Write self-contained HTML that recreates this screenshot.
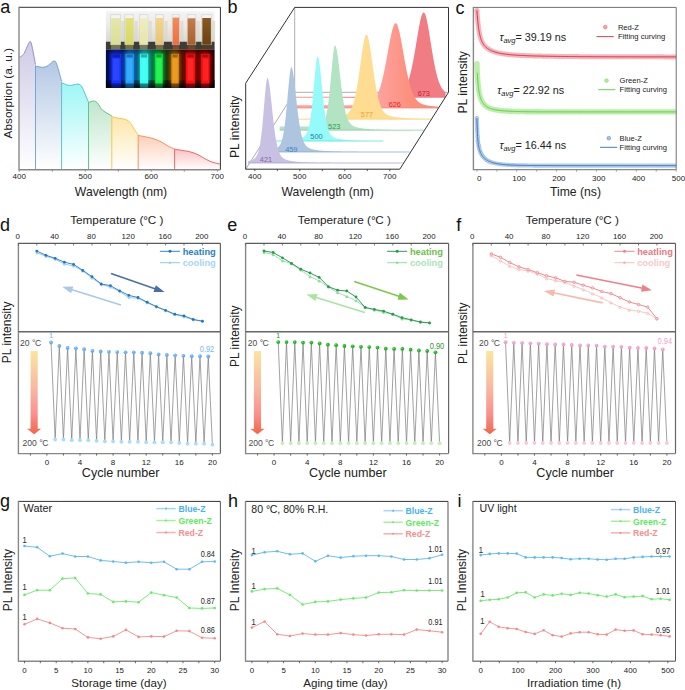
<!DOCTYPE html>
<html><head><meta charset="utf-8"><style>
html,body{margin:0;padding:0;background:#fff;}
svg{display:block;font-family:"Liberation Sans",sans-serif;}
</style></head><body>
<svg width="685" height="690" viewBox="0 0 685 690">
<defs><linearGradient id="ga0" x1="0" y1="0" x2="0" y2="1"><stop offset="0" stop-color="#cfcbe6"/><stop offset="1" stop-color="#ffffff"/></linearGradient>
<linearGradient id="ga1" x1="0" y1="0" x2="0" y2="1"><stop offset="0" stop-color="#b3c8e4"/><stop offset="1" stop-color="#ffffff"/></linearGradient>
<linearGradient id="ga2" x1="0" y1="0" x2="0" y2="1"><stop offset="0" stop-color="#9ef6f6"/><stop offset="1" stop-color="#ffffff"/></linearGradient>
<linearGradient id="ga3" x1="0" y1="0" x2="0" y2="1"><stop offset="0" stop-color="#bfe6cc"/><stop offset="1" stop-color="#ffffff"/></linearGradient>
<linearGradient id="ga4" x1="0" y1="0" x2="0" y2="1"><stop offset="0" stop-color="#fde6aa"/><stop offset="1" stop-color="#ffffff"/></linearGradient>
<linearGradient id="ga5" x1="0" y1="0" x2="0" y2="1"><stop offset="0" stop-color="#fccfb8"/><stop offset="1" stop-color="#ffffff"/></linearGradient>
<linearGradient id="ga6" x1="0" y1="0" x2="0" y2="1"><stop offset="0" stop-color="#fbc2c2"/><stop offset="1" stop-color="#ffffff"/></linearGradient>
<linearGradient id="ptop" x1="0" y1="0" x2="0" y2="1"><stop offset="0" stop-color="#f4f4f3"/><stop offset="0.5" stop-color="#eaeae6"/><stop offset="1" stop-color="#dadad2"/></linearGradient>
<filter id="soft" x="-5%" y="-5%" width="110%" height="110%"><feGaussianBlur stdDeviation="0.45"/></filter>
<filter id="glow" x="-50%" y="-20%" width="200%" height="140%"><feGaussianBlur stdDeviation="2.2"/></filter>
<linearGradient id="pbot" x1="0" y1="0" x2="1" y2="0"><stop offset="0" stop-color="#020836"/><stop offset="0.094" stop-color="#061a78"/><stop offset="0.16" stop-color="#041656"/><stop offset="0.218" stop-color="#08408a"/><stop offset="0.29" stop-color="#06345e"/><stop offset="0.35" stop-color="#087070"/><stop offset="0.42" stop-color="#065a48"/><stop offset="0.488" stop-color="#055228"/><stop offset="0.56" stop-color="#1a2a0a"/><stop offset="0.637" stop-color="#3a2a06"/><stop offset="0.7" stop-color="#3a0604"/><stop offset="0.779" stop-color="#640606"/><stop offset="0.85" stop-color="#3a0202"/><stop offset="0.915" stop-color="#460202"/><stop offset="1" stop-color="#1a0000"/></linearGradient>
<linearGradient id="liq0" x1="0" y1="0" x2="0" y2="1"><stop offset="0" stop-color="#e4e8a8"/><stop offset="1" stop-color="#dadf96"/></linearGradient>
<linearGradient id="liq1" x1="0" y1="0" x2="0" y2="1"><stop offset="0" stop-color="#e2e27a"/><stop offset="1" stop-color="#d8d866"/></linearGradient>
<linearGradient id="liq2" x1="0" y1="0" x2="0" y2="1"><stop offset="0" stop-color="#eeeebe"/><stop offset="1" stop-color="#e4e6aa"/></linearGradient>
<linearGradient id="liq3" x1="0" y1="0" x2="0" y2="1"><stop offset="0" stop-color="#f2d68c"/><stop offset="1" stop-color="#e8c474"/></linearGradient>
<linearGradient id="liq4" x1="0" y1="0" x2="0" y2="1"><stop offset="0" stop-color="#f48a5c"/><stop offset="1" stop-color="#ec7040"/></linearGradient>
<linearGradient id="liq5" x1="0" y1="0" x2="0" y2="1"><stop offset="0" stop-color="#c47c4c"/><stop offset="1" stop-color="#a8602c"/></linearGradient>
<linearGradient id="liq6" x1="0" y1="0" x2="0" y2="1"><stop offset="0" stop-color="#8a5a22"/><stop offset="1" stop-color="#6a4010"/></linearGradient>
<linearGradient id="g626" gradientUnits="userSpaceOnUse" x1="378" y1="0" x2="412" y2="0"><stop offset="0" stop-color="#fda2a0"/><stop offset="1" stop-color="#fd8e7a"/></linearGradient>
<linearGradient id="grd" x1="0" y1="0" x2="0" y2="1"><stop offset="0" stop-color="#fde4a0"/><stop offset="0.45" stop-color="#f8b8a0"/><stop offset="0.75" stop-color="#fc9090"/><stop offset="1" stop-color="#f06848"/></linearGradient>
<linearGradient id="gre" x1="0" y1="0" x2="0" y2="1"><stop offset="0" stop-color="#fde4a0"/><stop offset="0.45" stop-color="#f8b8a0"/><stop offset="0.75" stop-color="#fc9090"/><stop offset="1" stop-color="#f06848"/></linearGradient>
<linearGradient id="grf" x1="0" y1="0" x2="0" y2="1"><stop offset="0" stop-color="#fde4a0"/><stop offset="0.45" stop-color="#f8b8a0"/><stop offset="0.75" stop-color="#fc9090"/><stop offset="1" stop-color="#f06848"/></linearGradient></defs>
<rect x="0" y="0" width="685" height="690" fill="#fff"/>
<path d="M19.3,169.8 L19.3,57.3 C19.65,57.12 20.62,56.83 21.4,56.2 C22.18,55.57 23.07,55.03 24,53.5 C24.93,51.97 26.03,48.98 27,47 C27.97,45.02 29.05,42.1 29.8,41.6 C30.55,41.1 30.88,41.93 31.5,44 C32.12,46.07 32.83,50.58 33.5,54 C34.17,57.42 35.17,62.75 35.5,64.5 L35.5,169.8 Z" fill="url(#ga0)" stroke="none" stroke-width="1"/>
<path d="M19.3,57.3 C19.65,57.12 20.62,56.83 21.4,56.2 C22.18,55.57 23.07,55.03 24,53.5 C24.93,51.97 26.03,48.98 27,47 C27.97,45.02 29.05,42.1 29.8,41.6 C30.55,41.1 30.88,41.93 31.5,44 C32.12,46.07 32.83,50.58 33.5,54 C34.17,57.42 35.17,62.75 35.5,64.5" fill="none" stroke="#8a86c8" stroke-width="0.9"/>
<path d="M35.5,169.8 L35.5,66.1 C36.08,66.22 37.73,66.6 39,66.8 C40.27,67 41.77,67.38 43.1,67.3 C44.43,67.22 45.77,66.93 47,66.3 C48.23,65.67 49.35,64.38 50.5,63.5 C51.65,62.62 52.98,61.17 53.9,61 C54.82,60.83 55.23,61 56,62.5 C56.77,64 57.57,66.85 58.5,70 C59.43,73.15 61.08,79.5 61.6,81.4 L61.6,169.8 Z" fill="url(#ga1)" stroke="none" stroke-width="1"/>
<path d="M35.5,66.1 C36.08,66.22 37.73,66.6 39,66.8 C40.27,67 41.77,67.38 43.1,67.3 C44.43,67.22 45.77,66.93 47,66.3 C48.23,65.67 49.35,64.38 50.5,63.5 C51.65,62.62 52.98,61.17 53.9,61 C54.82,60.83 55.23,61 56,62.5 C56.77,64 57.57,66.85 58.5,70 C59.43,73.15 61.08,79.5 61.6,81.4" fill="none" stroke="#6f9bd2" stroke-width="0.9"/>
<line x1="35.5" y1="65.6" x2="35.5" y2="169.8" stroke="#6f9bd2" stroke-width="0.9"/>
<path d="M61.6,169.8 L61.6,82.7 C62,82.88 63.1,83.42 64,83.8 C64.9,84.18 65.93,84.73 67,85 C68.07,85.27 69.23,85.43 70.4,85.4 C71.57,85.37 72.9,85 74,84.8 C75.1,84.6 76.13,84.28 77,84.2 C77.87,84.12 78.37,83.83 79.2,84.3 C80.03,84.77 80.95,85.22 82,87 C83.05,88.78 84.42,92.45 85.5,95 C86.58,97.55 88,101.08 88.5,102.3 L88.5,169.8 Z" fill="url(#ga2)" stroke="none" stroke-width="1"/>
<path d="M61.6,82.7 C62,82.88 63.1,83.42 64,83.8 C64.9,84.18 65.93,84.73 67,85 C68.07,85.27 69.23,85.43 70.4,85.4 C71.57,85.37 72.9,85 74,84.8 C75.1,84.6 76.13,84.28 77,84.2 C77.87,84.12 78.37,83.83 79.2,84.3 C80.03,84.77 80.95,85.22 82,87 C83.05,88.78 84.42,92.45 85.5,95 C86.58,97.55 88,101.08 88.5,102.3" fill="none" stroke="#46c0c6" stroke-width="0.9"/>
<line x1="61.6" y1="82.2" x2="61.6" y2="169.8" stroke="#46c0c6" stroke-width="0.9"/>
<path d="M88.5,169.8 L88.5,102.7 C88.92,102.52 90.02,101.88 91,101.6 C91.98,101.32 93.4,100.85 94.4,101 C95.4,101.15 96.15,101.67 97,102.5 C97.85,103.33 98.8,104.95 99.5,106 C100.2,107.05 100.45,107.92 101.2,108.8 C101.95,109.68 102.87,110.47 104,111.3 C105.13,112.13 106.7,113.05 108,113.8 C109.3,114.55 111.17,115.47 111.8,115.8 L111.8,169.8 Z" fill="url(#ga3)" stroke="none" stroke-width="1"/>
<path d="M88.5,102.7 C88.92,102.52 90.02,101.88 91,101.6 C91.98,101.32 93.4,100.85 94.4,101 C95.4,101.15 96.15,101.67 97,102.5 C97.85,103.33 98.8,104.95 99.5,106 C100.2,107.05 100.45,107.92 101.2,108.8 C101.95,109.68 102.87,110.47 104,111.3 C105.13,112.13 106.7,113.05 108,113.8 C109.3,114.55 111.17,115.47 111.8,115.8" fill="none" stroke="#4fc27c" stroke-width="0.9"/>
<line x1="88.5" y1="102.2" x2="88.5" y2="169.8" stroke="#4fc27c" stroke-width="0.9"/>
<path d="M111.8,169.8 L111.8,116.5 C112.33,116.67 113.8,117.2 115,117.5 C116.2,117.8 117.75,118.08 119,118.3 C120.25,118.52 121.42,118.6 122.5,118.8 C123.58,119 124.5,119.13 125.5,119.5 C126.5,119.87 127.5,120.17 128.5,121 C129.5,121.83 130.5,123.08 131.5,124.5 C132.5,125.92 133.38,127.77 134.5,129.5 C135.62,131.23 137.58,134 138.2,134.9 L138.2,169.8 Z" fill="url(#ga4)" stroke="none" stroke-width="1"/>
<path d="M111.8,116.5 C112.33,116.67 113.8,117.2 115,117.5 C116.2,117.8 117.75,118.08 119,118.3 C120.25,118.52 121.42,118.6 122.5,118.8 C123.58,119 124.5,119.13 125.5,119.5 C126.5,119.87 127.5,120.17 128.5,121 C129.5,121.83 130.5,123.08 131.5,124.5 C132.5,125.92 133.38,127.77 134.5,129.5 C135.62,131.23 137.58,134 138.2,134.9" fill="none" stroke="#f3c338" stroke-width="0.9"/>
<line x1="111.8" y1="116" x2="111.8" y2="169.8" stroke="#f3c338" stroke-width="0.9"/>
<path d="M138.2,169.8 L138.2,135.5 C139,135.63 141.37,136 143,136.3 C144.63,136.6 146.5,136.97 148,137.3 C149.5,137.63 150.67,137.92 152,138.3 C153.33,138.68 154.67,139.1 156,139.6 C157.33,140.1 158.67,140.65 160,141.3 C161.33,141.95 162.67,142.72 164,143.5 C165.33,144.28 166.67,145.25 168,146 C169.33,146.75 170.9,147.53 172,148 C173.1,148.47 174.17,148.67 174.6,148.8 L174.6,169.8 Z" fill="url(#ga5)" stroke="none" stroke-width="1"/>
<path d="M138.2,135.5 C139,135.63 141.37,136 143,136.3 C144.63,136.6 146.5,136.97 148,137.3 C149.5,137.63 150.67,137.92 152,138.3 C153.33,138.68 154.67,139.1 156,139.6 C157.33,140.1 158.67,140.65 160,141.3 C161.33,141.95 162.67,142.72 164,143.5 C165.33,144.28 166.67,145.25 168,146 C169.33,146.75 170.9,147.53 172,148 C173.1,148.47 174.17,148.67 174.6,148.8" fill="none" stroke="#f08a55" stroke-width="0.9"/>
<line x1="138.2" y1="135" x2="138.2" y2="169.8" stroke="#f08a55" stroke-width="0.9"/>
<path d="M174.6,169.8 L174.6,149.3 C175.5,149.42 178.1,149.72 180,150 C181.9,150.28 184.33,150.7 186,151 C187.67,151.3 188.67,151.47 190,151.8 C191.33,152.13 192.67,152.52 194,153 C195.33,153.48 196.67,154.03 198,154.7 C199.33,155.37 200.67,156.23 202,157 C203.33,157.77 204.67,158.58 206,159.3 C207.33,160.02 208.67,160.73 210,161.3 C211.33,161.87 212.67,162.32 214,162.7 C215.33,163.08 216.97,163.37 218,163.6 C219.03,163.83 219.83,164.02 220.2,164.1 L220.2,169.8 Z" fill="url(#ga6)" stroke="none" stroke-width="1"/>
<path d="M174.6,149.3 C175.5,149.42 178.1,149.72 180,150 C181.9,150.28 184.33,150.7 186,151 C187.67,151.3 188.67,151.47 190,151.8 C191.33,152.13 192.67,152.52 194,153 C195.33,153.48 196.67,154.03 198,154.7 C199.33,155.37 200.67,156.23 202,157 C203.33,157.77 204.67,158.58 206,159.3 C207.33,160.02 208.67,160.73 210,161.3 C211.33,161.87 212.67,162.32 214,162.7 C215.33,163.08 216.97,163.37 218,163.6 C219.03,163.83 219.83,164.02 220.2,164.1" fill="none" stroke="#ee5a5a" stroke-width="0.9"/>
<line x1="174.6" y1="148.8" x2="174.6" y2="169.8" stroke="#ee5a5a" stroke-width="0.9"/>
<line x1="19" y1="7.3" x2="220.4" y2="7.3" stroke="#333" stroke-width="1"/>
<line x1="220.4" y1="7.3" x2="220.4" y2="169.8" stroke="#333" stroke-width="1"/>
<line x1="19" y1="169.8" x2="220.4" y2="169.8" stroke="#888" stroke-width="1.4"/>
<line x1="19" y1="6.8" x2="19" y2="170.5" stroke="#888" stroke-width="1.4"/>
<line x1="19.3" y1="169.8" x2="19.3" y2="171.8" stroke="#888" stroke-width="0.8"/>
<line x1="52.3" y1="169.8" x2="52.3" y2="171.8" stroke="#888" stroke-width="0.8"/>
<line x1="85.3" y1="169.8" x2="85.3" y2="171.8" stroke="#888" stroke-width="0.8"/>
<line x1="118.3" y1="169.8" x2="118.3" y2="171.8" stroke="#888" stroke-width="0.8"/>
<line x1="151.3" y1="169.8" x2="151.3" y2="171.8" stroke="#888" stroke-width="0.8"/>
<line x1="184.3" y1="169.8" x2="184.3" y2="171.8" stroke="#888" stroke-width="0.8"/>
<line x1="217.3" y1="169.8" x2="217.3" y2="171.8" stroke="#888" stroke-width="0.8"/>
<text x="19.3" y="179.08" font-size="8" text-anchor="middle" fill="#222">400</text>
<text x="85.3" y="179.08" font-size="8" text-anchor="middle" fill="#222">500</text>
<text x="151.3" y="179.08" font-size="8" text-anchor="middle" fill="#222">600</text>
<text x="217.3" y="179.08" font-size="8" text-anchor="middle" fill="#222">700</text>
<text x="121" y="196.3" font-size="12.2" text-anchor="middle" fill="#222">Wavelength (nm)</text>
<text x="12.3" y="93.2" font-size="11.8" text-anchor="middle" fill="#222" transform="rotate(-90 12.3 93.2)">Absorption (a. u.)</text>
<text x="0.3" y="13" font-size="18" text-anchor="start" fill="#111">a</text>
<g filter="url(#soft)">
<rect x="105.9" y="11.3" width="108.7" height="30.4" fill="url(#ptop)"/>
<rect x="105.9" y="41.7" width="108.7" height="8.1" fill="#3e3d36"/>
<rect x="105.9" y="49.8" width="108.7" height="38.1" fill="url(#pbot)"/>
<rect x="105.9" y="80.2" width="108.7" height="7.7" fill="#000008" opacity="0.75"/>
<rect x="121.4" y="21" width="3.2" height="20" fill="#d8d4c8" opacity="0.6"/>
<rect x="110.6" y="14.8" width="10.2" height="30" fill="#f4f4f2" opacity="0.7"/>
<rect x="110.6" y="14.8" width="10.2" height="30" fill="none" stroke="#c4c4be" stroke-width="0.45"/>
<rect x="111.1" y="18.2" width="9.2" height="26.4" fill="url(#liq0)"/>
<rect x="111.1" y="44.6" width="9.2" height="4.8" fill="#dadf96" opacity="0.35"/>
<rect x="134.4" y="21" width="3.2" height="20" fill="#d8d4c8" opacity="0.6"/>
<rect x="124.8" y="14.8" width="9" height="30" fill="#f4f4f2" opacity="0.7"/>
<rect x="124.8" y="14.8" width="9" height="30" fill="none" stroke="#c4c4be" stroke-width="0.45"/>
<rect x="125.3" y="18" width="8" height="26.6" fill="url(#liq1)"/>
<rect x="125.3" y="44.6" width="8" height="4.8" fill="#d8d866" opacity="0.35"/>
<rect x="148.6" y="21" width="3.2" height="20" fill="#d8d4c8" opacity="0.6"/>
<rect x="139.3" y="14.8" width="8.7" height="30" fill="#f4f4f2" opacity="0.7"/>
<rect x="139.3" y="14.8" width="8.7" height="30" fill="none" stroke="#c4c4be" stroke-width="0.45"/>
<rect x="139.8" y="18.4" width="7.7" height="26.2" fill="url(#liq2)"/>
<rect x="139.8" y="44.6" width="7.7" height="4.8" fill="#e4e6aa" opacity="0.35"/>
<rect x="164.4" y="21" width="3.2" height="20" fill="#d8d4c8" opacity="0.6"/>
<rect x="155.3" y="14.8" width="8.5" height="30" fill="#f4f4f2" opacity="0.7"/>
<rect x="155.3" y="14.8" width="8.5" height="30" fill="none" stroke="#c4c4be" stroke-width="0.45"/>
<rect x="155.8" y="18" width="7.5" height="26.6" fill="url(#liq3)"/>
<rect x="155.8" y="44.6" width="7.5" height="4.8" fill="#e8c474" opacity="0.35"/>
<rect x="180.2" y="21" width="3.2" height="20" fill="#d8d4c8" opacity="0.6"/>
<rect x="172.1" y="14.8" width="7.5" height="30" fill="#f4f4f2" opacity="0.7"/>
<rect x="172.1" y="14.8" width="7.5" height="30" fill="none" stroke="#c4c4be" stroke-width="0.45"/>
<rect x="172.6" y="17.6" width="6.5" height="27" fill="url(#liq4)"/>
<rect x="172.6" y="44.6" width="6.5" height="4.8" fill="#ec7040" opacity="0.35"/>
<rect x="196.5" y="21" width="3.2" height="20" fill="#d8d4c8" opacity="0.6"/>
<rect x="187.1" y="14.8" width="8.8" height="30" fill="#f4f4f2" opacity="0.7"/>
<rect x="187.1" y="14.8" width="8.8" height="30" fill="none" stroke="#c4c4be" stroke-width="0.45"/>
<rect x="187.6" y="18.3" width="7.8" height="26.3" fill="url(#liq5)"/>
<rect x="187.6" y="44.6" width="7.8" height="4.8" fill="#a8602c" opacity="0.35"/>
<rect x="212" y="21" width="3.2" height="20" fill="#d8d4c8" opacity="0.6"/>
<rect x="201.8" y="14.8" width="9.6" height="30" fill="#f4f4f2" opacity="0.7"/>
<rect x="201.8" y="14.8" width="9.6" height="30" fill="none" stroke="#c4c4be" stroke-width="0.45"/>
<rect x="202.3" y="18" width="8.6" height="26.6" fill="url(#liq6)"/>
<rect x="202.3" y="44.6" width="8.6" height="4.8" fill="#6a4010" opacity="0.35"/>
<rect x="109.9" y="52.5" width="12.7" height="31.5" fill="#1430ff" opacity="0.55" filter="url(#glow)"/>
<rect x="124" y="52.5" width="11.3" height="31.5" fill="#22a2ff" opacity="0.55" filter="url(#glow)"/>
<rect x="138.4" y="52.5" width="11.3" height="31.5" fill="#34fff2" opacity="0.55" filter="url(#glow)"/>
<rect x="153.7" y="52.5" width="10.5" height="31.5" fill="#12f044" opacity="0.55" filter="url(#glow)"/>
<rect x="169.9" y="52.5" width="10.4" height="31.5" fill="#e8920e" opacity="0.55" filter="url(#glow)"/>
<rect x="184.6" y="52.5" width="11.8" height="31.5" fill="#ff1010" opacity="0.55" filter="url(#glow)"/>
<rect x="199.7" y="52.5" width="11.3" height="31.5" fill="#ff0c0c" opacity="0.55" filter="url(#glow)"/>
<rect x="111.4" y="53.8" width="9.7" height="29.7" fill="#1430ff"/>
<rect x="113" y="58.5" width="6.5" height="22" fill="#ffffff" opacity="0.1"/>
<rect x="112.4" y="54.3" width="7.7" height="3.2" fill="#000000" opacity="0.3"/>
<rect x="111.4" y="83.5" width="9.7" height="4.2" fill="#1430ff" opacity="0.35"/>
<rect x="125.5" y="53.8" width="8.3" height="29.7" fill="#22a2ff"/>
<rect x="127.1" y="58.5" width="5.1" height="22" fill="#ffffff" opacity="0.1"/>
<rect x="126.5" y="54.3" width="6.3" height="3.2" fill="#000000" opacity="0.3"/>
<rect x="125.5" y="83.5" width="8.3" height="4.2" fill="#22a2ff" opacity="0.35"/>
<rect x="139.9" y="53.8" width="8.3" height="29.7" fill="#34fff2"/>
<rect x="141.5" y="58.5" width="5.1" height="22" fill="#ffffff" opacity="0.1"/>
<rect x="140.9" y="54.3" width="6.3" height="3.2" fill="#000000" opacity="0.3"/>
<rect x="139.9" y="83.5" width="8.3" height="4.2" fill="#34fff2" opacity="0.35"/>
<rect x="155.2" y="53.8" width="7.5" height="29.7" fill="#12f044"/>
<rect x="156.8" y="58.5" width="4.3" height="22" fill="#ffffff" opacity="0.1"/>
<rect x="156.2" y="54.3" width="5.5" height="3.2" fill="#000000" opacity="0.3"/>
<rect x="155.2" y="83.5" width="7.5" height="4.2" fill="#12f044" opacity="0.35"/>
<rect x="171.4" y="53.8" width="7.4" height="29.7" fill="#e8920e"/>
<rect x="173" y="58.5" width="4.2" height="22" fill="#ffffff" opacity="0.1"/>
<rect x="172.4" y="54.3" width="5.4" height="3.2" fill="#000000" opacity="0.3"/>
<rect x="171.4" y="83.5" width="7.4" height="4.2" fill="#e8920e" opacity="0.35"/>
<rect x="186.1" y="53.8" width="8.8" height="29.7" fill="#ff1010"/>
<rect x="187.7" y="58.5" width="5.6" height="22" fill="#ffffff" opacity="0.1"/>
<rect x="187.1" y="54.3" width="6.8" height="3.2" fill="#000000" opacity="0.3"/>
<rect x="186.1" y="83.5" width="8.8" height="4.2" fill="#ff1010" opacity="0.35"/>
<rect x="201.2" y="53.8" width="8.3" height="29.7" fill="#ff0c0c"/>
<rect x="202.8" y="58.5" width="5.1" height="22" fill="#ffffff" opacity="0.1"/>
<rect x="202.2" y="54.3" width="6.3" height="3.2" fill="#000000" opacity="0.3"/>
<rect x="201.2" y="83.5" width="8.3" height="4.2" fill="#ff0c0c" opacity="0.35"/>
</g>
<line x1="294.7" y1="92.3" x2="448.5" y2="92.3" stroke="#777" stroke-width="0.6"/>
<line x1="294.7" y1="7.4" x2="294.7" y2="92.3" stroke="#777" stroke-width="0.6"/>
<line x1="245.7" y1="169.2" x2="294.7" y2="92.3" stroke="#777" stroke-width="0.6"/>
<path d="M295.88,97.5 L295.88,97.34 L296.11,97.34 L296.33,97.34 L296.56,97.34 L296.78,97.34 L297.01,97.34 L297.23,97.34 L297.46,97.34 L297.68,97.33 L297.91,97.33 L298.13,97.33 L298.36,97.33 L298.58,97.33 L298.81,97.33 L299.03,97.33 L299.26,97.33 L299.48,97.33 L299.71,97.33 L299.93,97.33 L300.16,97.33 L300.38,97.33 L300.61,97.33 L300.83,97.33 L301.06,97.33 L301.28,97.32 L301.51,97.32 L301.73,97.32 L301.96,97.32 L302.18,97.32 L302.41,97.32 L302.63,97.32 L302.86,97.32 L303.08,97.32 L303.31,97.32 L303.53,97.32 L303.76,97.32 L303.98,97.32 L304.21,97.32 L304.43,97.32 L304.66,97.31 L304.88,97.31 L305.11,97.31 L305.33,97.31 L305.56,97.31 L305.78,97.31 L306.01,97.31 L306.23,97.31 L306.46,97.31 L306.68,97.31 L306.91,97.31 L307.13,97.31 L307.36,97.31 L307.58,97.31 L307.81,97.3 L308.03,97.3 L308.26,97.3 L308.48,97.3 L308.71,97.3 L308.93,97.3 L309.16,97.3 L309.38,97.3 L309.61,97.3 L309.83,97.3 L310.06,97.3 L310.28,97.3 L310.51,97.3 L310.73,97.29 L310.96,97.29 L311.18,97.29 L311.41,97.29 L311.63,97.29 L311.86,97.29 L312.08,97.29 L312.31,97.29 L312.53,97.29 L312.76,97.29 L312.98,97.29 L313.21,97.29 L313.43,97.28 L313.66,97.28 L313.88,97.28 L314.11,97.28 L314.33,97.28 L314.56,97.28 L314.78,97.28 L315.01,97.28 L315.23,97.28 L315.46,97.28 L315.68,97.28 L315.91,97.27 L316.13,97.27 L316.36,97.27 L316.58,97.27 L316.81,97.27 L317.03,97.27 L317.26,97.27 L317.48,97.27 L317.71,97.27 L317.93,97.27 L318.16,97.26 L318.38,97.26 L318.61,97.26 L318.83,97.26 L319.06,97.26 L319.28,97.26 L319.51,97.26 L319.73,97.26 L319.96,97.26 L320.18,97.26 L320.41,97.25 L320.63,97.25 L320.86,97.25 L321.08,97.25 L321.31,97.25 L321.53,97.25 L321.76,97.25 L321.98,97.25 L322.21,97.25 L322.43,97.24 L322.66,97.24 L322.88,97.24 L323.11,97.24 L323.33,97.24 L323.56,97.24 L323.78,97.24 L324.01,97.24 L324.23,97.24 L324.46,97.23 L324.68,97.23 L324.91,97.23 L325.13,97.23 L325.36,97.23 L325.58,97.23 L325.81,97.23 L326.03,97.23 L326.26,97.22 L326.48,97.22 L326.71,97.22 L326.93,97.22 L327.16,97.22 L327.38,97.22 L327.61,97.22 L327.83,97.22 L328.06,97.21 L328.28,97.21 L328.51,97.21 L328.73,97.21 L328.96,97.21 L329.18,97.21 L329.41,97.21 L329.63,97.2 L329.86,97.2 L330.08,97.2 L330.31,97.2 L330.53,97.2 L330.76,97.2 L330.98,97.2 L331.21,97.19 L331.43,97.19 L331.66,97.19 L331.88,97.19 L332.11,97.19 L332.33,97.19 L332.56,97.19 L332.78,97.18 L333.01,97.18 L333.23,97.18 L333.46,97.18 L333.68,97.18 L333.91,97.18 L334.13,97.17 L334.36,97.17 L334.58,97.17 L334.81,97.17 L335.03,97.17 L335.26,97.17 L335.48,97.16 L335.71,97.16 L335.93,97.16 L336.16,97.16 L336.38,97.16 L336.61,97.16 L336.83,97.15 L337.06,97.15 L337.28,97.15 L337.51,97.15 L337.73,97.15 L337.96,97.15 L338.18,97.14 L338.41,97.14 L338.63,97.14 L338.86,97.14 L339.08,97.14 L339.31,97.13 L339.53,97.13 L339.76,97.13 L339.98,97.13 L340.21,97.13 L340.43,97.12 L340.66,97.12 L340.88,97.12 L341.11,97.12 L341.33,97.12 L341.56,97.11 L341.78,97.11 L342.01,97.11 L342.23,97.11 L342.46,97.11 L342.68,97.1 L342.91,97.1 L343.13,97.1 L343.36,97.1 L343.58,97.09 L343.81,97.09 L344.03,97.09 L344.26,97.09 L344.48,97.09 L344.71,97.08 L344.93,97.08 L345.16,97.08 L345.38,97.08 L345.61,97.07 L345.83,97.07 L346.06,97.07 L346.28,97.07 L346.51,97.06 L346.73,97.06 L346.96,97.06 L347.18,97.06 L347.41,97.05 L347.63,97.05 L347.86,97.05 L348.08,97.05 L348.31,97.04 L348.53,97.04 L348.76,97.04 L348.98,97.03 L349.21,97.03 L349.43,97.03 L349.66,97.03 L349.88,97.02 L350.11,97.02 L350.33,97.02 L350.56,97.01 L350.78,97.01 L351.01,97.01 L351.23,97.01 L351.46,97 L351.68,97 L351.91,97 L352.13,96.99 L352.36,96.99 L352.58,96.99 L352.81,96.98 L353.03,96.98 L353.26,96.98 L353.48,96.97 L353.71,96.97 L353.93,96.97 L354.16,96.96 L354.38,96.96 L354.61,96.96 L354.83,96.95 L355.06,96.95 L355.28,96.95 L355.51,96.94 L355.73,96.94 L355.96,96.94 L356.18,96.93 L356.41,96.93 L356.63,96.92 L356.86,96.92 L357.08,96.92 L357.31,96.91 L357.53,96.91 L357.76,96.9 L357.98,96.9 L358.21,96.9 L358.43,96.89 L358.66,96.89 L358.88,96.88 L359.11,96.88 L359.33,96.88 L359.56,96.87 L359.78,96.87 L360.01,96.86 L360.23,96.86 L360.46,96.85 L360.68,96.85 L360.91,96.84 L361.13,96.84 L361.36,96.84 L361.58,96.83 L361.81,96.83 L362.03,96.82 L362.26,96.82 L362.48,96.81 L362.71,96.81 L362.93,96.8 L363.16,96.8 L363.38,96.79 L363.61,96.79 L363.83,96.78 L364.06,96.78 L364.28,96.77 L364.51,96.76 L364.73,96.76 L364.96,96.75 L365.18,96.75 L365.41,96.74 L365.63,96.74 L365.86,96.73 L366.08,96.73 L366.31,96.72 L366.53,96.71 L366.76,96.71 L366.98,96.7 L367.21,96.69 L367.43,96.69 L367.66,96.68 L367.88,96.68 L368.11,96.67 L368.33,96.66 L368.56,96.66 L368.78,96.65 L369.01,96.64 L369.23,96.64 L369.46,96.63 L369.68,96.62 L369.91,96.61 L370.13,96.61 L370.36,96.6 L370.58,96.59 L370.81,96.58 L371.03,96.58 L371.26,96.57 L371.48,96.56 L371.71,96.55 L371.93,96.55 L372.16,96.54 L372.38,96.53 L372.61,96.52 L372.83,96.51 L373.06,96.5 L373.28,96.5 L373.51,96.49 L373.73,96.48 L373.96,96.47 L374.18,96.46 L374.41,96.45 L374.63,96.44 L374.86,96.43 L375.08,96.42 L375.31,96.41 L375.53,96.4 L375.76,96.39 L375.98,96.38 L376.21,96.37 L376.43,96.36 L376.66,96.35 L376.88,96.34 L377.11,96.33 L377.33,96.32 L377.56,96.31 L377.78,96.3 L378.01,96.29 L378.23,96.27 L378.46,96.26 L378.68,96.25 L378.91,96.24 L379.13,96.23 L379.36,96.21 L379.58,96.2 L379.81,96.19 L380.03,96.18 L380.26,96.16 L380.48,96.15 L380.71,96.14 L380.93,96.12 L381.16,96.11 L381.38,96.09 L381.61,96.08 L381.83,96.07 L382.06,96.05 L382.28,96.04 L382.51,96.02 L382.73,96 L382.96,95.99 L383.18,95.97 L383.41,95.96 L383.63,95.94 L383.86,95.92 L384.08,95.91 L384.31,95.89 L384.53,95.87 L384.76,95.85 L384.98,95.84 L385.21,95.82 L385.43,95.8 L385.66,95.78 L385.88,95.76 L386.11,95.74 L386.33,95.72 L386.56,95.7 L386.78,95.68 L387.01,95.66 L387.23,95.64 L387.46,95.61 L387.68,95.59 L387.91,95.57 L388.13,95.55 L388.36,95.52 L388.58,95.5 L388.81,95.47 L389.03,95.45 L389.26,95.42 L389.48,95.4 L389.71,95.37 L389.93,95.34 L390.16,95.31 L390.38,95.29 L390.61,95.26 L390.83,95.23 L391.06,95.2 L391.28,95.17 L391.51,95.13 L391.73,95.1 L391.96,95.07 L392.18,95.03 L392.41,95 L392.63,94.96 L392.86,94.93 L393.08,94.89 L393.31,94.85 L393.53,94.81 L393.76,94.77 L393.98,94.73 L394.21,94.68 L394.43,94.64 L394.66,94.59 L394.88,94.54 L395.11,94.49 L395.33,94.44 L395.56,94.39 L395.78,94.33 L396.01,94.27 L396.23,94.21 L396.46,94.15 L396.68,94.09 L396.91,94.02 L397.13,93.95 L397.36,93.88 L397.58,93.8 L397.81,93.72 L398.03,93.64 L398.26,93.56 L398.48,93.47 L398.71,93.37 L398.93,93.27 L399.16,93.17 L399.38,93.07 L399.61,92.95 L399.83,92.84 L400.06,92.71 L400.28,92.59 L400.51,92.45 L400.73,92.31 L400.96,92.16 L401.18,92.01 L401.41,91.84 L401.63,91.67 L401.86,91.49 L402.08,91.3 L402.31,91.11 L402.53,90.9 L402.76,90.68 L402.98,90.45 L403.21,90.21 L403.43,89.96 L403.66,89.7 L403.88,89.43 L404.11,89.14 L404.33,88.84 L404.56,88.52 L404.78,88.19 L405.01,87.84 L405.23,87.48 L405.46,87.1 L405.68,86.71 L405.91,86.3 L406.13,85.87 L406.36,85.42 L406.58,84.95 L406.81,84.46 L407.03,83.95 L407.26,83.42 L407.48,82.87 L407.71,82.3 L407.93,81.71 L408.16,81.09 L408.38,80.45 L408.61,79.79 L408.83,79.1 L409.06,78.39 L409.28,77.65 L409.51,76.89 L409.73,76.1 L409.96,75.29 L410.18,74.46 L410.41,73.59 L410.63,72.7 L410.86,71.79 L411.08,70.85 L411.31,69.89 L411.53,68.9 L411.76,67.88 L411.98,66.84 L412.21,65.77 L412.43,64.68 L412.66,63.57 L412.88,62.44 L413.11,61.28 L413.33,60.1 L413.56,58.89 L413.78,57.67 L414.01,56.43 L414.23,55.17 L414.46,53.9 L414.68,52.61 L414.91,51.3 L415.13,49.98 L415.36,48.65 L415.58,47.31 L415.81,45.96 L416.03,44.6 L416.26,43.24 L416.48,41.87 L416.71,40.51 L416.93,39.14 L417.16,37.78 L417.38,36.43 L417.61,35.08 L417.83,33.74 L418.06,32.42 L418.28,31.12 L418.51,29.83 L418.73,28.56 L418.96,27.32 L419.18,26.11 L419.41,24.93 L419.63,23.79 L419.86,22.68 L420.08,21.61 L420.31,20.59 L420.53,19.61 L420.76,18.69 L420.98,17.82 L421.21,17 L421.43,16.25 L421.66,15.56 L421.88,14.93 L422.11,14.37 L422.33,13.88 L422.56,13.46 L422.78,13.12 L423.01,12.85 L423.23,12.66 L423.46,12.54 L423.68,12.5 L423.91,12.54 L424.13,12.67 L424.36,12.88 L424.58,13.17 L424.81,13.54 L425.03,13.99 L425.26,14.52 L425.48,15.12 L425.71,15.79 L425.93,16.54 L426.16,17.35 L426.38,18.22 L426.61,19.15 L426.83,20.14 L427.06,21.18 L427.28,22.27 L427.51,23.41 L427.73,24.59 L427.96,25.8 L428.18,27.05 L428.41,28.34 L428.63,29.65 L428.86,30.98 L429.08,32.34 L429.31,33.71 L429.53,35.1 L429.76,36.5 L429.98,37.9 L430.21,39.32 L430.43,40.74 L430.66,42.16 L430.88,43.57 L431.11,44.99 L431.33,46.39 L431.56,47.79 L431.78,49.18 L432.01,50.56 L432.23,51.93 L432.46,53.28 L432.68,54.61 L432.91,55.93 L433.13,57.22 L433.36,58.5 L433.58,59.76 L433.81,60.99 L434.03,62.2 L434.26,63.38 L434.48,64.54 L434.71,65.68 L434.93,66.78 L435.16,67.87 L435.38,68.92 L435.61,69.95 L435.83,70.95 L436.06,71.92 L436.28,72.87 L436.51,73.79 L436.73,74.68 L436.96,75.54 L437.18,76.37 L437.41,77.18 L437.63,77.96 L437.86,78.71 L438.08,79.44 L438.31,80.14 L438.53,80.82 L438.76,81.47 L438.98,82.1 L439.21,82.7 L439.43,83.28 L439.66,83.83 L439.88,84.36 L440.11,84.87 L440.33,85.36 L440.56,85.83 L440.78,86.28 L441.01,86.71 L441.23,87.12 L441.46,87.51 L441.68,87.89 L441.91,88.24 L442.13,88.58 L442.36,88.91 L442.58,89.22 L442.81,89.51 L443.03,89.8 L443.26,90.06 L443.48,90.32 L443.71,90.56 L443.93,90.79 L444.16,91.01 L444.38,91.22 L444.61,91.42 L444.83,91.61 L445.06,91.79 L445.28,91.96 L445.51,92.13 L445.53,92.13 L445.53,97.5 Z" fill="#f27c84" stroke="none" stroke-width="1"/>
<line x1="295.88" y1="97.2" x2="445.53" y2="97.2" stroke="#ec7078" stroke-width="0.6"/>
<text x="423.8" y="96.36" font-size="7.4" text-anchor="middle" fill="#c82030">673</text>
<path d="M295.76,108.2 L295.76,105.14 L295.99,105.14 L296.21,105.14 L296.44,105.14 L296.66,105.14 L296.89,105.14 L297.11,105.14 L297.34,105.14 L297.56,105.14 L297.79,105.14 L298.01,105.14 L298.24,105.14 L298.46,105.14 L298.69,105.14 L298.91,105.14 L299.14,105.14 L299.36,105.14 L299.59,105.14 L299.81,105.14 L300.04,105.14 L300.26,105.14 L300.49,105.14 L300.71,105.14 L300.94,105.14 L301.16,105.14 L301.39,105.14 L301.61,105.14 L301.84,105.14 L302.06,105.14 L302.29,105.14 L302.51,105.14 L302.74,105.14 L302.96,105.14 L303.19,105.14 L303.41,105.14 L303.64,105.14 L303.86,105.14 L304.09,105.14 L304.31,105.14 L304.54,105.14 L304.76,105.14 L304.99,105.14 L305.21,105.14 L305.44,105.14 L305.66,105.14 L305.89,105.14 L306.11,105.14 L306.34,105.14 L306.56,105.14 L306.79,105.14 L307.01,105.14 L307.24,105.14 L307.46,105.14 L307.69,105.14 L307.91,105.14 L308.14,105.14 L308.36,105.14 L308.59,105.14 L308.81,105.14 L309.04,105.14 L309.26,105.14 L309.49,105.14 L309.71,105.14 L309.94,105.14 L310.16,105.14 L310.39,105.14 L310.61,105.14 L310.84,105.14 L311.06,105.14 L311.29,105.14 L311.51,105.14 L311.74,105.14 L311.96,105.14 L312.19,105.14 L312.41,105.14 L312.64,105.14 L312.86,105.14 L313.09,105.14 L313.31,105.14 L313.54,105.14 L313.76,105.14 L313.99,105.14 L314.21,105.14 L314.44,105.14 L314.66,105.14 L314.89,105.14 L315.11,105.14 L315.34,105.14 L315.56,105.14 L315.79,105.14 L316.01,105.14 L316.24,105.14 L316.46,105.14 L316.69,105.14 L316.91,105.14 L317.14,105.14 L317.36,105.14 L317.59,105.14 L317.81,105.14 L318.04,105.14 L318.26,105.14 L318.49,105.14 L318.71,105.14 L318.94,105.14 L319.16,105.14 L319.39,105.14 L319.61,105.14 L319.84,105.14 L320.06,105.14 L320.29,105.14 L320.51,105.14 L320.74,105.14 L320.96,105.14 L321.19,105.14 L321.41,105.14 L321.64,105.14 L321.86,105.14 L322.09,105.14 L322.31,105.14 L322.54,105.14 L322.76,105.14 L322.99,105.14 L323.21,105.14 L323.44,105.14 L323.66,105.14 L323.89,105.14 L324.11,105.14 L324.34,105.14 L324.56,105.14 L324.79,105.14 L325.01,105.14 L325.24,105.14 L325.46,105.14 L325.69,105.14 L325.91,105.14 L326.14,105.14 L326.36,105.14 L326.59,105.14 L326.81,105.14 L327.04,105.14 L327.26,105.14 L327.49,105.14 L327.71,105.14 L327.94,105.14 L328.16,105.14 L328.39,105.14 L328.61,105.14 L328.84,105.14 L329.06,105.14 L329.29,105.14 L329.51,105.14 L329.74,105.14 L329.96,105.14 L330.19,105.14 L330.41,105.14 L330.64,105.14 L330.86,105.14 L331.09,105.14 L331.31,105.14 L331.54,105.14 L331.76,105.14 L331.99,105.14 L332.21,105.14 L332.44,105.14 L332.66,105.14 L332.89,105.14 L333.11,105.14 L333.34,105.14 L333.56,105.14 L333.79,105.14 L334.01,105.14 L334.24,105.14 L334.46,105.14 L334.69,105.14 L334.91,105.14 L335.14,105.14 L335.36,105.14 L335.59,105.14 L335.81,105.14 L336.04,105.14 L336.26,105.14 L336.49,105.14 L336.71,105.14 L336.94,105.14 L337.16,105.14 L337.39,105.14 L337.61,105.14 L337.84,105.14 L338.06,105.14 L338.29,105.14 L338.51,105.14 L338.74,105.14 L338.96,105.14 L339.19,105.14 L339.41,105.14 L339.64,105.14 L339.86,105.14 L340.09,105.14 L340.31,105.14 L340.54,105.14 L340.76,105.14 L340.99,105.14 L341.21,105.14 L341.44,105.14 L341.66,105.14 L341.89,105.14 L342.11,105.14 L342.34,105.14 L342.56,105.14 L342.79,105.14 L343.01,105.14 L343.24,105.14 L343.46,105.14 L343.69,105.14 L343.91,105.14 L344.14,105.14 L344.36,105.14 L344.59,105.14 L344.81,105.14 L345.04,105.14 L345.26,105.14 L345.49,105.14 L345.71,105.14 L345.94,105.14 L346.16,105.14 L346.39,105.14 L346.61,105.14 L346.84,105.14 L347.06,105.14 L347.29,105.14 L347.51,105.14 L347.74,105.14 L347.96,105.14 L348.19,105.14 L348.41,105.14 L348.64,105.14 L348.86,105.14 L349.09,105.14 L349.31,105.14 L349.54,105.14 L349.76,105.14 L349.99,105.14 L350.21,105.14 L350.44,105.14 L350.66,105.14 L350.89,105.14 L351.11,105.14 L351.34,105.14 L351.56,105.14 L351.79,105.14 L352.01,105.14 L352.24,105.14 L352.46,105.14 L352.69,105.14 L352.91,105.14 L353.14,105.14 L353.36,105.14 L353.59,105.14 L353.81,105.14 L354.04,105.14 L354.26,105.14 L354.49,105.14 L354.71,105.14 L354.94,105.14 L355.16,105.14 L355.39,105.14 L355.61,105.14 L355.84,105.14 L356.06,105.14 L356.29,105.14 L356.51,105.14 L356.74,105.14 L356.96,105.14 L357.19,105.14 L357.41,105.14 L357.64,105.14 L357.86,105.14 L358.09,105.14 L358.31,105.14 L358.54,105.14 L358.76,105.14 L358.99,105.14 L359.21,105.14 L359.44,105.14 L359.66,105.14 L359.89,105.14 L360.11,105.14 L360.34,105.14 L360.56,105.14 L360.79,105.14 L361.01,105.14 L361.24,105.14 L361.46,105.14 L361.69,105.14 L361.91,105.14 L362.14,105.14 L362.36,105.14 L362.59,105.14 L362.81,105.14 L363.04,105.14 L363.26,105.14 L363.49,105.14 L363.71,105.14 L363.94,105.14 L364.16,105.14 L364.39,105.14 L364.61,105.11 L364.84,105.06 L365.06,105.01 L365.29,104.96 L365.51,104.9 L365.74,104.85 L365.96,104.79 L366.19,104.73 L366.41,104.66 L366.64,104.6 L366.86,104.53 L367.09,104.46 L367.31,104.39 L367.54,104.31 L367.76,104.23 L367.99,104.15 L368.21,104.06 L368.44,103.97 L368.66,103.88 L368.89,103.79 L369.11,103.68 L369.34,103.58 L369.56,103.47 L369.79,103.36 L370.01,103.24 L370.24,103.11 L370.46,102.98 L370.69,102.85 L370.91,102.71 L371.14,102.56 L371.36,102.4 L371.59,102.24 L371.81,102.07 L372.04,101.9 L372.26,101.71 L372.49,101.52 L372.71,101.32 L372.94,101.11 L373.16,100.89 L373.39,100.66 L373.61,100.43 L373.84,100.18 L374.06,99.92 L374.29,99.65 L374.51,99.37 L374.74,99.07 L374.96,98.77 L375.19,98.45 L375.41,98.11 L375.64,97.77 L375.86,97.41 L376.09,97.03 L376.31,96.65 L376.54,96.24 L376.76,95.82 L376.99,95.38 L377.21,94.93 L377.44,94.46 L377.66,93.98 L377.89,93.47 L378.11,92.95 L378.34,92.41 L378.56,91.85 L378.79,91.27 L379.01,90.67 L379.24,90.05 L379.46,89.41 L379.69,88.76 L379.91,88.08 L380.14,87.38 L380.36,86.66 L380.59,85.92 L380.81,85.16 L381.04,84.37 L381.26,83.57 L381.49,82.74 L381.71,81.9 L381.94,81.03 L382.16,80.14 L382.39,79.23 L382.61,78.3 L382.84,77.35 L383.06,76.38 L383.29,75.38 L383.51,74.37 L383.74,73.34 L383.96,72.3 L384.19,71.23 L384.41,70.14 L384.64,69.04 L384.86,67.92 L385.09,66.79 L385.31,65.64 L385.54,64.48 L385.76,63.31 L385.99,62.12 L386.21,60.92 L386.44,59.71 L386.66,58.49 L386.89,57.27 L387.11,56.04 L387.34,54.8 L387.56,53.56 L387.79,52.32 L388.01,51.08 L388.24,49.84 L388.46,48.6 L388.69,47.37 L388.91,46.15 L389.14,44.93 L389.36,43.72 L389.59,42.53 L389.81,41.34 L390.04,40.18 L390.26,39.04 L390.49,37.91 L390.71,36.81 L390.94,35.74 L391.16,34.69 L391.39,33.68 L391.61,32.7 L391.84,31.75 L392.06,30.84 L392.29,29.97 L392.51,29.15 L392.74,28.37 L392.96,27.63 L393.19,26.95 L393.41,26.32 L393.64,25.74 L393.86,25.22 L394.09,24.75 L394.31,24.34 L394.54,24 L394.76,23.71 L394.99,23.49 L395.21,23.33 L395.44,23.23 L395.66,23.2 L395.89,23.23 L396.11,23.34 L396.34,23.51 L396.56,23.75 L396.79,24.05 L397.01,24.42 L397.24,24.86 L397.46,25.36 L397.69,25.92 L397.91,26.53 L398.14,27.21 L398.36,27.94 L398.59,28.72 L398.81,29.55 L399.04,30.43 L399.26,31.35 L399.49,32.31 L399.71,33.32 L399.94,34.35 L400.16,35.43 L400.39,36.53 L400.61,37.66 L400.84,38.82 L401.06,40 L401.29,41.21 L401.51,42.43 L401.74,43.66 L401.96,44.91 L402.19,46.17 L402.41,47.44 L402.64,48.72 L402.86,50 L403.09,51.29 L403.31,52.57 L403.54,53.86 L403.76,55.14 L403.99,56.42 L404.21,57.69 L404.44,58.95 L404.66,60.21 L404.89,61.46 L405.11,62.69 L405.34,63.92 L405.56,65.12 L405.79,66.32 L406.01,67.5 L406.24,68.66 L406.46,69.81 L406.69,70.94 L406.91,72.05 L407.14,73.14 L407.36,74.21 L407.59,75.26 L407.81,76.28 L408.04,77.29 L408.26,78.28 L408.49,79.24 L408.71,80.18 L408.94,81.1 L409.16,82 L409.39,82.87 L409.61,83.72 L409.84,84.55 L410.06,85.35 L410.29,86.14 L410.51,86.9 L410.74,87.64 L410.96,88.35 L411.19,89.05 L411.41,89.72 L411.64,90.37 L411.86,91 L412.09,91.6 L412.31,92.19 L412.54,92.76 L412.76,93.31 L412.99,93.83 L413.21,94.34 L413.44,94.83 L413.66,95.31 L413.89,95.76 L414.11,96.2 L414.34,96.62 L414.56,97.02 L414.79,97.41 L415.01,97.78 L415.24,98.14 L415.46,98.48 L415.69,98.81 L415.91,99.12 L416.14,99.43 L416.36,99.72 L416.59,99.99 L416.81,100.26 L417.04,100.51 L417.26,100.75 L417.49,100.99 L417.71,101.21 L417.94,101.42 L418.16,101.62 L418.39,101.82 L418.61,102 L418.84,102.18 L419.06,102.35 L419.29,102.51 L419.51,102.67 L419.74,102.82 L419.96,102.96 L420.19,103.09 L420.41,103.22 L420.64,103.35 L420.86,103.47 L421.09,103.58 L421.31,103.69 L421.54,103.79 L421.76,103.89 L421.99,103.99 L422.21,104.08 L422.44,104.17 L422.66,104.25 L422.89,104.33 L423.11,104.41 L423.34,104.48 L423.56,104.56 L423.79,104.62 L424.01,104.69 L424.24,104.76 L424.46,104.82 L424.69,104.88 L424.91,104.93 L425.14,104.99 L425.36,105.04 L425.59,105.09 L425.81,105.15 L426.04,105.19 L426.26,105.24 L426.49,105.29 L426.71,105.33 L426.94,105.37 L427.16,105.41 L427.39,105.46 L427.61,105.49 L427.84,105.53 L428.06,105.57 L428.29,105.61 L428.51,105.64 L428.74,105.68 L428.96,105.71 L429.19,105.74 L429.41,105.77 L429.64,105.81 L429.86,105.84 L430.09,105.87 L430.31,105.9 L430.54,105.92 L430.76,105.95 L430.99,105.98 L431.21,106.01 L431.44,106.03 L431.66,106.06 L431.89,106.08 L432.11,106.11 L432.34,106.13 L432.56,106.16 L432.79,106.18 L433.01,106.2 L433.24,106.23 L433.46,106.25 L433.69,106.27 L433.91,106.29 L434.14,106.31 L434.36,106.33 L434.59,106.35 L434.81,106.37 L435.04,106.39 L435.26,106.41 L435.49,106.43 L435.71,106.45 L435.94,106.47 L436.16,106.49 L436.39,106.51 L436.61,106.52 L436.84,106.54 L437.06,106.56 L437.29,106.57 L437.51,106.59 L437.74,106.61 L437.96,106.62 L438.19,106.64 L438.41,106.65 L438.64,106.67 L438.66,106.67 L438.66,108.2 Z" fill="url(#g626)" stroke="none" stroke-width="1"/>
<line x1="295.76" y1="107.9" x2="438.66" y2="107.9" stroke="#f88a78" stroke-width="0.6"/>
<text x="394.8" y="106.86" font-size="7.4" text-anchor="middle" fill="#f02020">626</text>
<path d="M297.57,119.4 L297.57,118.97 L297.8,118.97 L298.02,118.97 L298.25,118.96 L298.47,118.96 L298.7,118.96 L298.92,118.96 L299.15,118.95 L299.37,118.95 L299.6,118.95 L299.82,118.94 L300.05,118.94 L300.27,118.94 L300.5,118.93 L300.72,118.93 L300.95,118.93 L301.17,118.92 L301.4,118.92 L301.62,118.92 L301.85,118.91 L302.07,118.91 L302.3,118.91 L302.52,118.9 L302.75,118.9 L302.97,118.9 L303.2,118.89 L303.42,118.89 L303.65,118.89 L303.87,118.88 L304.1,118.88 L304.32,118.88 L304.55,118.87 L304.77,118.87 L305,118.86 L305.22,118.86 L305.45,118.86 L305.67,118.85 L305.9,118.85 L306.12,118.84 L306.35,118.84 L306.57,118.84 L306.8,118.83 L307.02,118.83 L307.25,118.82 L307.47,118.82 L307.7,118.81 L307.92,118.81 L308.15,118.81 L308.37,118.8 L308.6,118.8 L308.82,118.79 L309.05,118.79 L309.27,118.78 L309.5,118.78 L309.72,118.77 L309.95,118.77 L310.17,118.76 L310.4,118.76 L310.62,118.75 L310.85,118.75 L311.07,118.74 L311.3,118.74 L311.52,118.73 L311.75,118.73 L311.97,118.72 L312.2,118.72 L312.42,118.71 L312.65,118.7 L312.87,118.7 L313.1,118.69 L313.32,118.69 L313.55,118.68 L313.77,118.68 L314,118.67 L314.22,118.66 L314.45,118.66 L314.67,118.65 L314.9,118.64 L315.12,118.64 L315.35,118.63 L315.57,118.62 L315.8,118.62 L316.02,118.61 L316.25,118.6 L316.47,118.6 L316.7,118.59 L316.92,118.58 L317.15,118.57 L317.37,118.57 L317.6,118.56 L317.82,118.55 L318.05,118.54 L318.27,118.54 L318.5,118.53 L318.72,118.52 L318.95,118.51 L319.17,118.5 L319.4,118.5 L319.62,118.49 L319.85,118.48 L320.07,118.47 L320.3,118.46 L320.52,118.45 L320.75,118.44 L320.97,118.43 L321.2,118.42 L321.42,118.42 L321.65,118.41 L321.87,118.4 L322.1,118.39 L322.32,118.38 L322.55,118.37 L322.77,118.36 L323,118.35 L323.22,118.33 L323.45,118.32 L323.67,118.31 L323.9,118.3 L324.12,118.29 L324.35,118.28 L324.57,118.27 L324.8,118.25 L325.02,118.24 L325.25,118.23 L325.47,118.22 L325.7,118.21 L325.92,118.19 L326.15,118.18 L326.37,118.17 L326.6,118.15 L326.82,118.14 L327.05,118.13 L327.27,118.11 L327.5,118.1 L327.72,118.08 L327.95,118.07 L328.17,118.05 L328.4,118.04 L328.62,118.02 L328.85,118.01 L329.07,117.99 L329.3,117.97 L329.52,117.96 L329.75,117.94 L329.97,117.92 L330.2,117.9 L330.42,117.89 L330.65,117.87 L330.87,117.85 L331.1,117.83 L331.32,117.81 L331.55,117.79 L331.77,117.77 L332,117.75 L332.22,117.73 L332.45,117.71 L332.67,117.69 L332.9,117.67 L333.12,117.64 L333.35,117.62 L333.57,117.6 L333.8,117.57 L334.02,117.55 L334.25,117.53 L334.47,117.5 L334.7,117.48 L334.92,117.45 L335.15,117.42 L335.37,117.4 L335.6,117.37 L335.82,117.34 L336.05,117.31 L336.27,117.28 L336.5,117.25 L336.72,117.22 L336.95,117.19 L337.17,117.16 L337.4,117.12 L337.62,117.09 L337.85,117.05 L338.07,117.02 L338.3,116.98 L338.52,116.95 L338.75,116.91 L338.97,116.87 L339.2,116.83 L339.42,116.79 L339.65,116.74 L339.87,116.7 L340.1,116.66 L340.32,116.61 L340.55,116.56 L340.77,116.51 L341,116.46 L341.22,116.41 L341.45,116.36 L341.67,116.3 L341.9,116.25 L342.12,116.19 L342.35,116.13 L342.57,116.06 L342.8,116 L343.02,115.93 L343.25,115.86 L343.47,115.78 L343.7,115.7 L343.92,115.62 L344.15,115.54 L344.37,115.45 L344.6,115.36 L344.82,115.26 L345.05,115.16 L345.27,115.06 L345.5,114.94 L345.72,114.83 L345.95,114.7 L346.17,114.58 L346.4,114.44 L346.62,114.3 L346.85,114.14 L347.07,113.98 L347.3,113.82 L347.52,113.64 L347.75,113.45 L347.97,113.25 L348.2,113.04 L348.42,112.82 L348.65,112.59 L348.87,112.34 L349.1,112.08 L349.32,111.8 L349.55,111.51 L349.77,111.2 L350,110.88 L350.22,110.53 L350.45,110.17 L350.67,109.79 L350.9,109.38 L351.12,108.96 L351.35,108.51 L351.57,108.03 L351.8,107.54 L352.02,107.01 L352.25,106.46 L352.47,105.88 L352.7,105.28 L352.92,104.64 L353.15,103.98 L353.37,103.28 L353.6,102.55 L353.82,101.79 L354.05,100.99 L354.27,100.16 L354.5,99.3 L354.72,98.4 L354.95,97.46 L355.17,96.49 L355.4,95.48 L355.62,94.43 L355.85,93.35 L356.07,92.23 L356.3,91.07 L356.52,89.88 L356.75,88.65 L356.97,87.39 L357.2,86.09 L357.42,84.75 L357.65,83.38 L357.87,81.98 L358.1,80.55 L358.32,79.09 L358.55,77.6 L358.77,76.08 L359,74.54 L359.22,72.98 L359.45,71.39 L359.67,69.79 L359.9,68.17 L360.12,66.55 L360.35,64.91 L360.57,63.27 L360.8,61.62 L361.02,59.98 L361.25,58.34 L361.47,56.72 L361.7,55.11 L361.92,53.52 L362.15,51.95 L362.37,50.41 L362.6,48.92 L362.82,47.46 L363.05,46.05 L363.27,44.69 L363.5,43.39 L363.72,42.16 L363.95,40.99 L364.17,39.91 L364.4,38.91 L364.62,37.99 L364.85,37.17 L365.07,36.45 L365.3,35.83 L365.52,35.32 L365.75,34.92 L365.97,34.63 L366.2,34.46 L366.42,34.4 L366.65,34.46 L366.87,34.63 L367.1,34.91 L367.32,35.29 L367.55,35.79 L367.77,36.39 L368,37.09 L368.22,37.89 L368.45,38.78 L368.67,39.75 L368.9,40.81 L369.12,41.94 L369.35,43.15 L369.57,44.41 L369.8,45.74 L370.02,47.12 L370.25,48.54 L370.47,50.01 L370.7,51.51 L370.92,53.05 L371.15,54.61 L371.37,56.19 L371.6,57.78 L371.82,59.39 L372.05,61.01 L372.27,62.63 L372.5,64.25 L372.72,65.86 L372.95,67.47 L373.17,69.07 L373.4,70.65 L373.62,72.22 L373.85,73.77 L374.07,75.3 L374.3,76.81 L374.52,78.29 L374.75,79.75 L374.97,81.17 L375.2,82.57 L375.42,83.94 L375.65,85.27 L375.87,86.58 L376.1,87.84 L376.32,89.08 L376.55,90.28 L376.77,91.44 L377,92.57 L377.22,93.66 L377.45,94.72 L377.67,95.74 L377.9,96.72 L378.12,97.67 L378.35,98.59 L378.57,99.47 L378.8,100.31 L379.02,101.12 L379.25,101.9 L379.47,102.65 L379.7,103.36 L379.92,104.05 L380.15,104.7 L380.37,105.32 L380.6,105.92 L380.82,106.49 L381.05,107.03 L381.27,107.54 L381.5,108.03 L381.72,108.5 L381.95,108.94 L382.17,109.36 L382.4,109.76 L382.62,110.14 L382.85,110.5 L383.07,110.84 L383.3,111.16 L383.52,111.47 L383.75,111.76 L383.97,112.03 L384.2,112.29 L384.42,112.54 L384.65,112.77 L384.87,112.99 L385.1,113.2 L385.32,113.4 L385.55,113.59 L385.77,113.77 L386,113.94 L386.22,114.1 L386.45,114.25 L386.67,114.39 L386.9,114.53 L387.12,114.66 L387.35,114.78 L387.57,114.9 L387.8,115.01 L388.02,115.12 L388.25,115.22 L388.47,115.32 L388.7,115.41 L388.92,115.5 L389.15,115.58 L389.37,115.66 L389.6,115.74 L389.82,115.82 L390.05,115.89 L390.27,115.96 L390.5,116.02 L390.72,116.09 L390.95,116.15 L391.17,116.21 L391.4,116.27 L391.62,116.32 L391.85,116.38 L392.07,116.43 L392.3,116.48 L392.52,116.53 L392.75,116.58 L392.97,116.62 L393.2,116.67 L393.42,116.71 L393.65,116.75 L393.87,116.79 L394.1,116.84 L394.32,116.87 L394.55,116.91 L394.77,116.95 L395,116.99 L395.22,117.02 L395.45,117.06 L395.67,117.09 L395.9,117.12 L396.12,117.16 L396.35,117.19 L396.57,117.22 L396.8,117.25 L397.02,117.28 L397.25,117.31 L397.47,117.34 L397.7,117.37 L397.92,117.39 L398.15,117.42 L398.37,117.45 L398.6,117.47 L398.82,117.5 L399.05,117.52 L399.27,117.55 L399.5,117.57 L399.72,117.59 L399.95,117.62 L400.17,117.64 L400.4,117.66 L400.62,117.68 L400.85,117.7 L401.07,117.72 L401.3,117.75 L401.52,117.77 L401.75,117.78 L401.97,117.8 L402.2,117.82 L402.42,117.84 L402.65,117.86 L402.87,117.88 L403.1,117.9 L403.32,117.91 L403.55,117.93 L403.77,117.95 L404,117.96 L404.22,117.98 L404.45,118 L404.67,118.01 L404.9,118.03 L405.12,118.04 L405.35,118.06 L405.57,118.07 L405.8,118.09 L406.02,118.1 L406.25,118.12 L406.47,118.13 L406.7,118.14 L406.92,118.16 L407.15,118.17 L407.37,118.18 L407.6,118.2 L407.82,118.21 L408.05,118.22 L408.27,118.23 L408.5,118.25 L408.72,118.26 L408.95,118.27 L409.17,118.28 L409.4,118.29 L409.62,118.3 L409.85,118.31 L410.07,118.32 L410.3,118.34 L410.52,118.35 L410.75,118.36 L410.97,118.37 L411.2,118.38 L411.42,118.39 L411.65,118.4 L411.87,118.41 L412.1,118.42 L412.32,118.42 L412.55,118.43 L412.77,118.44 L413,118.45 L413.22,118.46 L413.45,118.47 L413.67,118.48 L413.9,118.49 L414.12,118.49 L414.35,118.5 L414.57,118.51 L414.8,118.52 L415.02,118.53 L415.25,118.54 L415.47,118.54 L415.7,118.55 L415.92,118.56 L416.15,118.57 L416.37,118.57 L416.6,118.58 L416.82,118.59 L417.05,118.59 L417.27,118.6 L417.5,118.61 L417.72,118.61 L417.95,118.62 L418.17,118.63 L418.4,118.63 L418.62,118.64 L418.85,118.65 L419.07,118.65 L419.3,118.66 L419.52,118.67 L419.75,118.67 L419.97,118.68 L420.2,118.68 L420.42,118.69 L420.65,118.7 L420.87,118.7 L421.1,118.71 L421.32,118.71 L421.55,118.72 L421.77,118.72 L422,118.73 L422.22,118.73 L422.45,118.74 L422.67,118.74 L422.9,118.75 L423.12,118.75 L423.35,118.76 L423.57,118.76 L423.8,118.77 L424.02,118.77 L424.25,118.78 L424.47,118.78 L424.7,118.79 L424.92,118.79 L425.15,118.8 L425.37,118.8 L425.6,118.81 L425.82,118.81 L426.05,118.82 L426.27,118.82 L426.5,118.82 L426.72,118.83 L426.95,118.83 L427.17,118.84 L427.4,118.84 L427.62,118.84 L427.85,118.85 L428.07,118.85 L428.3,118.86 L428.52,118.86 L428.75,118.86 L428.97,118.87 L429.2,118.87 L429.42,118.88 L429.65,118.88 L429.87,118.88 L430.1,118.89 L430.32,118.89 L430.55,118.89 L430.77,118.9 L431,118.9 L431.22,118.9 L431.45,118.91 L431.47,118.91 L431.47,119.4 Z" fill="#fedd92" stroke="none" stroke-width="1"/>
<line x1="297.57" y1="119.1" x2="431.47" y2="119.1" stroke="#fbd070" stroke-width="0.6"/>
<text x="367" y="116.86" font-size="7.4" text-anchor="middle" fill="#f0a030">577</text>
<path d="M279.71,130.4 L279.71,126.58 L279.93,126.58 L280.16,126.58 L280.38,126.58 L280.61,126.58 L280.83,126.58 L281.06,126.58 L281.28,126.58 L281.51,126.58 L281.73,126.58 L281.96,126.58 L282.18,126.58 L282.41,126.58 L282.63,126.58 L282.86,126.58 L283.08,126.58 L283.31,126.58 L283.53,126.58 L283.76,126.58 L283.98,126.58 L284.21,126.58 L284.43,126.58 L284.66,126.58 L284.88,126.58 L285.11,126.58 L285.33,126.58 L285.56,126.58 L285.78,126.58 L286.01,126.58 L286.23,126.58 L286.46,126.58 L286.68,126.58 L286.91,126.58 L287.13,126.58 L287.36,126.58 L287.58,126.58 L287.81,126.58 L288.03,126.58 L288.26,126.58 L288.48,126.58 L288.71,126.58 L288.93,126.58 L289.16,126.58 L289.38,126.58 L289.61,126.58 L289.83,126.58 L290.06,126.58 L290.28,126.58 L290.51,126.58 L290.73,126.58 L290.96,126.58 L291.18,126.58 L291.41,126.58 L291.63,126.58 L291.86,126.58 L292.08,126.58 L292.31,126.58 L292.53,126.58 L292.76,126.58 L292.98,126.58 L293.21,126.58 L293.43,126.58 L293.66,126.58 L293.88,126.58 L294.11,126.58 L294.33,126.58 L294.56,126.58 L294.78,126.58 L295.01,126.58 L295.23,126.58 L295.46,126.58 L295.68,126.58 L295.91,126.58 L296.13,126.58 L296.36,126.58 L296.58,126.58 L296.81,126.58 L297.03,126.58 L297.26,126.58 L297.48,126.58 L297.71,126.58 L297.93,126.58 L298.16,126.58 L298.38,126.58 L298.61,126.58 L298.83,126.58 L299.06,126.58 L299.28,126.58 L299.51,126.58 L299.73,126.58 L299.96,126.58 L300.18,126.58 L300.41,126.58 L300.63,126.58 L300.86,126.58 L301.08,126.58 L301.31,126.58 L301.53,126.58 L301.76,126.58 L301.98,126.58 L302.21,126.58 L302.43,126.58 L302.66,126.58 L302.88,126.58 L303.11,126.58 L303.33,126.58 L303.56,126.58 L303.78,126.58 L304.01,126.58 L304.23,126.58 L304.46,126.58 L304.68,126.58 L304.91,126.58 L305.13,126.58 L305.36,126.58 L305.58,126.58 L305.81,126.58 L306.03,126.58 L306.26,126.58 L306.48,126.58 L306.71,126.58 L306.93,126.58 L307.16,126.58 L307.38,126.58 L307.61,126.58 L307.83,126.58 L308.06,126.58 L308.28,126.58 L308.51,126.58 L308.73,126.58 L308.96,126.58 L309.18,126.58 L309.41,126.58 L309.63,126.58 L309.86,126.58 L310.08,126.58 L310.31,126.58 L310.53,126.58 L310.76,126.58 L310.98,126.58 L311.21,126.58 L311.43,126.58 L311.66,126.58 L311.88,126.58 L312.11,126.58 L312.33,126.58 L312.56,126.58 L312.78,126.58 L313.01,126.58 L313.23,126.58 L313.46,126.58 L313.68,126.58 L313.91,126.58 L314.13,126.58 L314.36,126.58 L314.58,126.58 L314.81,126.58 L315.03,126.58 L315.26,126.58 L315.48,126.58 L315.71,126.58 L315.93,126.58 L316.16,126.58 L316.38,126.58 L316.61,126.58 L316.83,126.58 L317.06,126.58 L317.28,126.58 L317.51,126.58 L317.73,126.58 L317.96,126.58 L318.18,126.58 L318.41,126.58 L318.63,126.58 L318.86,126.58 L319.08,126.58 L319.31,126.58 L319.53,126.58 L319.76,126.54 L319.98,126.42 L320.21,126.3 L320.43,126.16 L320.66,126.02 L320.88,125.87 L321.11,125.71 L321.33,125.53 L321.56,125.35 L321.78,125.14 L322.01,124.93 L322.23,124.7 L322.46,124.44 L322.68,124.17 L322.91,123.88 L323.13,123.56 L323.36,123.21 L323.58,122.84 L323.81,122.43 L324.03,121.99 L324.26,121.51 L324.48,121 L324.71,120.43 L324.93,119.83 L325.16,119.17 L325.38,118.46 L325.61,117.69 L325.83,116.86 L326.06,115.98 L326.28,115.02 L326.51,113.99 L326.73,112.9 L326.96,111.72 L327.18,110.47 L327.41,109.14 L327.63,107.73 L327.86,106.24 L328.08,104.66 L328.31,102.99 L328.53,101.24 L328.76,99.41 L328.98,97.49 L329.21,95.49 L329.43,93.41 L329.66,91.26 L329.88,89.03 L330.11,86.74 L330.33,84.39 L330.56,81.99 L330.78,79.55 L331.01,77.07 L331.23,74.57 L331.46,72.07 L331.68,69.56 L331.91,67.08 L332.13,64.63 L332.36,62.23 L332.58,59.91 L332.81,57.69 L333.03,55.58 L333.26,53.61 L333.48,51.81 L333.71,50.19 L333.93,48.77 L334.16,47.58 L334.38,46.64 L334.61,45.96 L334.83,45.54 L335.06,45.4 L335.28,45.49 L335.51,45.74 L335.73,46.16 L335.96,46.75 L336.18,47.49 L336.41,48.38 L336.63,49.41 L336.86,50.58 L337.08,51.87 L337.31,53.27 L337.53,54.78 L337.76,56.37 L337.98,58.05 L338.21,59.79 L338.43,61.59 L338.66,63.44 L338.88,65.34 L339.11,67.26 L339.33,69.2 L339.56,71.15 L339.78,73.12 L340.01,75.08 L340.23,77.03 L340.46,78.97 L340.68,80.89 L340.91,82.78 L341.13,84.65 L341.36,86.49 L341.58,88.29 L341.81,90.05 L342.03,91.77 L342.26,93.45 L342.48,95.08 L342.71,96.66 L342.93,98.2 L343.16,99.68 L343.38,101.11 L343.61,102.49 L343.83,103.82 L344.06,105.1 L344.28,106.32 L344.51,107.49 L344.73,108.62 L344.96,109.69 L345.18,110.71 L345.41,111.68 L345.63,112.61 L345.86,113.49 L346.08,114.32 L346.31,115.11 L346.53,115.86 L346.76,116.56 L346.98,117.23 L347.21,117.86 L347.43,118.46 L347.66,119.02 L347.88,119.55 L348.11,120.04 L348.33,120.51 L348.56,120.95 L348.78,121.36 L349.01,121.74 L349.23,122.11 L349.46,122.45 L349.68,122.77 L349.91,123.07 L350.13,123.35 L350.36,123.61 L350.58,123.86 L350.81,124.09 L351.03,124.31 L351.26,124.52 L351.48,124.71 L351.71,124.9 L351.93,125.07 L352.16,125.23 L352.38,125.38 L352.61,125.53 L352.83,125.67 L353.06,125.8 L353.28,125.92 L353.51,126.04 L353.73,126.15 L353.96,126.25 L354.18,126.36 L354.41,126.45 L354.63,126.54 L354.86,126.63 L355.08,126.72 L355.31,126.8 L355.53,126.88 L355.76,126.95 L355.98,127.02 L356.21,127.09 L356.43,127.16 L356.66,127.22 L356.88,127.29 L357.11,127.35 L357.33,127.41 L357.56,127.46 L357.78,127.52 L358.01,127.57 L358.23,127.62 L358.46,127.67 L358.68,127.72 L358.91,127.77 L359.13,127.82 L359.36,127.86 L359.58,127.9 L359.81,127.95 L360.03,127.99 L360.26,128.03 L360.48,128.07 L360.71,128.11 L360.93,128.14 L361.16,128.18 L361.38,128.22 L361.61,128.25 L361.83,128.29 L362.06,128.32 L362.28,128.35 L362.51,128.38 L362.73,128.41 L362.96,128.44 L363.18,128.47 L363.41,128.5 L363.63,128.53 L363.86,128.56 L364.08,128.59 L364.31,128.61 L364.53,128.64 L364.76,128.66 L364.98,128.69 L365.21,128.71 L365.43,128.74 L365.66,128.76 L365.88,128.78 L366.11,128.81 L366.33,128.83 L366.56,128.85 L366.78,128.87 L367.01,128.89 L367.23,128.91 L367.46,128.93 L367.68,128.95 L367.91,128.97 L368.13,128.99 L368.36,129.01 L368.58,129.02 L368.81,129.04 L369.03,129.06 L369.26,129.08 L369.48,129.09 L369.71,129.11 L369.93,129.13 L370.16,129.14 L370.38,129.16 L370.61,129.17 L370.83,129.19 L371.06,129.2 L371.28,129.22 L371.51,129.23 L371.73,129.24 L371.96,129.26 L372.18,129.27 L372.41,129.28 L372.63,129.3 L372.86,129.31 L373.08,129.32 L373.31,129.33 L373.53,129.35 L373.76,129.36 L373.98,129.37 L374.21,129.38 L374.43,129.39 L374.66,129.4 L374.88,129.41 L375.11,129.43 L375.33,129.44 L375.56,129.45 L375.78,129.46 L376.01,129.47 L376.23,129.48 L376.46,129.49 L376.68,129.5 L376.91,129.51 L377.13,129.51 L377.36,129.52 L377.58,129.53 L377.81,129.54 L378.03,129.55 L378.26,129.56 L378.48,129.57 L378.71,129.58 L378.93,129.58 L379.16,129.59 L379.38,129.6 L379.61,129.61 L379.83,129.62 L380.06,129.62 L380.28,129.63 L380.51,129.64 L380.73,129.65 L380.96,129.65 L381.18,129.66 L381.41,129.67 L381.63,129.67 L381.86,129.68 L382.08,129.69 L382.31,129.69 L382.53,129.7 L382.76,129.71 L382.98,129.71 L383.21,129.72 L383.43,129.73 L383.66,129.73 L383.88,129.74 L384.11,129.74 L384.33,129.75 L384.56,129.76 L384.78,129.76 L385.01,129.77 L385.23,129.77 L385.46,129.78 L385.68,129.78 L385.91,129.79 L386.13,129.79 L386.36,129.8 L386.58,129.81 L386.81,129.81 L387.03,129.82 L387.26,129.82 L387.48,129.83 L387.71,129.83 L387.93,129.83 L388.16,129.84 L388.38,129.84 L388.61,129.85 L388.83,129.85 L389.06,129.86 L389.28,129.86 L389.51,129.87 L389.73,129.87 L389.96,129.88 L390.18,129.88 L390.41,129.88 L390.63,129.89 L390.86,129.89 L391.08,129.9 L391.31,129.9 L391.53,129.9 L391.76,129.91 L391.98,129.91 L392.21,129.92 L392.43,129.92 L392.66,129.92 L392.88,129.93 L393.11,129.93 L393.33,129.93 L393.56,129.94 L393.78,129.94 L394.01,129.94 L394.23,129.95 L394.46,129.95 L394.68,129.95 L394.91,129.96 L395.13,129.96 L395.36,129.96 L395.58,129.97 L395.81,129.97 L396.03,129.97 L396.26,129.98 L396.48,129.98 L396.71,129.98 L396.93,129.99 L397.16,129.99 L397.38,129.99 L397.61,129.99 L397.83,130 L398.06,130 L398.28,130 L398.51,130.01 L398.73,130.01 L398.96,130.01 L399.18,130.01 L399.41,130.02 L399.63,130.02 L399.86,130.02 L400.08,130.02 L400.31,130.03 L400.53,130.03 L400.76,130.03 L400.98,130.03 L401.21,130.04 L401.43,130.04 L401.66,130.04 L401.88,130.04 L402.11,130.05 L402.33,130.05 L402.56,130.05 L402.78,130.05 L403.01,130.06 L403.23,130.06 L403.46,130.06 L403.68,130.06 L403.91,130.06 L404.13,130.07 L404.36,130.07 L404.58,130.07 L404.81,130.07 L405.03,130.08 L405.26,130.08 L405.48,130.08 L405.71,130.08 L405.93,130.08 L406.16,130.09 L406.38,130.09 L406.61,130.09 L406.83,130.09 L407.06,130.09 L407.28,130.09 L407.51,130.1 L407.73,130.1 L407.96,130.1 L408.18,130.1 L408.41,130.1 L408.63,130.11 L408.86,130.11 L409.08,130.11 L409.31,130.11 L409.53,130.11 L409.76,130.11 L409.98,130.12 L410.21,130.12 L410.43,130.12 L410.66,130.12 L410.88,130.12 L411.11,130.12 L411.33,130.13 L411.56,130.13 L411.78,130.13 L412.01,130.13 L412.23,130.13 L412.46,130.13 L412.68,130.14 L412.91,130.14 L413.13,130.14 L413.36,130.14 L413.58,130.14 L413.81,130.14 L414.03,130.14 L414.26,130.15 L414.48,130.15 L414.71,130.15 L414.93,130.15 L415.16,130.15 L415.38,130.15 L415.61,130.15 L415.83,130.16 L416.06,130.16 L416.28,130.16 L416.51,130.16 L416.73,130.16 L416.96,130.16 L417.18,130.16 L417.41,130.16 L417.63,130.17 L417.86,130.17 L418.08,130.17 L418.31,130.17 L418.53,130.17 L418.76,130.17 L418.98,130.17 L419.21,130.17 L419.43,130.18 L419.66,130.18 L419.88,130.18 L420.11,130.18 L420.33,130.18 L420.56,130.18 L420.78,130.18 L421.01,130.18 L421.23,130.19 L421.46,130.19 L421.68,130.19 L421.91,130.19 L422.13,130.19 L422.36,130.19 L422.58,130.19 L422.81,130.19 L423.03,130.19 L423.26,130.19 L423.48,130.2 L423.71,130.2 L423.93,130.2 L424.16,130.2 L424.38,130.2 L424.41,130.2 L424.41,130.4 Z" fill="#b2e3c3" stroke="none" stroke-width="1"/>
<line x1="279.71" y1="130.1" x2="424.41" y2="130.1" stroke="#80cc9a" stroke-width="0.6"/>
<text x="334.2" y="128.96" font-size="7.4" text-anchor="middle" fill="#1ea048">523</text>
<path d="M274.06,141.3 L274.06,140.82 L274.29,140.81 L274.51,140.81 L274.74,140.8 L274.96,140.79 L275.19,140.79 L275.41,140.78 L275.64,140.78 L275.86,140.77 L276.09,140.77 L276.31,140.76 L276.54,140.76 L276.76,140.75 L276.99,140.74 L277.21,140.74 L277.44,140.73 L277.66,140.73 L277.89,140.72 L278.11,140.71 L278.34,140.71 L278.56,140.7 L278.79,140.69 L279.01,140.69 L279.24,140.68 L279.46,140.67 L279.69,140.66 L279.91,140.66 L280.14,140.65 L280.36,140.64 L280.59,140.63 L280.81,140.63 L281.04,140.62 L281.26,140.61 L281.49,140.6 L281.71,140.59 L281.94,140.58 L282.16,140.57 L282.39,140.56 L282.61,140.56 L282.84,140.55 L283.06,140.54 L283.29,140.53 L283.51,140.52 L283.74,140.51 L283.96,140.5 L284.19,140.49 L284.41,140.47 L284.64,140.46 L284.86,140.45 L285.09,140.44 L285.31,140.43 L285.54,140.42 L285.76,140.41 L285.99,140.39 L286.21,140.38 L286.44,140.37 L286.66,140.35 L286.89,140.34 L287.11,140.33 L287.34,140.31 L287.56,140.3 L287.79,140.28 L288.01,140.27 L288.24,140.25 L288.46,140.24 L288.69,140.22 L288.91,140.2 L289.14,140.19 L289.36,140.17 L289.59,140.15 L289.81,140.13 L290.04,140.12 L290.26,140.1 L290.49,140.08 L290.71,140.06 L290.94,140.04 L291.16,140.02 L291.39,140 L291.61,139.97 L291.84,139.95 L292.06,139.93 L292.29,139.91 L292.51,139.88 L292.74,139.86 L292.96,139.83 L293.19,139.81 L293.41,139.78 L293.64,139.75 L293.86,139.72 L294.09,139.69 L294.31,139.66 L294.54,139.63 L294.76,139.6 L294.99,139.57 L295.21,139.54 L295.44,139.5 L295.66,139.47 L295.89,139.43 L296.11,139.39 L296.34,139.36 L296.56,139.32 L296.79,139.28 L297.01,139.23 L297.24,139.19 L297.46,139.15 L297.69,139.1 L297.91,139.05 L298.14,139 L298.36,138.95 L298.59,138.9 L298.81,138.85 L299.04,138.79 L299.26,138.73 L299.49,138.67 L299.71,138.61 L299.94,138.55 L300.16,138.48 L300.39,138.41 L300.61,138.34 L300.84,138.26 L301.06,138.18 L301.29,138.1 L301.51,138.01 L301.74,137.92 L301.96,137.83 L302.19,137.73 L302.41,137.62 L302.64,137.51 L302.86,137.39 L303.09,137.27 L303.31,137.13 L303.54,136.99 L303.76,136.84 L303.99,136.68 L304.21,136.51 L304.44,136.32 L304.66,136.12 L304.89,135.91 L305.11,135.68 L305.34,135.42 L305.56,135.15 L305.79,134.86 L306.01,134.54 L306.24,134.19 L306.46,133.81 L306.69,133.4 L306.91,132.96 L307.14,132.47 L307.36,131.95 L307.59,131.38 L307.81,130.76 L308.04,130.08 L308.26,129.36 L308.49,128.57 L308.71,127.72 L308.94,126.81 L309.16,125.83 L309.39,124.77 L309.61,123.63 L309.84,122.42 L310.06,121.13 L310.29,119.75 L310.51,118.28 L310.74,116.73 L310.96,115.09 L311.19,113.36 L311.41,111.54 L311.64,109.63 L311.86,107.64 L312.09,105.56 L312.31,103.4 L312.54,101.16 L312.76,98.85 L312.99,96.48 L313.21,94.04 L313.44,91.56 L313.66,89.04 L313.89,86.49 L314.11,83.92 L314.34,81.35 L314.56,78.8 L314.79,76.28 L315.01,73.81 L315.24,71.41 L315.46,69.11 L315.69,66.92 L315.91,64.88 L316.14,63 L316.36,61.31 L316.59,59.83 L316.81,58.59 L317.04,57.6 L317.26,56.88 L317.49,56.45 L317.71,56.3 L317.94,56.42 L318.16,56.79 L318.39,57.39 L318.61,58.21 L318.84,59.26 L319.06,60.51 L319.29,61.94 L319.51,63.55 L319.74,65.31 L319.96,67.2 L320.19,69.21 L320.41,71.31 L320.64,73.49 L320.86,75.74 L321.09,78.03 L321.31,80.35 L321.54,82.69 L321.76,85.04 L321.99,87.38 L322.21,89.7 L322.44,92 L322.66,94.26 L322.89,96.48 L323.11,98.65 L323.34,100.76 L323.56,102.82 L323.79,104.82 L324.01,106.74 L324.24,108.6 L324.46,110.39 L324.69,112.1 L324.91,113.74 L325.14,115.31 L325.36,116.8 L325.59,118.22 L325.81,119.56 L326.04,120.84 L326.26,122.04 L326.49,123.17 L326.71,124.24 L326.94,125.24 L327.16,126.18 L327.39,127.05 L327.61,127.88 L327.84,128.64 L328.06,129.36 L328.29,130.02 L328.51,130.64 L328.74,131.22 L328.96,131.75 L329.19,132.25 L329.41,132.71 L329.64,133.14 L329.86,133.53 L330.09,133.9 L330.31,134.24 L330.54,134.55 L330.76,134.84 L330.99,135.12 L331.21,135.37 L331.44,135.6 L331.66,135.82 L331.89,136.02 L332.11,136.21 L332.34,136.39 L332.56,136.55 L332.79,136.71 L333.01,136.86 L333.24,136.99 L333.46,137.12 L333.69,137.24 L333.91,137.36 L334.14,137.47 L334.36,137.57 L334.59,137.67 L334.81,137.77 L335.04,137.86 L335.26,137.94 L335.49,138.02 L335.71,138.1 L335.94,138.18 L336.16,138.25 L336.39,138.32 L336.61,138.39 L336.84,138.45 L337.06,138.51 L337.29,138.57 L337.51,138.63 L337.74,138.69 L337.96,138.74 L338.19,138.8 L338.41,138.85 L338.64,138.9 L338.86,138.94 L339.09,138.99 L339.31,139.04 L339.54,139.08 L339.76,139.12 L339.99,139.16 L340.21,139.2 L340.44,139.24 L340.66,139.28 L340.89,139.32 L341.11,139.35 L341.34,139.39 L341.56,139.42 L341.79,139.46 L342.01,139.49 L342.24,139.52 L342.46,139.55 L342.69,139.58 L342.91,139.61 L343.14,139.64 L343.36,139.67 L343.59,139.69 L343.81,139.72 L344.04,139.75 L344.26,139.77 L344.49,139.8 L344.71,139.82 L344.94,139.84 L345.16,139.87 L345.39,139.89 L345.61,139.91 L345.84,139.93 L346.06,139.95 L346.29,139.97 L346.51,139.99 L346.74,140.01 L346.96,140.03 L347.19,140.05 L347.41,140.07 L347.64,140.09 L347.86,140.1 L348.09,140.12 L348.31,140.14 L348.54,140.15 L348.76,140.17 L348.99,140.19 L349.21,140.2 L349.44,140.22 L349.66,140.23 L349.89,140.25 L350.11,140.26 L350.34,140.27 L350.56,140.29 L350.79,140.3 L351.01,140.31 L351.24,140.33 L351.46,140.34 L351.69,140.35 L351.91,140.36 L352.14,140.38 L352.36,140.39 L352.59,140.4 L352.81,140.41 L353.04,140.42 L353.26,140.43 L353.49,140.44 L353.71,140.45 L353.94,140.46 L354.16,140.47 L354.39,140.48 L354.61,140.49 L354.84,140.5 L355.06,140.51 L355.29,140.52 L355.51,140.53 L355.74,140.54 L355.96,140.55 L356.19,140.56 L356.41,140.57 L356.64,140.57 L356.86,140.58 L357.09,140.59 L357.31,140.6 L357.54,140.61 L357.76,140.61 L357.99,140.62 L358.21,140.63 L358.44,140.64 L358.66,140.64 L358.89,140.65 L359.11,140.66 L359.34,140.66 L359.56,140.67 L359.79,140.68 L360.01,140.68 L360.24,140.69 L360.46,140.7 L360.69,140.7 L360.91,140.71 L361.14,140.71 L361.36,140.72 L361.59,140.73 L361.81,140.73 L362.04,140.74 L362.26,140.74 L362.49,140.75 L362.71,140.75 L362.94,140.76 L363.16,140.76 L363.39,140.77 L363.61,140.77 L363.84,140.78 L364.06,140.78 L364.29,140.79 L364.51,140.79 L364.74,140.8 L364.96,140.8 L365.19,140.81 L365.41,140.81 L365.64,140.82 L365.86,140.82 L366.09,140.83 L366.31,140.83 L366.54,140.84 L366.76,140.84 L366.99,140.84 L367.21,140.85 L367.44,140.85 L367.66,140.86 L367.89,140.86 L368.11,140.86 L368.34,140.87 L368.56,140.87 L368.79,140.87 L369.01,140.88 L369.24,140.88 L369.46,140.89 L369.69,140.89 L369.91,140.89 L370.14,140.9 L370.36,140.9 L370.59,140.9 L370.81,140.91 L371.04,140.91 L371.26,140.91 L371.49,140.92 L371.71,140.92 L371.94,140.92 L372.16,140.93 L372.39,140.93 L372.61,140.93 L372.84,140.93 L373.06,140.94 L373.29,140.94 L373.51,140.94 L373.74,140.95 L373.96,140.95 L374.19,140.95 L374.41,140.95 L374.64,140.96 L374.86,140.96 L375.09,140.96 L375.31,140.96 L375.54,140.97 L375.76,140.97 L375.99,140.97 L376.21,140.97 L376.44,140.98 L376.66,140.98 L376.89,140.98 L377.11,140.98 L377.34,140.99 L377.56,140.99 L377.79,140.99 L378.01,140.99 L378.24,141 L378.46,141 L378.69,141 L378.91,141 L379.14,141 L379.36,141.01 L379.59,141.01 L379.81,141.01 L380.04,141.01 L380.26,141.02 L380.49,141.02 L380.71,141.02 L380.94,141.02 L381.16,141.02 L381.39,141.03 L381.61,141.03 L381.84,141.03 L382.06,141.03 L382.29,141.03 L382.51,141.03 L382.74,141.04 L382.96,141.04 L383.19,141.04 L383.41,141.04 L383.41,141.3 Z" fill="#94fafa" stroke="none" stroke-width="1"/>
<line x1="274.06" y1="141" x2="383.41" y2="141" stroke="#50d8d8" stroke-width="0.6"/>
<text x="316.5" y="139.06" font-size="7.4" text-anchor="middle" fill="#2a7a9a">500</text>
<path d="M262.56,152.2 L262.56,151.1 L262.79,151.09 L263.01,151.07 L263.24,151.05 L263.46,151.03 L263.69,151.02 L263.91,151 L264.14,150.98 L264.36,150.96 L264.59,150.94 L264.81,150.92 L265.04,150.9 L265.26,150.87 L265.49,150.85 L265.71,150.83 L265.94,150.81 L266.16,150.78 L266.39,150.76 L266.61,150.73 L266.84,150.71 L267.06,150.68 L267.29,150.65 L267.51,150.62 L267.74,150.59 L267.96,150.56 L268.19,150.53 L268.41,150.5 L268.64,150.47 L268.86,150.44 L269.09,150.4 L269.31,150.37 L269.54,150.33 L269.76,150.29 L269.99,150.26 L270.21,150.22 L270.44,150.18 L270.66,150.13 L270.89,150.09 L271.11,150.05 L271.34,150 L271.56,149.95 L271.79,149.9 L272.01,149.85 L272.24,149.8 L272.46,149.75 L272.69,149.69 L272.91,149.63 L273.14,149.57 L273.36,149.51 L273.59,149.45 L273.81,149.38 L274.04,149.31 L274.26,149.24 L274.49,149.16 L274.71,149.08 L274.94,149 L275.16,148.91 L275.39,148.82 L275.61,148.73 L275.84,148.63 L276.06,148.52 L276.29,148.41 L276.51,148.29 L276.74,148.17 L276.96,148.03 L277.19,147.89 L277.41,147.74 L277.64,147.58 L277.86,147.41 L278.09,147.22 L278.31,147.02 L278.54,146.81 L278.76,146.58 L278.99,146.32 L279.21,146.05 L279.44,145.76 L279.66,145.44 L279.89,145.09 L280.11,144.71 L280.34,144.3 L280.56,143.86 L280.79,143.37 L281.01,142.85 L281.24,142.28 L281.46,141.66 L281.69,140.98 L281.91,140.26 L282.14,139.47 L282.36,138.62 L282.59,137.71 L282.81,136.73 L283.04,135.67 L283.26,134.53 L283.49,133.32 L283.71,132.03 L283.94,130.65 L284.16,129.18 L284.39,127.63 L284.61,125.99 L284.84,124.26 L285.06,122.44 L285.29,120.53 L285.51,118.54 L285.74,116.46 L285.96,114.3 L286.19,112.06 L286.41,109.75 L286.64,107.38 L286.86,104.94 L287.09,102.46 L287.31,99.94 L287.54,97.39 L287.76,94.82 L287.99,92.25 L288.21,89.7 L288.44,87.18 L288.66,84.71 L288.89,82.31 L289.11,80.01 L289.34,77.82 L289.56,75.78 L289.79,73.9 L290.01,72.21 L290.24,70.73 L290.46,69.49 L290.69,68.5 L290.91,67.78 L291.14,67.35 L291.36,67.2 L291.59,67.3 L291.81,67.58 L292.04,68.05 L292.26,68.7 L292.49,69.53 L292.71,70.52 L292.94,71.67 L293.16,72.96 L293.39,74.39 L293.61,75.93 L293.84,77.58 L294.06,79.32 L294.29,81.15 L294.51,83.04 L294.74,84.99 L294.96,86.99 L295.19,89.02 L295.41,91.07 L295.64,93.14 L295.86,95.22 L296.09,97.29 L296.31,99.35 L296.54,101.4 L296.76,103.42 L296.99,105.42 L297.21,107.38 L297.44,109.3 L297.66,111.18 L297.89,113.02 L298.11,114.8 L298.34,116.54 L298.56,118.22 L298.79,119.85 L299.01,121.42 L299.24,122.94 L299.46,124.4 L299.69,125.8 L299.91,127.14 L300.14,128.42 L300.36,129.64 L300.59,130.81 L300.81,131.92 L301.04,132.98 L301.26,133.98 L301.49,134.94 L301.71,135.84 L301.94,136.69 L302.16,137.49 L302.39,138.25 L302.61,138.96 L302.84,139.63 L303.06,140.26 L303.29,140.85 L303.51,141.4 L303.74,141.92 L303.96,142.41 L304.19,142.87 L304.41,143.29 L304.64,143.69 L304.86,144.07 L305.09,144.42 L305.31,144.74 L305.54,145.05 L305.76,145.33 L305.99,145.6 L306.21,145.85 L306.44,146.08 L306.66,146.3 L306.89,146.51 L307.11,146.7 L307.34,146.88 L307.56,147.05 L307.79,147.22 L308.01,147.37 L308.24,147.51 L308.46,147.64 L308.69,147.77 L308.91,147.89 L309.14,148.01 L309.36,148.12 L309.59,148.22 L309.81,148.32 L310.04,148.41 L310.26,148.5 L310.49,148.59 L310.71,148.67 L310.94,148.75 L311.16,148.83 L311.39,148.9 L311.61,148.97 L311.84,149.04 L312.06,149.11 L312.29,149.17 L312.51,149.23 L312.74,149.29 L312.96,149.35 L313.19,149.4 L313.41,149.46 L313.64,149.51 L313.86,149.56 L314.09,149.61 L314.31,149.66 L314.54,149.7 L314.76,149.75 L314.99,149.79 L315.21,149.83 L315.44,149.88 L315.66,149.92 L315.89,149.96 L316.11,149.99 L316.34,150.03 L316.56,150.07 L316.79,150.1 L317.01,150.14 L317.24,150.17 L317.46,150.2 L317.69,150.24 L317.91,150.27 L318.14,150.3 L318.36,150.33 L318.59,150.36 L318.81,150.39 L319.04,150.42 L319.26,150.44 L319.49,150.47 L319.71,150.5 L319.94,150.52 L320.16,150.55 L320.39,150.57 L320.61,150.59 L320.84,150.62 L321.06,150.64 L321.29,150.66 L321.51,150.69 L321.74,150.71 L321.96,150.73 L322.19,150.75 L322.41,150.77 L322.64,150.79 L322.86,150.81 L323.09,150.83 L323.31,150.85 L323.54,150.86 L323.76,150.88 L323.99,150.9 L324.21,150.92 L324.44,150.93 L324.66,150.95 L324.89,150.97 L325.11,150.98 L325.34,151 L325.56,151.01 L325.79,151.03 L326.01,151.04 L326.24,151.06 L326.46,151.07 L326.69,151.08 L326.91,151.1 L327.14,151.11 L327.36,151.12 L327.59,151.14 L327.81,151.15 L328.04,151.16 L328.26,151.18 L328.49,151.19 L328.71,151.2 L328.94,151.21 L329.16,151.22 L329.39,151.23 L329.61,151.24 L329.84,151.26 L330.06,151.27 L330.29,151.28 L330.51,151.29 L330.74,151.3 L330.96,151.31 L331.19,151.32 L331.41,151.33 L331.64,151.34 L331.86,151.35 L332.09,151.35 L332.31,151.36 L332.54,151.37 L332.76,151.38 L332.99,151.39 L333.21,151.4 L333.44,151.41 L333.66,151.42 L333.89,151.42 L334.11,151.43 L334.34,151.44 L334.56,151.45 L334.79,151.45 L335.01,151.46 L335.24,151.47 L335.46,151.48 L335.69,151.48 L335.91,151.49 L336.14,151.5 L336.36,151.5 L336.59,151.51 L336.81,151.52 L337.04,151.52 L337.26,151.53 L337.49,151.54 L337.71,151.54 L337.94,151.55 L338.16,151.56 L338.39,151.56 L338.61,151.57 L338.84,151.57 L339.06,151.58 L339.29,151.59 L339.51,151.59 L339.74,151.6 L339.96,151.6 L340.19,151.61 L340.41,151.61 L340.64,151.62 L340.86,151.62 L341.09,151.63 L341.31,151.63 L341.54,151.64 L341.76,151.64 L341.99,151.65 L342.21,151.65 L342.44,151.66 L342.66,151.66 L342.89,151.67 L343.11,151.67 L343.34,151.68 L343.56,151.68 L343.79,151.69 L344.01,151.69 L344.24,151.69 L344.46,151.7 L344.69,151.7 L344.91,151.71 L345.14,151.71 L345.36,151.71 L345.59,151.72 L345.81,151.72 L346.04,151.73 L346.26,151.73 L346.49,151.73 L346.71,151.74 L346.94,151.74 L347.16,151.74 L347.39,151.75 L347.61,151.75 L347.84,151.76 L348.06,151.76 L348.29,151.76 L348.51,151.77 L348.74,151.77 L348.96,151.77 L349.19,151.78 L349.41,151.78 L349.64,151.78 L349.86,151.79 L350.09,151.79 L350.31,151.79 L350.54,151.79 L350.76,151.8 L350.99,151.8 L351.21,151.8 L351.44,151.81 L351.66,151.81 L351.89,151.81 L352.11,151.82 L352.34,151.82 L352.56,151.82 L352.79,151.82 L353.01,151.83 L353.24,151.83 L353.46,151.83 L353.69,151.83 L353.91,151.84 L354.14,151.84 L354.36,151.84 L354.59,151.84 L354.81,151.85 L355.04,151.85 L355.26,151.85 L355.49,151.85 L355.71,151.86 L355.94,151.86 L356.16,151.86 L356.39,151.86 L356.61,151.87 L356.84,151.87 L357.06,151.87 L357.29,151.87 L357.51,151.88 L357.74,151.88 L357.96,151.88 L358.19,151.88 L358.41,151.88 L358.64,151.89 L358.86,151.89 L359.09,151.89 L359.31,151.89 L359.54,151.89 L359.76,151.9 L359.99,151.9 L360.21,151.9 L360.44,151.9 L360.66,151.9 L360.89,151.91 L361.11,151.91 L361.34,151.91 L361.56,151.91 L361.79,151.91 L362.01,151.91 L362.24,151.92 L362.46,151.92 L362.69,151.92 L362.91,151.92 L363.14,151.92 L363.36,151.93 L363.59,151.93 L363.81,151.93 L364.04,151.93 L364.26,151.93 L364.49,151.93 L364.71,151.94 L364.94,151.94 L365.16,151.94 L365.39,151.94 L365.61,151.94 L365.84,151.94 L366.06,151.94 L366.29,151.95 L366.51,151.95 L366.74,151.95 L366.96,151.95 L367.19,151.95 L367.41,151.95 L367.64,151.96 L367.86,151.96 L368.09,151.96 L368.31,151.96 L368.54,151.96 L368.76,151.96 L368.99,151.96 L369.21,151.96 L369.44,151.97 L369.66,151.97 L369.89,151.97 L370.11,151.97 L370.34,151.97 L370.56,151.97 L370.79,151.97 L371.01,151.98 L371.24,151.98 L371.46,151.98 L371.69,151.98 L371.91,151.98 L372.14,151.98 L372.36,151.98 L372.59,151.98 L372.81,151.99 L373.04,151.99 L373.26,151.99 L373.49,151.99 L373.71,151.99 L373.94,151.99 L374.16,151.99 L374.39,151.99 L374.61,151.99 L374.84,152 L375.06,152 L375.29,152 L375.51,152 L375.74,152 L375.96,152 L376.19,152 L376.41,152 L376.64,152 L376.86,152 L377.09,152.01 L377.31,152.01 L377.54,152.01 L377.76,152.01 L377.99,152.01 L378.21,152.01 L378.44,152.01 L378.66,152.01 L378.89,152.01 L379.11,152.01 L379.34,152.02 L379.56,152.02 L379.79,152.02 L380.01,152.02 L380.24,152.02 L380.46,152.02 L380.69,152.02 L380.91,152.02 L381.14,152.02 L381.36,152.02 L381.59,152.02 L381.81,152.03 L382.04,152.03 L382.26,152.03 L382.49,152.03 L382.71,152.03 L382.94,152.03 L383.16,152.03 L383.39,152.03 L383.61,152.03 L383.84,152.03 L384.06,152.03 L384.29,152.03 L384.51,152.04 L384.74,152.04 L384.96,152.04 L385.19,152.04 L385.41,152.04 L385.64,152.04 L385.86,152.04 L386.09,152.04 L386.31,152.04 L386.54,152.04 L386.76,152.04 L386.99,152.04 L387.21,152.04 L387.44,152.05 L387.66,152.05 L387.89,152.05 L388.11,152.05 L388.34,152.05 L388.56,152.05 L388.79,152.05 L389.01,152.05 L389.24,152.05 L389.46,152.05 L389.69,152.05 L389.91,152.05 L390.14,152.05 L390.36,152.05 L390.59,152.05 L390.81,152.06 L391.04,152.06 L391.26,152.06 L391.49,152.06 L391.71,152.06 L391.94,152.06 L392.16,152.06 L392.39,152.06 L392.61,152.06 L392.84,152.06 L393.06,152.06 L393.29,152.06 L393.51,152.06 L393.74,152.06 L393.96,152.06 L394.19,152.06 L394.41,152.07 L394.64,152.07 L394.86,152.07 L395.09,152.07 L395.31,152.07 L395.54,152.07 L395.76,152.07 L395.99,152.07 L396.21,152.07 L396.44,152.07 L396.66,152.07 L396.89,152.07 L397.11,152.07 L397.34,152.07 L397.56,152.07 L397.79,152.07 L398.01,152.07 L398.24,152.07 L398.46,152.08 L398.69,152.08 L398.91,152.08 L399.14,152.08 L399.36,152.08 L399.59,152.08 L399.81,152.08 L400.04,152.08 L400.26,152.08 L400.49,152.08 L400.71,152.08 L400.94,152.08 L401.16,152.08 L401.39,152.08 L401.61,152.08 L401.84,152.08 L402.06,152.08 L402.29,152.08 L402.51,152.08 L402.74,152.08 L402.96,152.09 L403.19,152.09 L403.41,152.09 L403.64,152.09 L403.86,152.09 L404.09,152.09 L404.31,152.09 L404.54,152.09 L404.76,152.09 L404.99,152.09 L405.21,152.09 L405.44,152.09 L405.66,152.09 L405.89,152.09 L406.11,152.09 L406.34,152.09 L406.56,152.09 L406.79,152.09 L407.01,152.09 L407.24,152.09 L407.46,152.09 L407.69,152.09 L407.91,152.09 L408.14,152.1 L408.36,152.1 L408.59,152.1 L408.81,152.1 L409.04,152.1 L409.26,152.1 L409.49,152.1 L409.71,152.1 L409.71,152.2 Z" fill="#aec5e0" stroke="none" stroke-width="1"/>
<line x1="262.56" y1="151.9" x2="409.71" y2="151.9" stroke="#7fa4d4" stroke-width="0.6"/>
<text x="291.3" y="152.06" font-size="7.4" text-anchor="middle" fill="#3d7fd0">459</text>
<path d="M248.15,163.2 L248.15,161.06 L248.38,161.01 L248.6,160.96 L248.83,160.91 L249.05,160.86 L249.28,160.8 L249.5,160.75 L249.73,160.69 L249.95,160.63 L250.18,160.56 L250.4,160.5 L250.63,160.43 L250.85,160.36 L251.08,160.28 L251.3,160.21 L251.53,160.13 L251.75,160.04 L251.98,159.95 L252.2,159.86 L252.43,159.76 L252.65,159.66 L252.88,159.55 L253.1,159.43 L253.33,159.31 L253.55,159.18 L253.78,159.04 L254,158.89 L254.23,158.73 L254.45,158.56 L254.68,158.38 L254.9,158.18 L255.13,157.97 L255.35,157.74 L255.58,157.49 L255.8,157.22 L256.03,156.92 L256.25,156.6 L256.48,156.25 L256.7,155.87 L256.93,155.45 L257.15,154.99 L257.38,154.5 L257.6,153.96 L257.83,153.36 L258.05,152.72 L258.28,152.02 L258.5,151.26 L258.73,150.43 L258.95,149.54 L259.18,148.57 L259.4,147.52 L259.63,146.39 L259.85,145.18 L260.08,143.88 L260.3,142.49 L260.53,141 L260.75,139.42 L260.98,137.74 L261.2,135.96 L261.43,134.09 L261.65,132.11 L261.88,130.04 L262.1,127.88 L262.33,125.63 L262.55,123.29 L262.78,120.87 L263,118.38 L263.23,115.82 L263.45,113.21 L263.68,110.56 L263.9,107.88 L264.13,105.18 L264.35,102.49 L264.58,99.82 L264.8,97.19 L265.03,94.62 L265.25,92.15 L265.48,89.79 L265.7,87.58 L265.93,85.53 L266.15,83.69 L266.38,82.08 L266.6,80.72 L266.83,79.63 L267.05,78.84 L267.28,78.36 L267.5,78.2 L267.73,78.3 L267.95,78.61 L268.18,79.12 L268.4,79.82 L268.63,80.72 L268.85,81.78 L269.08,83.02 L269.3,84.4 L269.53,85.93 L269.75,87.58 L269.98,89.34 L270.2,91.19 L270.43,93.13 L270.65,95.13 L270.88,97.19 L271.1,99.29 L271.33,101.41 L271.55,103.56 L271.78,105.72 L272,107.88 L272.23,110.02 L272.45,112.15 L272.68,114.26 L272.9,116.34 L273.13,118.38 L273.35,120.38 L273.58,122.33 L273.8,124.23 L274.03,126.08 L274.25,127.88 L274.48,129.62 L274.7,131.3 L274.93,132.91 L275.15,134.47 L275.38,135.96 L275.6,137.39 L275.83,138.76 L276.05,140.06 L276.28,141.31 L276.5,142.49 L276.73,143.61 L276.95,144.67 L277.18,145.67 L277.4,146.62 L277.63,147.52 L277.85,148.36 L278.08,149.16 L278.3,149.9 L278.53,150.6 L278.75,151.26 L278.98,151.87 L279.2,152.45 L279.43,152.98 L279.65,153.49 L279.88,153.96 L280.1,154.39 L280.33,154.8 L280.55,155.18 L280.78,155.54 L281,155.87 L281.23,156.18 L281.45,156.46 L281.68,156.73 L281.9,156.98 L282.13,157.22 L282.35,157.44 L282.58,157.64 L282.8,157.83 L283.03,158.01 L283.25,158.18 L283.48,158.34 L283.7,158.49 L283.93,158.63 L284.15,158.77 L284.38,158.89 L284.6,159.01 L284.83,159.13 L285.05,159.23 L285.28,159.33 L285.5,159.43 L285.73,159.53 L285.95,159.61 L286.18,159.7 L286.4,159.78 L286.63,159.86 L286.85,159.93 L287.08,160.01 L287.3,160.07 L287.53,160.14 L287.75,160.21 L287.98,160.27 L288.2,160.33 L288.43,160.39 L288.65,160.44 L288.88,160.5 L289.1,160.55 L289.33,160.6 L289.55,160.65 L289.78,160.7 L290,160.75 L290.23,160.79 L290.45,160.84 L290.68,160.88 L290.9,160.92 L291.13,160.96 L291.35,161 L291.58,161.04 L291.8,161.08 L292.03,161.12 L292.25,161.15 L292.48,161.19 L292.7,161.22 L292.93,161.25 L293.15,161.29 L293.38,161.32 L293.6,161.35 L293.83,161.38 L294.05,161.41 L294.28,161.44 L294.5,161.46 L294.73,161.49 L294.95,161.52 L295.18,161.54 L295.4,161.57 L295.63,161.59 L295.85,161.62 L296.08,161.64 L296.3,161.67 L296.53,161.69 L296.75,161.71 L296.98,161.73 L297.2,161.75 L297.43,161.77 L297.65,161.8 L297.88,161.82 L298.1,161.83 L298.33,161.85 L298.55,161.87 L298.78,161.89 L299,161.91 L299.23,161.93 L299.45,161.94 L299.68,161.96 L299.9,161.98 L300.13,161.99 L300.35,162.01 L300.58,162.03 L300.8,162.04 L301.03,162.06 L301.25,162.07 L301.48,162.09 L301.7,162.1 L301.93,162.11 L302.15,162.13 L302.38,162.14 L302.6,162.15 L302.83,162.17 L303.05,162.18 L303.28,162.19 L303.5,162.2 L303.73,162.22 L303.95,162.23 L304.18,162.24 L304.4,162.25 L304.63,162.26 L304.85,162.27 L305.08,162.28 L305.3,162.29 L305.53,162.3 L305.75,162.31 L305.98,162.32 L306.2,162.33 L306.43,162.34 L306.65,162.35 L306.88,162.36 L307.1,162.37 L307.33,162.38 L307.55,162.39 L307.78,162.4 L308,162.41 L308.23,162.42 L308.45,162.43 L308.68,162.43 L308.9,162.44 L309.13,162.45 L309.35,162.46 L309.58,162.47 L309.8,162.47 L310.03,162.48 L310.25,162.49 L310.48,162.5 L310.7,162.5 L310.93,162.51 L311.15,162.52 L311.38,162.52 L311.6,162.53 L311.83,162.54 L312.05,162.54 L312.28,162.55 L312.5,162.56 L312.73,162.56 L312.95,162.57 L313.18,162.57 L313.4,162.58 L313.63,162.59 L313.85,162.59 L314.08,162.6 L314.3,162.6 L314.53,162.61 L314.75,162.62 L314.98,162.62 L315.2,162.63 L315.43,162.63 L315.65,162.64 L315.88,162.64 L316.1,162.65 L316.33,162.65 L316.55,162.66 L316.78,162.66 L317,162.67 L317.23,162.67 L317.45,162.68 L317.68,162.68 L317.9,162.69 L318.13,162.69 L318.35,162.69 L318.58,162.7 L318.8,162.7 L319.03,162.71 L319.25,162.71 L319.48,162.72 L319.7,162.72 L319.93,162.72 L320.15,162.73 L320.38,162.73 L320.6,162.74 L320.83,162.74 L321.05,162.74 L321.28,162.75 L321.5,162.75 L321.73,162.75 L321.95,162.76 L322.18,162.76 L322.4,162.77 L322.63,162.77 L322.85,162.77 L323.08,162.78 L323.3,162.78 L323.53,162.78 L323.75,162.79 L323.98,162.79 L324.2,162.79 L324.43,162.8 L324.65,162.8 L324.88,162.8 L325.1,162.8 L325.33,162.81 L325.55,162.81 L325.78,162.81 L326,162.82 L326.23,162.82 L326.45,162.82 L326.68,162.83 L326.9,162.83 L327.13,162.83 L327.35,162.83 L327.58,162.84 L327.8,162.84 L328.03,162.84 L328.25,162.84 L328.48,162.85 L328.7,162.85 L328.93,162.85 L329.15,162.85 L329.38,162.86 L329.6,162.86 L329.83,162.86 L330.05,162.86 L330.28,162.87 L330.5,162.87 L330.73,162.87 L330.95,162.87 L331.18,162.88 L331.4,162.88 L331.63,162.88 L331.85,162.88 L332.08,162.88 L332.3,162.89 L332.53,162.89 L332.75,162.89 L332.98,162.89 L333.2,162.9 L333.43,162.9 L333.65,162.9 L333.88,162.9 L334.1,162.9 L334.33,162.91 L334.55,162.91 L334.78,162.91 L335,162.91 L335.23,162.91 L335.45,162.92 L335.68,162.92 L335.9,162.92 L336.13,162.92 L336.35,162.92 L336.58,162.92 L336.8,162.93 L337.03,162.93 L337.25,162.93 L337.48,162.93 L337.7,162.93 L337.93,162.93 L338.15,162.94 L338.38,162.94 L338.6,162.94 L338.83,162.94 L339.05,162.94 L339.28,162.94 L339.5,162.95 L339.73,162.95 L339.95,162.95 L340.18,162.95 L340.4,162.95 L340.63,162.95 L340.85,162.96 L341.08,162.96 L341.3,162.96 L341.53,162.96 L341.75,162.96 L341.98,162.96 L342.2,162.96 L342.43,162.97 L342.65,162.97 L342.88,162.97 L343.1,162.97 L343.33,162.97 L343.55,162.97 L343.78,162.97 L344,162.97 L344.23,162.98 L344.45,162.98 L344.68,162.98 L344.9,162.98 L345.13,162.98 L345.35,162.98 L345.58,162.98 L345.8,162.98 L346.03,162.99 L346.25,162.99 L346.48,162.99 L346.7,162.99 L346.93,162.99 L347.15,162.99 L347.38,162.99 L347.6,162.99 L347.83,163 L348.05,163 L348.28,163 L348.5,163 L348.73,163 L348.95,163 L349.18,163 L349.4,163 L349.63,163 L349.85,163.01 L350.08,163.01 L350.3,163.01 L350.53,163.01 L350.75,163.01 L350.98,163.01 L351.2,163.01 L351.43,163.01 L351.65,163.01 L351.88,163.01 L352.1,163.02 L352.33,163.02 L352.55,163.02 L352.78,163.02 L353,163.02 L353.23,163.02 L353.45,163.02 L353.68,163.02 L353.9,163.02 L354.13,163.02 L354.35,163.03 L354.58,163.03 L354.8,163.03 L355.03,163.03 L355.25,163.03 L355.48,163.03 L355.7,163.03 L355.93,163.03 L356.15,163.03 L356.38,163.03 L356.6,163.03 L356.83,163.03 L357.05,163.04 L357.28,163.04 L357.5,163.04 L357.73,163.04 L357.95,163.04 L358.18,163.04 L358.4,163.04 L358.63,163.04 L358.85,163.04 L359.08,163.04 L359.3,163.04 L359.53,163.04 L359.75,163.04 L359.98,163.05 L360.2,163.05 L360.43,163.05 L360.65,163.05 L360.88,163.05 L361.1,163.05 L361.33,163.05 L361.55,163.05 L361.78,163.05 L362,163.05 L362.23,163.05 L362.45,163.05 L362.68,163.05 L362.9,163.05 L363.13,163.06 L363.35,163.06 L363.58,163.06 L363.8,163.06 L364.03,163.06 L364.25,163.06 L364.48,163.06 L364.7,163.06 L364.93,163.06 L365.15,163.06 L365.38,163.06 L365.6,163.06 L365.83,163.06 L366.05,163.06 L366.28,163.06 L366.5,163.07 L366.73,163.07 L366.95,163.07 L367.18,163.07 L367.4,163.07 L367.63,163.07 L367.85,163.07 L368.08,163.07 L368.3,163.07 L368.53,163.07 L368.75,163.07 L368.98,163.07 L369.2,163.07 L369.43,163.07 L369.65,163.07 L369.88,163.07 L370.1,163.07 L370.33,163.08 L370.55,163.08 L370.78,163.08 L371,163.08 L371.23,163.08 L371.45,163.08 L371.68,163.08 L371.9,163.08 L372.13,163.08 L372.35,163.08 L372.58,163.08 L372.8,163.08 L373.03,163.08 L373.25,163.08 L373.48,163.08 L373.7,163.08 L373.93,163.08 L374.15,163.08 L374.38,163.08 L374.6,163.08 L374.83,163.09 L375.05,163.09 L375.28,163.09 L375.5,163.09 L375.73,163.09 L375.95,163.09 L376.18,163.09 L376.4,163.09 L376.63,163.09 L376.85,163.09 L377.08,163.09 L377.3,163.09 L377.53,163.09 L377.75,163.09 L377.98,163.09 L378.2,163.09 L378.43,163.09 L378.65,163.09 L378.88,163.09 L379.1,163.09 L379.33,163.09 L379.55,163.09 L379.78,163.1 L380,163.1 L380.23,163.1 L380.45,163.1 L380.68,163.1 L380.9,163.1 L381.13,163.1 L381.35,163.1 L381.58,163.1 L381.8,163.1 L382.03,163.1 L382.25,163.1 L382.48,163.1 L382.7,163.1 L382.93,163.1 L383.15,163.1 L383.38,163.1 L383.6,163.1 L383.83,163.1 L384.05,163.1 L384.28,163.1 L384.5,163.1 L384.73,163.1 L384.95,163.1 L385.18,163.1 L385.4,163.1 L385.63,163.11 L385.85,163.11 L386.08,163.11 L386.3,163.11 L386.53,163.11 L386.75,163.11 L386.98,163.11 L387.2,163.11 L387.43,163.11 L387.65,163.11 L387.88,163.11 L388.1,163.11 L388.33,163.11 L388.55,163.11 L388.78,163.11 L389,163.11 L389.23,163.11 L389.45,163.11 L389.68,163.11 L389.9,163.11 L390.13,163.11 L390.35,163.11 L390.58,163.11 L390.8,163.11 L391.03,163.11 L391.25,163.11 L391.48,163.11 L391.7,163.11 L391.93,163.11 L392.15,163.11 L392.38,163.12 L392.6,163.12 L392.83,163.12 L393.05,163.12 L393.28,163.12 L393.5,163.12 L393.73,163.12 L393.95,163.12 L394.18,163.12 L394.4,163.12 L394.63,163.12 L394.85,163.12 L395.08,163.12 L395.3,163.12 L395.53,163.12 L395.75,163.12 L395.98,163.12 L396.2,163.12 L396.43,163.12 L396.65,163.12 L396.88,163.12 L397.1,163.12 L397.33,163.12 L397.55,163.12 L397.78,163.12 L398,163.12 L398.23,163.12 L398.45,163.12 L398.68,163.12 L398.9,163.12 L399.13,163.12 L399.35,163.12 L399.58,163.12 L399.8,163.12 L400.03,163.12 L400.25,163.12 L400.48,163.13 L400.7,163.13 L400.93,163.13 L401.15,163.13 L401.38,163.13 L401.6,163.13 L401.83,163.13 L402.05,163.13 L402.28,163.13 L402.5,163.13 L402.73,163.13 L402.95,163.13 L402.95,163.2 Z" fill="#c8c1e3" stroke="none" stroke-width="1"/>
<line x1="248.15" y1="162.9" x2="402.95" y2="162.9" stroke="#a89ad0" stroke-width="0.6"/>
<text x="266" y="162.16" font-size="7.4" text-anchor="middle" fill="#8a64a8">421</text>
<line x1="294.7" y1="7.4" x2="448.5" y2="7.4" stroke="#333" stroke-width="1"/>
<line x1="448.5" y1="7.4" x2="448.5" y2="92.3" stroke="#333" stroke-width="1"/>
<line x1="245.7" y1="83.2" x2="294.7" y2="7.4" stroke="#333" stroke-width="1"/>
<line x1="245.7" y1="83.2" x2="245.7" y2="169.2" stroke="#333" stroke-width="1"/>
<line x1="245.7" y1="169.2" x2="399.8" y2="169.2" stroke="#333" stroke-width="1"/>
<line x1="399.8" y1="169.2" x2="448.5" y2="92.3" stroke="#333" stroke-width="1"/>
<line x1="254.8" y1="169.2" x2="254.8" y2="171.2" stroke="#333" stroke-width="0.8"/>
<line x1="277.3" y1="169.2" x2="277.3" y2="171.2" stroke="#333" stroke-width="0.8"/>
<line x1="299.8" y1="169.2" x2="299.8" y2="171.2" stroke="#333" stroke-width="0.8"/>
<line x1="322.3" y1="169.2" x2="322.3" y2="171.2" stroke="#333" stroke-width="0.8"/>
<line x1="344.8" y1="169.2" x2="344.8" y2="171.2" stroke="#333" stroke-width="0.8"/>
<line x1="367.3" y1="169.2" x2="367.3" y2="171.2" stroke="#333" stroke-width="0.8"/>
<line x1="389.8" y1="169.2" x2="389.8" y2="171.2" stroke="#333" stroke-width="0.8"/>
<text x="254.8" y="179.08" font-size="8" text-anchor="middle" fill="#222">400</text>
<text x="299.8" y="179.08" font-size="8" text-anchor="middle" fill="#222">500</text>
<text x="344.8" y="179.08" font-size="8" text-anchor="middle" fill="#222">600</text>
<text x="389.8" y="179.08" font-size="8" text-anchor="middle" fill="#222">700</text>
<text x="327.6" y="196.3" font-size="12.2" text-anchor="middle" fill="#222">Wavelength (nm)</text>
<text x="239.5" y="126.8" font-size="12.2" text-anchor="middle" fill="#222" transform="rotate(-90 239.5 126.8)">PL intensity</text>
<text x="227.5" y="12.8" font-size="18" text-anchor="start" fill="#111">b</text>
<polyline points="476.9,10.3 477,11.75 477.1,13.13 477.2,14.46 477.3,15.72 477.4,16.93 477.5,18.09 477.6,19.21 477.7,20.27 477.8,21.29 477.9,22.26 478,23.2 478.1,24.1 478.2,24.96 478.29,25.78 478.39,26.57 478.49,27.33 478.59,28.06 478.69,28.75 478.79,29.42 478.89,30.07 478.99,30.69 479.09,31.28 479.19,31.85 479.29,32.4 479.39,32.93 479.49,33.44 479.59,33.93 479.69,34.4 479.79,34.86 479.89,35.3 479.99,35.72 480.09,36.12 480.19,36.52 480.29,36.89 480.39,37.26 480.49,37.61 480.59,37.95 480.69,38.28 480.79,38.6 480.88,38.91 480.98,39.21 481.08,39.49 481.18,39.77 481.28,40.04 481.38,40.31 481.48,40.56 481.58,40.81 481.68,41.04 481.78,41.28 481.88,41.5 481.98,41.72 482.08,41.93 482.18,42.14 482.28,42.34 482.38,42.53 482.48,42.72 482.58,42.91 482.68,43.09 482.78,43.26 482.88,43.43 482.98,43.6 483.08,43.76 483.18,43.92 483.28,44.07 483.38,44.22 483.48,44.37 483.57,44.51 483.67,44.66 483.77,44.79 483.87,44.93 483.97,45.06 484.07,45.19 484.17,45.31 484.27,45.44 484.37,45.56 484.47,45.68 484.57,45.79 484.67,45.91 484.77,46.02 484.87,46.13 484.97,46.24 485.07,46.34 485.17,46.44 485.27,46.55 485.37,46.65 485.47,46.74 485.57,46.84 485.67,46.94 485.77,47.03 485.87,47.12 485.97,47.21 486.07,47.3 486.17,47.39 486.26,47.47 486.36,47.56 486.46,47.64 486.56,47.72 486.66,47.8 486.76,47.88 486.86,47.96 486.96,48.04 487.06,48.12 487.16,48.19 487.26,48.27 487.36,48.34 487.46,48.41 487.56,48.48 487.66,48.55 487.76,48.62 487.86,48.69 487.96,48.76 488.06,48.82 488.16,48.89 488.26,48.95 488.36,49.02 488.46,49.08 488.56,49.14 488.66,49.21 488.76,49.27 488.85,49.33 488.95,49.39 489.05,49.44 489.15,49.5 489.25,49.56 489.35,49.62 489.45,49.67 489.55,49.73 489.65,49.78 489.75,49.84 489.85,49.89 489.95,49.94 490.05,50 490.15,50.05 490.25,50.1 490.35,50.15 490.45,50.2 490.55,50.25 490.65,50.3 490.75,50.35 490.85,50.4 490.95,50.44 491.05,50.49 491.15,50.54 491.25,50.58 491.35,50.63 491.45,50.67 491.54,50.72 491.64,50.76 491.74,50.8 491.84,50.85 491.94,50.89 492.04,50.93 492.14,50.97 492.24,51.02 492.34,51.06 492.44,51.1 492.54,51.14 492.64,51.18 492.74,51.22 492.84,51.26 493.64,51.55 494.43,51.83 495.23,52.09 496.03,52.32 496.82,52.54 497.62,52.75 498.42,52.94 499.22,53.12 500.01,53.29 500.81,53.44 501.61,53.59 502.4,53.72 503.2,53.85 504,53.97 504.79,54.08 505.59,54.19 506.39,54.29 507.19,54.38 507.98,54.47 508.78,54.55 509.58,54.63 510.37,54.71 511.17,54.78 511.97,54.85 512.76,54.91 513.56,54.97 514.36,55.03 515.16,55.09 515.95,55.14 516.75,55.19 517.55,55.24 518.34,55.29 519.14,55.33 519.94,55.38 520.74,55.42 521.53,55.46 522.33,55.5 523.13,55.53 523.92,55.57 524.72,55.6 525.52,55.63 526.31,55.67 527.11,55.7 527.91,55.73 528.7,55.76 529.5,55.78 530.3,55.81 531.1,55.84 531.89,55.86 532.69,55.89 533.49,55.91 534.28,55.94 535.08,55.96 535.88,55.98 536.67,56 537.47,56.02 538.27,56.04 539.07,56.06 539.86,56.08 540.66,56.1 541.46,56.12 542.25,56.14 543.05,56.15 543.85,56.17 544.64,56.19 545.44,56.2 546.24,56.22 547.04,56.24 547.83,56.25 548.63,56.26 549.43,56.28 550.22,56.29 551.02,56.31 551.82,56.32 552.62,56.33 553.41,56.35 554.21,56.36 555.01,56.37 555.8,56.38 556.6,56.39 557.4,56.4 558.19,56.42 558.99,56.43 559.79,56.44 560.59,56.45 561.38,56.46 562.18,56.47 562.98,56.48 563.77,56.49 564.57,56.49 565.37,56.5 566.16,56.51 566.96,56.52 567.76,56.53 568.55,56.54 569.35,56.55 570.15,56.55 570.95,56.56 571.74,56.57 572.54,56.58 573.34,56.58 574.13,56.59 574.93,56.6 575.73,56.6 576.52,56.61 577.32,56.62 578.12,56.62 578.92,56.63 579.71,56.63 580.51,56.64 581.31,56.65 582.1,56.65 582.9,56.66 583.7,56.66 584.5,56.67 585.29,56.67 586.09,56.68 586.89,56.68 587.68,56.69 588.48,56.69 589.28,56.7 590.07,56.7 590.87,56.71 591.67,56.71 592.47,56.71 593.26,56.72 594.06,56.72 594.86,56.73 595.65,56.73 596.45,56.73 597.25,56.74 598.04,56.74 598.84,56.74 599.64,56.75 600.43,56.75 601.23,56.75 602.03,56.76 602.83,56.76 603.62,56.76 604.42,56.77 605.22,56.77 606.01,56.77 606.81,56.78 607.61,56.78 608.4,56.78 609.2,56.78 610,56.79 610.8,56.79 611.59,56.79 612.39,56.79 613.19,56.8 613.98,56.8 614.78,56.8 615.58,56.8 616.38,56.8 617.17,56.81 617.97,56.81 618.77,56.81 619.56,56.81 620.36,56.81 621.16,56.82 621.95,56.82 622.75,56.82 623.55,56.82 624.35,56.82 625.14,56.83 625.94,56.83 626.74,56.83 627.53,56.83 628.33,56.83 629.13,56.83 629.92,56.83 630.72,56.84 631.52,56.84 632.32,56.84 633.11,56.84 633.91,56.84 634.71,56.84 635.5,56.84 636.3,56.85 637.1,56.85 637.89,56.85 638.69,56.85 639.49,56.85 640.28,56.85 641.08,56.85 641.88,56.85 642.68,56.85 643.47,56.86 644.27,56.86 645.07,56.86 645.86,56.86 646.66,56.86 647.46,56.86 648.25,56.86 649.05,56.86 649.85,56.86 650.65,56.86 651.44,56.86 652.24,56.86 653.04,56.87 653.83,56.87 654.63,56.87 655.43,56.87 656.23,56.87 657.02,56.87 657.82,56.87 658.62,56.87 659.41,56.87 660.21,56.87 661.01,56.87 661.8,56.87 662.6,56.87 663.4,56.87 664.19,56.87 664.99,56.88 665.79,56.88 666.59,56.88 667.38,56.88 668.18,56.88 668.98,56.88 669.77,56.88 670.57,56.88 671.37,56.88 672.16,56.88 672.96,56.88 673.76,56.88 674.56,56.88 675.35,56.88 676.15,56.88" fill="none" stroke="#f6b4bc" stroke-width="5" stroke-linejoin="round"/>
<circle cx="476.9" cy="10.3" r="2.5" fill="#f6b4bc" stroke="none" stroke-width="0.5"/>
<polyline points="476.9,10.3 477,11.75 477.1,13.13 477.2,14.46 477.3,15.72 477.4,16.93 477.5,18.09 477.6,19.21 477.7,20.27 477.8,21.29 477.9,22.26 478,23.2 478.1,24.1 478.2,24.96 478.29,25.78 478.39,26.57 478.49,27.33 478.59,28.06 478.69,28.75 478.79,29.42 478.89,30.07 478.99,30.69 479.09,31.28 479.19,31.85 479.29,32.4 479.39,32.93 479.49,33.44 479.59,33.93 479.69,34.4 479.79,34.86 479.89,35.3 479.99,35.72 480.09,36.12 480.19,36.52 480.29,36.89 480.39,37.26 480.49,37.61 480.59,37.95 480.69,38.28 480.79,38.6 480.88,38.91 480.98,39.21 481.08,39.49 481.18,39.77 481.28,40.04 481.38,40.31 481.48,40.56 481.58,40.81 481.68,41.04 481.78,41.28 481.88,41.5 481.98,41.72 482.08,41.93 482.18,42.14 482.28,42.34 482.38,42.53 482.48,42.72 482.58,42.91 482.68,43.09 482.78,43.26 482.88,43.43 482.98,43.6 483.08,43.76 483.18,43.92 483.28,44.07 483.38,44.22 483.48,44.37 483.57,44.51 483.67,44.66 483.77,44.79 483.87,44.93 483.97,45.06 484.07,45.19 484.17,45.31 484.27,45.44 484.37,45.56 484.47,45.68 484.57,45.79 484.67,45.91 484.77,46.02 484.87,46.13 484.97,46.24 485.07,46.34 485.17,46.44 485.27,46.55 485.37,46.65 485.47,46.74 485.57,46.84 485.67,46.94 485.77,47.03 485.87,47.12 485.97,47.21 486.07,47.3 486.17,47.39 486.26,47.47 486.36,47.56 486.46,47.64 486.56,47.72 486.66,47.8 486.76,47.88 486.86,47.96 486.96,48.04 487.06,48.12 487.16,48.19 487.26,48.27 487.36,48.34 487.46,48.41 487.56,48.48 487.66,48.55 487.76,48.62 487.86,48.69 487.96,48.76 488.06,48.82 488.16,48.89 488.26,48.95 488.36,49.02 488.46,49.08 488.56,49.14 488.66,49.21 488.76,49.27 488.85,49.33 488.95,49.39 489.05,49.44 489.15,49.5 489.25,49.56 489.35,49.62 489.45,49.67 489.55,49.73 489.65,49.78 489.75,49.84 489.85,49.89 489.95,49.94 490.05,50 490.15,50.05 490.25,50.1 490.35,50.15 490.45,50.2 490.55,50.25 490.65,50.3 490.75,50.35 490.85,50.4 490.95,50.44 491.05,50.49 491.15,50.54 491.25,50.58 491.35,50.63 491.45,50.67 491.54,50.72 491.64,50.76 491.74,50.8 491.84,50.85 491.94,50.89 492.04,50.93 492.14,50.97 492.24,51.02 492.34,51.06 492.44,51.1 492.54,51.14 492.64,51.18 492.74,51.22 492.84,51.26 493.64,51.55 494.43,51.83 495.23,52.09 496.03,52.32 496.82,52.54 497.62,52.75 498.42,52.94 499.22,53.12 500.01,53.29 500.81,53.44 501.61,53.59 502.4,53.72 503.2,53.85 504,53.97 504.79,54.08 505.59,54.19 506.39,54.29 507.19,54.38 507.98,54.47 508.78,54.55 509.58,54.63 510.37,54.71 511.17,54.78 511.97,54.85 512.76,54.91 513.56,54.97 514.36,55.03 515.16,55.09 515.95,55.14 516.75,55.19 517.55,55.24 518.34,55.29 519.14,55.33 519.94,55.38 520.74,55.42 521.53,55.46 522.33,55.5 523.13,55.53 523.92,55.57 524.72,55.6 525.52,55.63 526.31,55.67 527.11,55.7 527.91,55.73 528.7,55.76 529.5,55.78 530.3,55.81 531.1,55.84 531.89,55.86 532.69,55.89 533.49,55.91 534.28,55.94 535.08,55.96 535.88,55.98 536.67,56 537.47,56.02 538.27,56.04 539.07,56.06 539.86,56.08 540.66,56.1 541.46,56.12 542.25,56.14 543.05,56.15 543.85,56.17 544.64,56.19 545.44,56.2 546.24,56.22 547.04,56.24 547.83,56.25 548.63,56.26 549.43,56.28 550.22,56.29 551.02,56.31 551.82,56.32 552.62,56.33 553.41,56.35 554.21,56.36 555.01,56.37 555.8,56.38 556.6,56.39 557.4,56.4 558.19,56.42 558.99,56.43 559.79,56.44 560.59,56.45 561.38,56.46 562.18,56.47 562.98,56.48 563.77,56.49 564.57,56.49 565.37,56.5 566.16,56.51 566.96,56.52 567.76,56.53 568.55,56.54 569.35,56.55 570.15,56.55 570.95,56.56 571.74,56.57 572.54,56.58 573.34,56.58 574.13,56.59 574.93,56.6 575.73,56.6 576.52,56.61 577.32,56.62 578.12,56.62 578.92,56.63 579.71,56.63 580.51,56.64 581.31,56.65 582.1,56.65 582.9,56.66 583.7,56.66 584.5,56.67 585.29,56.67 586.09,56.68 586.89,56.68 587.68,56.69 588.48,56.69 589.28,56.7 590.07,56.7 590.87,56.71 591.67,56.71 592.47,56.71 593.26,56.72 594.06,56.72 594.86,56.73 595.65,56.73 596.45,56.73 597.25,56.74 598.04,56.74 598.84,56.74 599.64,56.75 600.43,56.75 601.23,56.75 602.03,56.76 602.83,56.76 603.62,56.76 604.42,56.77 605.22,56.77 606.01,56.77 606.81,56.78 607.61,56.78 608.4,56.78 609.2,56.78 610,56.79 610.8,56.79 611.59,56.79 612.39,56.79 613.19,56.8 613.98,56.8 614.78,56.8 615.58,56.8 616.38,56.8 617.17,56.81 617.97,56.81 618.77,56.81 619.56,56.81 620.36,56.81 621.16,56.82 621.95,56.82 622.75,56.82 623.55,56.82 624.35,56.82 625.14,56.83 625.94,56.83 626.74,56.83 627.53,56.83 628.33,56.83 629.13,56.83 629.92,56.83 630.72,56.84 631.52,56.84 632.32,56.84 633.11,56.84 633.91,56.84 634.71,56.84 635.5,56.84 636.3,56.85 637.1,56.85 637.89,56.85 638.69,56.85 639.49,56.85 640.28,56.85 641.08,56.85 641.88,56.85 642.68,56.85 643.47,56.86 644.27,56.86 645.07,56.86 645.86,56.86 646.66,56.86 647.46,56.86 648.25,56.86 649.05,56.86 649.85,56.86 650.65,56.86 651.44,56.86 652.24,56.86 653.04,56.87 653.83,56.87 654.63,56.87 655.43,56.87 656.23,56.87 657.02,56.87 657.82,56.87 658.62,56.87 659.41,56.87 660.21,56.87 661.01,56.87 661.8,56.87 662.6,56.87 663.4,56.87 664.19,56.87 664.99,56.88 665.79,56.88 666.59,56.88 667.38,56.88 668.18,56.88 668.98,56.88 669.77,56.88 670.57,56.88 671.37,56.88 672.16,56.88 672.96,56.88 673.76,56.88 674.56,56.88 675.35,56.88 676.15,56.88" fill="none" stroke="#d42e40" stroke-width="1" stroke-linejoin="round"/>
<polyline points="476.9,63.6 477,66.2 477.1,68.58 477.2,70.78 477.3,72.81 477.4,74.68 477.5,76.4 477.6,78 477.7,79.47 477.8,80.84 477.9,82.11 478,83.29 478.1,84.39 478.2,85.41 478.29,86.37 478.39,87.26 478.49,88.1 478.59,88.88 478.69,89.62 478.79,90.31 478.89,90.96 478.99,91.57 479.09,92.15 479.19,92.7 479.29,93.22 479.39,93.71 479.49,94.18 479.59,94.63 479.69,95.05 479.79,95.46 479.89,95.84 479.99,96.21 480.09,96.57 480.19,96.91 480.29,97.23 480.39,97.55 480.49,97.85 480.59,98.14 480.69,98.42 480.79,98.69 480.88,98.95 480.98,99.2 481.08,99.45 481.18,99.68 481.28,99.91 481.38,100.13 481.48,100.35 481.58,100.56 481.68,100.76 481.78,100.96 481.88,101.15 481.98,101.34 482.08,101.52 482.18,101.69 482.28,101.87 482.38,102.04 482.48,102.2 482.58,102.36 482.68,102.51 482.78,102.67 482.88,102.82 482.98,102.96 483.08,103.1 483.18,103.24 483.28,103.38 483.38,103.51 483.48,103.64 483.57,103.76 483.67,103.89 483.77,104.01 483.87,104.13 483.97,104.24 484.07,104.36 484.17,104.47 484.27,104.58 484.37,104.69 484.47,104.79 484.57,104.89 484.67,104.99 484.77,105.09 484.87,105.19 484.97,105.28 485.07,105.37 485.17,105.46 485.27,105.55 485.37,105.64 485.47,105.73 485.57,105.81 485.67,105.89 485.77,105.97 485.87,106.05 485.97,106.13 486.07,106.21 486.17,106.28 486.26,106.35 486.36,106.43 486.46,106.5 486.56,106.57 486.66,106.63 486.76,106.7 486.86,106.77 486.96,106.83 487.06,106.89 487.16,106.96 487.26,107.02 487.36,107.08 487.46,107.14 487.56,107.19 487.66,107.25 487.76,107.31 487.86,107.36 487.96,107.42 488.06,107.47 488.16,107.52 488.26,107.57 488.36,107.62 488.46,107.67 488.56,107.72 488.66,107.77 488.76,107.82 488.85,107.86 488.95,107.91 489.05,107.95 489.15,108 489.25,108.04 489.35,108.08 489.45,108.13 489.55,108.17 489.65,108.21 489.75,108.25 489.85,108.29 489.95,108.33 490.05,108.37 490.15,108.4 490.25,108.44 490.35,108.48 490.45,108.51 490.55,108.55 490.65,108.58 490.75,108.62 490.85,108.65 490.95,108.68 491.05,108.72 491.15,108.75 491.25,108.78 491.35,108.81 491.45,108.84 491.54,108.87 491.64,108.91 491.74,108.93 491.84,108.96 491.94,108.99 492.04,109.02 492.14,109.05 492.24,109.08 492.34,109.1 492.44,109.13 492.54,109.16 492.64,109.18 492.74,109.21 492.84,109.24 493.64,109.43 494.43,109.6 495.23,109.76 496.03,109.9 496.82,110.03 497.62,110.15 498.42,110.26 499.22,110.37 500.01,110.46 500.81,110.55 501.61,110.63 502.4,110.7 503.2,110.77 504,110.84 504.79,110.9 505.59,110.96 506.39,111.01 507.19,111.06 507.98,111.11 508.78,111.16 509.58,111.2 510.37,111.24 511.17,111.28 511.97,111.31 512.76,111.34 513.56,111.38 514.36,111.4 515.16,111.43 515.95,111.46 516.75,111.48 517.55,111.51 518.34,111.53 519.14,111.55 519.94,111.57 520.74,111.59 521.53,111.6 522.33,111.62 523.13,111.64 523.92,111.65 524.72,111.66 525.52,111.68 526.31,111.69 527.11,111.7 527.91,111.71 528.7,111.72 529.5,111.73 530.3,111.74 531.1,111.75 531.89,111.76 532.69,111.77 533.49,111.77 534.28,111.78 535.08,111.79 535.88,111.79 536.67,111.8 537.47,111.81 538.27,111.81 539.07,111.82 539.86,111.82 540.66,111.83 541.46,111.83 542.25,111.83 543.05,111.84 543.85,111.84 544.64,111.84 545.44,111.85 546.24,111.85 547.04,111.85 547.83,111.86 548.63,111.86 549.43,111.86 550.22,111.86 551.02,111.86 551.82,111.87 552.62,111.87 553.41,111.87 554.21,111.87 555.01,111.87 555.8,111.87 556.6,111.88 557.4,111.88 558.19,111.88 558.99,111.88 559.79,111.88 560.59,111.88 561.38,111.88 562.18,111.88 562.98,111.88 563.77,111.89 564.57,111.89 565.37,111.89 566.16,111.89 566.96,111.89 567.76,111.89 568.55,111.89 569.35,111.89 570.15,111.89 570.95,111.89 571.74,111.89 572.54,111.89 573.34,111.89 574.13,111.89 574.93,111.89 575.73,111.89 576.52,111.89 577.32,111.89 578.12,111.89 578.92,111.9 579.71,111.9 580.51,111.9 581.31,111.9 582.1,111.9 582.9,111.9 583.7,111.9 584.5,111.9 585.29,111.9 586.09,111.9 586.89,111.9 587.68,111.9 588.48,111.9 589.28,111.9 590.07,111.9 590.87,111.9 591.67,111.9 592.47,111.9 593.26,111.9 594.06,111.9 594.86,111.9 595.65,111.9 596.45,111.9 597.25,111.9 598.04,111.9 598.84,111.9 599.64,111.9 600.43,111.9 601.23,111.9 602.03,111.9 602.83,111.9 603.62,111.9 604.42,111.9 605.22,111.9 606.01,111.9 606.81,111.9 607.61,111.9 608.4,111.9 609.2,111.9 610,111.9 610.8,111.9 611.59,111.9 612.39,111.9 613.19,111.9 613.98,111.9 614.78,111.9 615.58,111.9 616.38,111.9 617.17,111.9 617.97,111.9 618.77,111.9 619.56,111.9 620.36,111.9 621.16,111.9 621.95,111.9 622.75,111.9 623.55,111.9 624.35,111.9 625.14,111.9 625.94,111.9 626.74,111.9 627.53,111.9 628.33,111.9 629.13,111.9 629.92,111.9 630.72,111.9 631.52,111.9 632.32,111.9 633.11,111.9 633.91,111.9 634.71,111.9 635.5,111.9 636.3,111.9 637.1,111.9 637.89,111.9 638.69,111.9 639.49,111.9 640.28,111.9 641.08,111.9 641.88,111.9 642.68,111.9 643.47,111.9 644.27,111.9 645.07,111.9 645.86,111.9 646.66,111.9 647.46,111.9 648.25,111.9 649.05,111.9 649.85,111.9 650.65,111.9 651.44,111.9 652.24,111.9 653.04,111.9 653.83,111.9 654.63,111.9 655.43,111.9 656.23,111.9 657.02,111.9 657.82,111.9 658.62,111.9 659.41,111.9 660.21,111.9 661.01,111.9 661.8,111.9 662.6,111.9 663.4,111.9 664.19,111.9 664.99,111.9 665.79,111.9 666.59,111.9 667.38,111.9 668.18,111.9 668.98,111.9 669.77,111.9 670.57,111.9 671.37,111.9 672.16,111.9 672.96,111.9 673.76,111.9 674.56,111.9 675.35,111.9 676.15,111.9" fill="none" stroke="#bcf0aa" stroke-width="5.4" stroke-linejoin="round"/>
<circle cx="476.9" cy="63.6" r="2.7" fill="#bcf0aa" stroke="none" stroke-width="0.5"/>
<polyline points="477.3,72.81 477.4,74.68 477.5,76.4 477.6,78 477.7,79.47 477.8,80.84 477.9,82.11 478,83.29 478.1,84.39 478.2,85.41 478.29,86.37 478.39,87.26 478.49,88.1 478.59,88.88 478.69,89.62 478.79,90.31 478.89,90.96 478.99,91.57 479.09,92.15 479.19,92.7 479.29,93.22 479.39,93.71 479.49,94.18 479.59,94.63 479.69,95.05 479.79,95.46 479.89,95.84 479.99,96.21 480.09,96.57 480.19,96.91 480.29,97.23 480.39,97.55 480.49,97.85 480.59,98.14 480.69,98.42 480.79,98.69 480.88,98.95 480.98,99.2 481.08,99.45 481.18,99.68 481.28,99.91 481.38,100.13 481.48,100.35 481.58,100.56 481.68,100.76 481.78,100.96 481.88,101.15 481.98,101.34 482.08,101.52 482.18,101.69 482.28,101.87 482.38,102.04 482.48,102.2 482.58,102.36 482.68,102.51 482.78,102.67 482.88,102.82 482.98,102.96 483.08,103.1 483.18,103.24 483.28,103.38 483.38,103.51 483.48,103.64 483.57,103.76 483.67,103.89 483.77,104.01 483.87,104.13 483.97,104.24 484.07,104.36 484.17,104.47 484.27,104.58 484.37,104.69 484.47,104.79 484.57,104.89 484.67,104.99 484.77,105.09 484.87,105.19 484.97,105.28 485.07,105.37 485.17,105.46 485.27,105.55 485.37,105.64 485.47,105.73 485.57,105.81 485.67,105.89 485.77,105.97 485.87,106.05 485.97,106.13 486.07,106.21 486.17,106.28 486.26,106.35 486.36,106.43 486.46,106.5 486.56,106.57 486.66,106.63 486.76,106.7 486.86,106.77 486.96,106.83 487.06,106.89 487.16,106.96 487.26,107.02 487.36,107.08 487.46,107.14 487.56,107.19 487.66,107.25 487.76,107.31 487.86,107.36 487.96,107.42 488.06,107.47 488.16,107.52 488.26,107.57 488.36,107.62 488.46,107.67 488.56,107.72 488.66,107.77 488.76,107.82 488.85,107.86 488.95,107.91 489.05,107.95 489.15,108 489.25,108.04 489.35,108.08 489.45,108.13 489.55,108.17 489.65,108.21 489.75,108.25 489.85,108.29 489.95,108.33 490.05,108.37 490.15,108.4 490.25,108.44 490.35,108.48 490.45,108.51 490.55,108.55 490.65,108.58 490.75,108.62 490.85,108.65 490.95,108.68 491.05,108.72 491.15,108.75 491.25,108.78 491.35,108.81 491.45,108.84 491.54,108.87 491.64,108.91 491.74,108.93 491.84,108.96 491.94,108.99 492.04,109.02 492.14,109.05 492.24,109.08 492.34,109.1 492.44,109.13 492.54,109.16 492.64,109.18 492.74,109.21 492.84,109.24 493.64,109.43 494.43,109.6 495.23,109.76 496.03,109.9 496.82,110.03 497.62,110.15 498.42,110.26 499.22,110.37 500.01,110.46 500.81,110.55 501.61,110.63 502.4,110.7 503.2,110.77 504,110.84 504.79,110.9 505.59,110.96 506.39,111.01 507.19,111.06 507.98,111.11 508.78,111.16 509.58,111.2 510.37,111.24 511.17,111.28 511.97,111.31 512.76,111.34 513.56,111.38 514.36,111.4 515.16,111.43 515.95,111.46 516.75,111.48 517.55,111.51 518.34,111.53 519.14,111.55 519.94,111.57 520.74,111.59 521.53,111.6 522.33,111.62 523.13,111.64 523.92,111.65 524.72,111.66 525.52,111.68 526.31,111.69 527.11,111.7 527.91,111.71 528.7,111.72 529.5,111.73 530.3,111.74 531.1,111.75 531.89,111.76 532.69,111.77 533.49,111.77 534.28,111.78 535.08,111.79 535.88,111.79 536.67,111.8 537.47,111.81 538.27,111.81 539.07,111.82 539.86,111.82 540.66,111.83 541.46,111.83 542.25,111.83 543.05,111.84 543.85,111.84 544.64,111.84 545.44,111.85 546.24,111.85 547.04,111.85 547.83,111.86 548.63,111.86 549.43,111.86 550.22,111.86 551.02,111.86 551.82,111.87 552.62,111.87 553.41,111.87 554.21,111.87 555.01,111.87 555.8,111.87 556.6,111.88 557.4,111.88 558.19,111.88 558.99,111.88 559.79,111.88 560.59,111.88 561.38,111.88 562.18,111.88 562.98,111.88 563.77,111.89 564.57,111.89 565.37,111.89 566.16,111.89 566.96,111.89 567.76,111.89 568.55,111.89 569.35,111.89 570.15,111.89 570.95,111.89 571.74,111.89 572.54,111.89 573.34,111.89 574.13,111.89 574.93,111.89 575.73,111.89 576.52,111.89 577.32,111.89 578.12,111.89 578.92,111.9 579.71,111.9 580.51,111.9 581.31,111.9 582.1,111.9 582.9,111.9 583.7,111.9 584.5,111.9 585.29,111.9 586.09,111.9 586.89,111.9 587.68,111.9 588.48,111.9 589.28,111.9 590.07,111.9 590.87,111.9 591.67,111.9 592.47,111.9 593.26,111.9 594.06,111.9 594.86,111.9 595.65,111.9 596.45,111.9 597.25,111.9 598.04,111.9 598.84,111.9 599.64,111.9 600.43,111.9 601.23,111.9 602.03,111.9 602.83,111.9 603.62,111.9 604.42,111.9 605.22,111.9 606.01,111.9 606.81,111.9 607.61,111.9 608.4,111.9 609.2,111.9 610,111.9 610.8,111.9 611.59,111.9 612.39,111.9 613.19,111.9 613.98,111.9 614.78,111.9 615.58,111.9 616.38,111.9 617.17,111.9 617.97,111.9 618.77,111.9 619.56,111.9 620.36,111.9 621.16,111.9 621.95,111.9 622.75,111.9 623.55,111.9 624.35,111.9 625.14,111.9 625.94,111.9 626.74,111.9 627.53,111.9 628.33,111.9 629.13,111.9 629.92,111.9 630.72,111.9 631.52,111.9 632.32,111.9 633.11,111.9 633.91,111.9 634.71,111.9 635.5,111.9 636.3,111.9 637.1,111.9 637.89,111.9 638.69,111.9 639.49,111.9 640.28,111.9 641.08,111.9 641.88,111.9 642.68,111.9 643.47,111.9 644.27,111.9 645.07,111.9 645.86,111.9 646.66,111.9 647.46,111.9 648.25,111.9 649.05,111.9 649.85,111.9 650.65,111.9 651.44,111.9 652.24,111.9 653.04,111.9 653.83,111.9 654.63,111.9 655.43,111.9 656.23,111.9 657.02,111.9 657.82,111.9 658.62,111.9 659.41,111.9 660.21,111.9 661.01,111.9 661.8,111.9 662.6,111.9 663.4,111.9 664.19,111.9 664.99,111.9 665.79,111.9 666.59,111.9 667.38,111.9 668.18,111.9 668.98,111.9 669.77,111.9 670.57,111.9 671.37,111.9 672.16,111.9 672.96,111.9 673.76,111.9 674.56,111.9 675.35,111.9 676.15,111.9" fill="none" stroke="#5ccc44" stroke-width="1" stroke-linejoin="round"/>
<polyline points="476.9,118.1 477,121.93 477.1,125.23 477.2,128.1 477.3,130.59 477.4,132.77 477.5,134.67 477.6,136.34 477.7,137.81 477.8,139.12 477.9,140.28 478,141.31 478.1,142.24 478.2,143.09 478.29,143.85 478.39,144.54 478.49,145.18 478.59,145.76 478.69,146.3 478.79,146.81 478.89,147.28 478.99,147.72 479.09,148.13 479.19,148.52 479.29,148.89 479.39,149.25 479.49,149.58 479.59,149.9 479.69,150.21 479.79,150.51 479.89,150.79 479.99,151.07 480.09,151.33 480.19,151.59 480.29,151.84 480.39,152.08 480.49,152.31 480.59,152.54 480.69,152.76 480.79,152.97 480.88,153.18 480.98,153.39 481.08,153.58 481.18,153.78 481.28,153.97 481.38,154.15 481.48,154.33 481.58,154.51 481.68,154.68 481.78,154.85 481.88,155.01 481.98,155.17 482.08,155.33 482.18,155.48 482.28,155.63 482.38,155.78 482.48,155.92 482.58,156.06 482.68,156.2 482.78,156.33 482.88,156.46 482.98,156.59 483.08,156.72 483.18,156.84 483.28,156.96 483.38,157.08 483.48,157.2 483.57,157.31 483.67,157.43 483.77,157.54 483.87,157.64 483.97,157.75 484.07,157.85 484.17,157.96 484.27,158.06 484.37,158.15 484.47,158.25 484.57,158.34 484.67,158.44 484.77,158.53 484.87,158.62 484.97,158.7 485.07,158.79 485.17,158.88 485.27,158.96 485.37,159.04 485.47,159.12 485.57,159.2 485.67,159.28 485.77,159.35 485.87,159.43 485.97,159.5 486.07,159.57 486.17,159.64 486.26,159.71 486.36,159.78 486.46,159.85 486.56,159.92 486.66,159.98 486.76,160.05 486.86,160.11 486.96,160.17 487.06,160.24 487.16,160.3 487.26,160.36 487.36,160.41 487.46,160.47 487.56,160.53 487.66,160.58 487.76,160.64 487.86,160.69 487.96,160.75 488.06,160.8 488.16,160.85 488.26,160.9 488.36,160.96 488.46,161 488.56,161.05 488.66,161.1 488.76,161.15 488.85,161.2 488.95,161.24 489.05,161.29 489.15,161.33 489.25,161.38 489.35,161.42 489.45,161.47 489.55,161.51 489.65,161.55 489.75,161.59 489.85,161.63 489.95,161.68 490.05,161.72 490.15,161.76 490.25,161.79 490.35,161.83 490.45,161.87 490.55,161.91 490.65,161.95 490.75,161.98 490.85,162.02 490.95,162.05 491.05,162.09 491.15,162.12 491.25,162.16 491.35,162.19 491.45,162.23 491.54,162.26 491.64,162.29 491.74,162.33 491.84,162.36 491.94,162.39 492.04,162.42 492.14,162.45 492.24,162.48 492.34,162.51 492.44,162.54 492.54,162.57 492.64,162.6 492.74,162.63 492.84,162.66 493.64,162.88 494.43,163.07 495.23,163.26 496.03,163.43 496.82,163.58 497.62,163.72 498.42,163.86 499.22,163.98 500.01,164.09 500.81,164.2 501.61,164.3 502.4,164.39 503.2,164.47 504,164.55 504.79,164.62 505.59,164.69 506.39,164.75 507.19,164.81 507.98,164.87 508.78,164.92 509.58,164.96 510.37,165.01 511.17,165.05 511.97,165.09 512.76,165.12 513.56,165.16 514.36,165.19 515.16,165.21 515.95,165.24 516.75,165.27 517.55,165.29 518.34,165.31 519.14,165.33 519.94,165.35 520.74,165.37 521.53,165.38 522.33,165.4 523.13,165.41 523.92,165.42 524.72,165.44 525.52,165.45 526.31,165.46 527.11,165.47 527.91,165.48 528.7,165.49 529.5,165.49 530.3,165.5 531.1,165.51 531.89,165.51 532.69,165.52 533.49,165.53 534.28,165.53 535.08,165.54 535.88,165.54 536.67,165.54 537.47,165.55 538.27,165.55 539.07,165.55 539.86,165.56 540.66,165.56 541.46,165.56 542.25,165.57 543.05,165.57 543.85,165.57 544.64,165.57 545.44,165.57 546.24,165.58 547.04,165.58 547.83,165.58 548.63,165.58 549.43,165.58 550.22,165.58 551.02,165.58 551.82,165.59 552.62,165.59 553.41,165.59 554.21,165.59 555.01,165.59 555.8,165.59 556.6,165.59 557.4,165.59 558.19,165.59 558.99,165.59 559.79,165.59 560.59,165.59 561.38,165.59 562.18,165.59 562.98,165.59 563.77,165.6 564.57,165.6 565.37,165.6 566.16,165.6 566.96,165.6 567.76,165.6 568.55,165.6 569.35,165.6 570.15,165.6 570.95,165.6 571.74,165.6 572.54,165.6 573.34,165.6 574.13,165.6 574.93,165.6 575.73,165.6 576.52,165.6 577.32,165.6 578.12,165.6 578.92,165.6 579.71,165.6 580.51,165.6 581.31,165.6 582.1,165.6 582.9,165.6 583.7,165.6 584.5,165.6 585.29,165.6 586.09,165.6 586.89,165.6 587.68,165.6 588.48,165.6 589.28,165.6 590.07,165.6 590.87,165.6 591.67,165.6 592.47,165.6 593.26,165.6 594.06,165.6 594.86,165.6 595.65,165.6 596.45,165.6 597.25,165.6 598.04,165.6 598.84,165.6 599.64,165.6 600.43,165.6 601.23,165.6 602.03,165.6 602.83,165.6 603.62,165.6 604.42,165.6 605.22,165.6 606.01,165.6 606.81,165.6 607.61,165.6 608.4,165.6 609.2,165.6 610,165.6 610.8,165.6 611.59,165.6 612.39,165.6 613.19,165.6 613.98,165.6 614.78,165.6 615.58,165.6 616.38,165.6 617.17,165.6 617.97,165.6 618.77,165.6 619.56,165.6 620.36,165.6 621.16,165.6 621.95,165.6 622.75,165.6 623.55,165.6 624.35,165.6 625.14,165.6 625.94,165.6 626.74,165.6 627.53,165.6 628.33,165.6 629.13,165.6 629.92,165.6 630.72,165.6 631.52,165.6 632.32,165.6 633.11,165.6 633.91,165.6 634.71,165.6 635.5,165.6 636.3,165.6 637.1,165.6 637.89,165.6 638.69,165.6 639.49,165.6 640.28,165.6 641.08,165.6 641.88,165.6 642.68,165.6 643.47,165.6 644.27,165.6 645.07,165.6 645.86,165.6 646.66,165.6 647.46,165.6 648.25,165.6 649.05,165.6 649.85,165.6 650.65,165.6 651.44,165.6 652.24,165.6 653.04,165.6 653.83,165.6 654.63,165.6 655.43,165.6 656.23,165.6 657.02,165.6 657.82,165.6 658.62,165.6 659.41,165.6 660.21,165.6 661.01,165.6 661.8,165.6 662.6,165.6 663.4,165.6 664.19,165.6 664.99,165.6 665.79,165.6 666.59,165.6 667.38,165.6 668.18,165.6 668.98,165.6 669.77,165.6 670.57,165.6 671.37,165.6 672.16,165.6 672.96,165.6 673.76,165.6 674.56,165.6 675.35,165.6 676.15,165.6" fill="none" stroke="#b0cced" stroke-width="4.2" stroke-linejoin="round"/>
<circle cx="476.9" cy="118.1" r="2.1" fill="#b0cced" stroke="none" stroke-width="0.5"/>
<circle cx="476.69" cy="118.17" r="1.6" fill="#c4daf2" stroke="#8ab0dc" stroke-width="0.5"/>
<circle cx="477.15" cy="129.8" r="1.6" fill="#c4daf2" stroke="#8ab0dc" stroke-width="0.5"/>
<circle cx="477.76" cy="136.55" r="1.6" fill="#c4daf2" stroke="#8ab0dc" stroke-width="0.5"/>
<circle cx="477.55" cy="141.25" r="1.6" fill="#c4daf2" stroke="#8ab0dc" stroke-width="0.5"/>
<circle cx="478.02" cy="142.82" r="1.6" fill="#c4daf2" stroke="#8ab0dc" stroke-width="0.5"/>
<circle cx="478.93" cy="145.37" r="1.6" fill="#c4daf2" stroke="#8ab0dc" stroke-width="0.5"/>
<circle cx="479.16" cy="147.24" r="1.6" fill="#c4daf2" stroke="#8ab0dc" stroke-width="0.5"/>
<circle cx="479.48" cy="148.62" r="1.6" fill="#c4daf2" stroke="#8ab0dc" stroke-width="0.5"/>
<circle cx="480" cy="151.38" r="1.6" fill="#c4daf2" stroke="#8ab0dc" stroke-width="0.5"/>
<circle cx="480.51" cy="152.7" r="1.6" fill="#c4daf2" stroke="#8ab0dc" stroke-width="0.5"/>
<circle cx="481.42" cy="153.27" r="1.6" fill="#c4daf2" stroke="#8ab0dc" stroke-width="0.5"/>
<circle cx="482.29" cy="155.47" r="1.6" fill="#c4daf2" stroke="#8ab0dc" stroke-width="0.5"/>
<circle cx="483.12" cy="156.21" r="1.6" fill="#c4daf2" stroke="#8ab0dc" stroke-width="0.5"/>
<circle cx="484.76" cy="158.21" r="1.6" fill="#c4daf2" stroke="#8ab0dc" stroke-width="0.5"/>
<circle cx="486.24" cy="160.18" r="1.6" fill="#c4daf2" stroke="#8ab0dc" stroke-width="0.5"/>
<circle cx="488.23" cy="161.47" r="1.6" fill="#c4daf2" stroke="#8ab0dc" stroke-width="0.5"/>
<circle cx="490.36" cy="162.35" r="1.6" fill="#c4daf2" stroke="#8ab0dc" stroke-width="0.5"/>
<polyline points="476.9,118.1 477,121.93 477.1,125.23 477.2,128.1 477.3,130.59 477.4,132.77 477.5,134.67 477.6,136.34 477.7,137.81 477.8,139.12 477.9,140.28 478,141.31 478.1,142.24 478.2,143.09 478.29,143.85 478.39,144.54 478.49,145.18 478.59,145.76 478.69,146.3 478.79,146.81 478.89,147.28 478.99,147.72 479.09,148.13 479.19,148.52 479.29,148.89 479.39,149.25 479.49,149.58 479.59,149.9 479.69,150.21 479.79,150.51 479.89,150.79 479.99,151.07 480.09,151.33 480.19,151.59 480.29,151.84 480.39,152.08 480.49,152.31 480.59,152.54 480.69,152.76 480.79,152.97 480.88,153.18 480.98,153.39 481.08,153.58 481.18,153.78 481.28,153.97 481.38,154.15 481.48,154.33 481.58,154.51 481.68,154.68 481.78,154.85 481.88,155.01 481.98,155.17 482.08,155.33 482.18,155.48 482.28,155.63 482.38,155.78 482.48,155.92 482.58,156.06 482.68,156.2 482.78,156.33 482.88,156.46 482.98,156.59 483.08,156.72 483.18,156.84 483.28,156.96 483.38,157.08 483.48,157.2 483.57,157.31 483.67,157.43 483.77,157.54 483.87,157.64 483.97,157.75 484.07,157.85 484.17,157.96 484.27,158.06 484.37,158.15 484.47,158.25 484.57,158.34 484.67,158.44 484.77,158.53 484.87,158.62 484.97,158.7 485.07,158.79 485.17,158.88 485.27,158.96 485.37,159.04 485.47,159.12 485.57,159.2 485.67,159.28 485.77,159.35 485.87,159.43 485.97,159.5 486.07,159.57 486.17,159.64 486.26,159.71 486.36,159.78 486.46,159.85 486.56,159.92 486.66,159.98 486.76,160.05 486.86,160.11 486.96,160.17 487.06,160.24 487.16,160.3 487.26,160.36 487.36,160.41 487.46,160.47 487.56,160.53 487.66,160.58 487.76,160.64 487.86,160.69 487.96,160.75 488.06,160.8 488.16,160.85 488.26,160.9 488.36,160.96 488.46,161 488.56,161.05 488.66,161.1 488.76,161.15 488.85,161.2 488.95,161.24 489.05,161.29 489.15,161.33 489.25,161.38 489.35,161.42 489.45,161.47 489.55,161.51 489.65,161.55 489.75,161.59 489.85,161.63 489.95,161.68 490.05,161.72 490.15,161.76 490.25,161.79 490.35,161.83 490.45,161.87 490.55,161.91 490.65,161.95 490.75,161.98 490.85,162.02 490.95,162.05 491.05,162.09 491.15,162.12 491.25,162.16 491.35,162.19 491.45,162.23 491.54,162.26 491.64,162.29 491.74,162.33 491.84,162.36 491.94,162.39 492.04,162.42 492.14,162.45 492.24,162.48 492.34,162.51 492.44,162.54 492.54,162.57 492.64,162.6 492.74,162.63 492.84,162.66 493.64,162.88 494.43,163.07 495.23,163.26 496.03,163.43 496.82,163.58 497.62,163.72 498.42,163.86 499.22,163.98 500.01,164.09 500.81,164.2 501.61,164.3 502.4,164.39 503.2,164.47 504,164.55 504.79,164.62 505.59,164.69 506.39,164.75 507.19,164.81 507.98,164.87 508.78,164.92 509.58,164.96 510.37,165.01 511.17,165.05 511.97,165.09 512.76,165.12 513.56,165.16 514.36,165.19 515.16,165.21 515.95,165.24 516.75,165.27 517.55,165.29 518.34,165.31 519.14,165.33 519.94,165.35 520.74,165.37 521.53,165.38 522.33,165.4 523.13,165.41 523.92,165.42 524.72,165.44 525.52,165.45 526.31,165.46 527.11,165.47 527.91,165.48 528.7,165.49 529.5,165.49 530.3,165.5 531.1,165.51 531.89,165.51 532.69,165.52 533.49,165.53 534.28,165.53 535.08,165.54 535.88,165.54 536.67,165.54 537.47,165.55 538.27,165.55 539.07,165.55 539.86,165.56 540.66,165.56 541.46,165.56 542.25,165.57 543.05,165.57 543.85,165.57 544.64,165.57 545.44,165.57 546.24,165.58 547.04,165.58 547.83,165.58 548.63,165.58 549.43,165.58 550.22,165.58 551.02,165.58 551.82,165.59 552.62,165.59 553.41,165.59 554.21,165.59 555.01,165.59 555.8,165.59 556.6,165.59 557.4,165.59 558.19,165.59 558.99,165.59 559.79,165.59 560.59,165.59 561.38,165.59 562.18,165.59 562.98,165.59 563.77,165.6 564.57,165.6 565.37,165.6 566.16,165.6 566.96,165.6 567.76,165.6 568.55,165.6 569.35,165.6 570.15,165.6 570.95,165.6 571.74,165.6 572.54,165.6 573.34,165.6 574.13,165.6 574.93,165.6 575.73,165.6 576.52,165.6 577.32,165.6 578.12,165.6 578.92,165.6 579.71,165.6 580.51,165.6 581.31,165.6 582.1,165.6 582.9,165.6 583.7,165.6 584.5,165.6 585.29,165.6 586.09,165.6 586.89,165.6 587.68,165.6 588.48,165.6 589.28,165.6 590.07,165.6 590.87,165.6 591.67,165.6 592.47,165.6 593.26,165.6 594.06,165.6 594.86,165.6 595.65,165.6 596.45,165.6 597.25,165.6 598.04,165.6 598.84,165.6 599.64,165.6 600.43,165.6 601.23,165.6 602.03,165.6 602.83,165.6 603.62,165.6 604.42,165.6 605.22,165.6 606.01,165.6 606.81,165.6 607.61,165.6 608.4,165.6 609.2,165.6 610,165.6 610.8,165.6 611.59,165.6 612.39,165.6 613.19,165.6 613.98,165.6 614.78,165.6 615.58,165.6 616.38,165.6 617.17,165.6 617.97,165.6 618.77,165.6 619.56,165.6 620.36,165.6 621.16,165.6 621.95,165.6 622.75,165.6 623.55,165.6 624.35,165.6 625.14,165.6 625.94,165.6 626.74,165.6 627.53,165.6 628.33,165.6 629.13,165.6 629.92,165.6 630.72,165.6 631.52,165.6 632.32,165.6 633.11,165.6 633.91,165.6 634.71,165.6 635.5,165.6 636.3,165.6 637.1,165.6 637.89,165.6 638.69,165.6 639.49,165.6 640.28,165.6 641.08,165.6 641.88,165.6 642.68,165.6 643.47,165.6 644.27,165.6 645.07,165.6 645.86,165.6 646.66,165.6 647.46,165.6 648.25,165.6 649.05,165.6 649.85,165.6 650.65,165.6 651.44,165.6 652.24,165.6 653.04,165.6 653.83,165.6 654.63,165.6 655.43,165.6 656.23,165.6 657.02,165.6 657.82,165.6 658.62,165.6 659.41,165.6 660.21,165.6 661.01,165.6 661.8,165.6 662.6,165.6 663.4,165.6 664.19,165.6 664.99,165.6 665.79,165.6 666.59,165.6 667.38,165.6 668.18,165.6 668.98,165.6 669.77,165.6 670.57,165.6 671.37,165.6 672.16,165.6 672.96,165.6 673.76,165.6 674.56,165.6 675.35,165.6 676.15,165.6" fill="none" stroke="#3676bf" stroke-width="1" stroke-linejoin="round"/>
<line x1="473.4" y1="7.4" x2="676.2" y2="7.4" stroke="#727272" stroke-width="1"/>
<line x1="676.2" y1="7.4" x2="676.2" y2="169.6" stroke="#727272" stroke-width="1"/>
<line x1="473.4" y1="169.6" x2="676.2" y2="169.6" stroke="#888" stroke-width="1.4"/>
<line x1="473.4" y1="6.9" x2="473.4" y2="170.3" stroke="#888" stroke-width="1.4"/>
<line x1="476.9" y1="169.6" x2="476.9" y2="171.6" stroke="#888" stroke-width="0.8"/>
<line x1="496.82" y1="169.6" x2="496.82" y2="171.6" stroke="#888" stroke-width="0.8"/>
<line x1="516.75" y1="169.6" x2="516.75" y2="171.6" stroke="#888" stroke-width="0.8"/>
<line x1="536.67" y1="169.6" x2="536.67" y2="171.6" stroke="#888" stroke-width="0.8"/>
<line x1="556.6" y1="169.6" x2="556.6" y2="171.6" stroke="#888" stroke-width="0.8"/>
<line x1="576.52" y1="169.6" x2="576.52" y2="171.6" stroke="#888" stroke-width="0.8"/>
<line x1="596.45" y1="169.6" x2="596.45" y2="171.6" stroke="#888" stroke-width="0.8"/>
<line x1="616.38" y1="169.6" x2="616.38" y2="171.6" stroke="#888" stroke-width="0.8"/>
<line x1="636.3" y1="169.6" x2="636.3" y2="171.6" stroke="#888" stroke-width="0.8"/>
<line x1="656.23" y1="169.6" x2="656.23" y2="171.6" stroke="#888" stroke-width="0.8"/>
<line x1="676.15" y1="169.6" x2="676.15" y2="171.6" stroke="#888" stroke-width="0.8"/>
<text x="479.2" y="180.58" font-size="8" text-anchor="middle" fill="#222">0</text>
<text x="519.05" y="180.58" font-size="8" text-anchor="middle" fill="#222">100</text>
<text x="558.9" y="180.58" font-size="8" text-anchor="middle" fill="#222">200</text>
<text x="598.75" y="180.58" font-size="8" text-anchor="middle" fill="#222">300</text>
<text x="638.6" y="180.58" font-size="8" text-anchor="middle" fill="#222">400</text>
<text x="678.45" y="180.58" font-size="8" text-anchor="middle" fill="#222">500</text>
<text x="575.5" y="196.3" font-size="12.2" text-anchor="middle" fill="#222">Time (ns)</text>
<text x="467.5" y="82.3" font-size="12.2" text-anchor="middle" fill="#222" transform="rotate(-90 467.5 82.3)">PL intensity</text>
<text x="455.6" y="13.8" font-size="18" text-anchor="start" fill="#111">c</text>
<text x="499.4" y="40.7" font-size="10.8" fill="#222"><tspan font-style="italic">&#964;</tspan><tspan font-style="italic" font-size="7.5" dy="2">avg</tspan><tspan dy="-2">= 39.19 ns</tspan></text>
<text x="497.3" y="94.1" font-size="10.8" fill="#222"><tspan font-style="italic">&#964;</tspan><tspan font-style="italic" font-size="7.5" dy="2">avg</tspan><tspan dy="-2">= 22.92 ns</tspan></text>
<text x="499.4" y="149.4" font-size="10.8" fill="#222"><tspan font-style="italic">&#964;</tspan><tspan font-style="italic" font-size="7.5" dy="2">avg</tspan><tspan dy="-2">= 16.44 ns</tspan></text>
<circle cx="605.3" cy="27.1" r="1.9" fill="#f4a4ac" stroke="#e04050" stroke-width="0.4"/>
<line x1="596.5" y1="36.6" x2="613.7" y2="36.6" stroke="#e04050" stroke-width="1"/>
<text x="617.9" y="29.84" font-size="7.6" text-anchor="start" fill="#222">Red-Z</text>
<text x="617.9" y="39.34" font-size="7.6" text-anchor="start" fill="#222">Fitting curving</text>
<circle cx="606.5" cy="80.6" r="1.9" fill="#b2ec98" stroke="#6ad050" stroke-width="0.4"/>
<line x1="598.3" y1="89.7" x2="615.4" y2="89.7" stroke="#6ad050" stroke-width="1"/>
<text x="619.6" y="83.34" font-size="7.6" text-anchor="start" fill="#222">Green-Z</text>
<text x="619.6" y="92.44" font-size="7.6" text-anchor="start" fill="#222">Fitting curving</text>
<circle cx="608.8" cy="138.2" r="1.9" fill="#a6c4e6" stroke="#3a7cc6" stroke-width="0.4"/>
<line x1="600" y1="147.3" x2="617.2" y2="147.3" stroke="#3a7cc6" stroke-width="1"/>
<text x="619.6" y="140.94" font-size="7.6" text-anchor="start" fill="#222">Blue-Z</text>
<text x="619.6" y="150.04" font-size="7.6" text-anchor="start" fill="#222">Fitting curving</text>
<line x1="18.4" y1="243.3" x2="220.4" y2="243.3" stroke="#333" stroke-width="1"/>
<line x1="220.4" y1="243.3" x2="220.4" y2="453.6" stroke="#666" stroke-width="1.2"/>
<line x1="18.4" y1="242.8" x2="18.4" y2="454.2" stroke="#888" stroke-width="1.4"/>
<line x1="18.4" y1="331.8" x2="220.4" y2="331.8" stroke="#666" stroke-width="1.6"/>
<line x1="18.4" y1="453.6" x2="220.4" y2="453.6" stroke="#888" stroke-width="1.4"/>
<line x1="18.4" y1="243.3" x2="18.4" y2="245.5" stroke="#555" stroke-width="0.8"/>
<line x1="36.8" y1="243.3" x2="36.8" y2="245.5" stroke="#555" stroke-width="0.8"/>
<line x1="55.2" y1="243.3" x2="55.2" y2="245.5" stroke="#555" stroke-width="0.8"/>
<line x1="73.6" y1="243.3" x2="73.6" y2="245.5" stroke="#555" stroke-width="0.8"/>
<line x1="92" y1="243.3" x2="92" y2="245.5" stroke="#555" stroke-width="0.8"/>
<line x1="110.4" y1="243.3" x2="110.4" y2="245.5" stroke="#555" stroke-width="0.8"/>
<line x1="128.8" y1="243.3" x2="128.8" y2="245.5" stroke="#555" stroke-width="0.8"/>
<line x1="147.2" y1="243.3" x2="147.2" y2="245.5" stroke="#555" stroke-width="0.8"/>
<line x1="165.6" y1="243.3" x2="165.6" y2="245.5" stroke="#555" stroke-width="0.8"/>
<line x1="184" y1="243.3" x2="184" y2="245.5" stroke="#555" stroke-width="0.8"/>
<line x1="202.4" y1="243.3" x2="202.4" y2="245.5" stroke="#555" stroke-width="0.8"/>
<text x="17.8" y="238.84" font-size="7.9" text-anchor="middle" fill="#222">0</text>
<text x="54.6" y="238.84" font-size="7.9" text-anchor="middle" fill="#222">40</text>
<text x="91.4" y="238.84" font-size="7.9" text-anchor="middle" fill="#222">80</text>
<text x="128.2" y="238.84" font-size="7.9" text-anchor="middle" fill="#222">120</text>
<text x="165" y="238.84" font-size="7.9" text-anchor="middle" fill="#222">160</text>
<text x="201.8" y="238.84" font-size="7.9" text-anchor="middle" fill="#222">200</text>
<text x="116.75" y="223.8" font-size="11.75" text-anchor="middle" fill="#222">Temperature (&#176;<tspan dx="-0.4">C</tspan> )</text>
<text x="0" y="230.6" font-size="18" text-anchor="start" fill="#111">d</text>
<text x="11.4" y="332.35" font-size="12" text-anchor="middle" fill="#222" transform="rotate(-90 11.4 332.35)">PL intensity</text>
<line x1="111" y1="273.5" x2="155.62" y2="288.9" stroke="#4a6fa8" stroke-width="1.6"/>
<path d="M164.6,292 L153.5,291.98 L154.67,288.57 L155.85,285.17 Z" fill="#4a6fa8" stroke="none" stroke-width="1"/>
<line x1="120.9" y1="305" x2="71.27" y2="289.53" stroke="#a9c8ec" stroke-width="1.6"/>
<path d="M62.2,286.7 L73.3,286.39 L72.22,289.83 L71.15,293.26 Z" fill="#a9c8ec" stroke="none" stroke-width="1"/>
<polyline points="36.8,252.8 46,256.2 55.2,259.2 64.4,264 73.6,266 82.8,271 92,278 101.2,284.5 110.4,287 119.6,291.5 128.8,297.5 138,298.2 147.2,302.8 156.4,307 165.6,310.8 174.8,314.6 184,316.8 193.2,319.8 202.4,321.2" fill="none" stroke="#8ccaf6" stroke-width="0.9" stroke-linejoin="round"/>
<circle cx="36.8" cy="253.1" r="1.4" fill="#9dd0f8" stroke="none" stroke-width="0.5"/>
<circle cx="46" cy="256.5" r="1.4" fill="#9dd0f8" stroke="none" stroke-width="0.5"/>
<circle cx="55.2" cy="259.5" r="1.4" fill="#9dd0f8" stroke="none" stroke-width="0.5"/>
<circle cx="64.4" cy="264.3" r="1.4" fill="#9dd0f8" stroke="none" stroke-width="0.5"/>
<circle cx="73.6" cy="266.3" r="1.4" fill="#9dd0f8" stroke="none" stroke-width="0.5"/>
<circle cx="82.8" cy="271.3" r="1.4" fill="#9dd0f8" stroke="none" stroke-width="0.5"/>
<circle cx="92" cy="278.3" r="1.4" fill="#9dd0f8" stroke="none" stroke-width="0.5"/>
<circle cx="101.2" cy="284.8" r="1.4" fill="#9dd0f8" stroke="none" stroke-width="0.5"/>
<circle cx="110.4" cy="287.3" r="1.4" fill="#9dd0f8" stroke="none" stroke-width="0.5"/>
<circle cx="119.6" cy="291.8" r="1.4" fill="#9dd0f8" stroke="none" stroke-width="0.5"/>
<circle cx="128.8" cy="297.8" r="1.4" fill="#9dd0f8" stroke="none" stroke-width="0.5"/>
<circle cx="138" cy="298.5" r="1.4" fill="#9dd0f8" stroke="none" stroke-width="0.5"/>
<circle cx="147.2" cy="303.1" r="1.4" fill="#9dd0f8" stroke="none" stroke-width="0.5"/>
<circle cx="156.4" cy="307.3" r="1.4" fill="#9dd0f8" stroke="none" stroke-width="0.5"/>
<circle cx="165.6" cy="311.1" r="1.4" fill="#9dd0f8" stroke="none" stroke-width="0.5"/>
<circle cx="174.8" cy="314.9" r="1.4" fill="#9dd0f8" stroke="none" stroke-width="0.5"/>
<circle cx="184" cy="317.1" r="1.4" fill="#9dd0f8" stroke="none" stroke-width="0.5"/>
<circle cx="193.2" cy="320.1" r="1.4" fill="#9dd0f8" stroke="none" stroke-width="0.5"/>
<circle cx="202.4" cy="321.5" r="1.4" fill="#9dd0f8" stroke="none" stroke-width="0.5"/>
<polyline points="36.8,251.1 46,255.3 55.2,258.3 64.4,262.2 73.6,264.4 82.8,270.4 92,276.7 101.2,284 110.4,285.6 119.6,290.8 128.8,295.4 138,297.5 147.2,302.2 156.4,306.6 165.6,310.3 174.8,314.2 184,315.9 193.2,319.4 202.4,321.2" fill="none" stroke="#3288cc" stroke-width="1" stroke-linejoin="round"/>
<circle cx="36.8" cy="251.1" r="1.4" fill="#2474ba" stroke="none" stroke-width="0.5"/>
<circle cx="46" cy="255.3" r="1.4" fill="#2474ba" stroke="none" stroke-width="0.5"/>
<circle cx="55.2" cy="258.3" r="1.4" fill="#2474ba" stroke="none" stroke-width="0.5"/>
<circle cx="64.4" cy="262.2" r="1.4" fill="#2474ba" stroke="none" stroke-width="0.5"/>
<circle cx="73.6" cy="264.4" r="1.4" fill="#2474ba" stroke="none" stroke-width="0.5"/>
<circle cx="82.8" cy="270.4" r="1.4" fill="#2474ba" stroke="none" stroke-width="0.5"/>
<circle cx="92" cy="276.7" r="1.4" fill="#2474ba" stroke="none" stroke-width="0.5"/>
<circle cx="101.2" cy="284" r="1.4" fill="#2474ba" stroke="none" stroke-width="0.5"/>
<circle cx="110.4" cy="285.6" r="1.4" fill="#2474ba" stroke="none" stroke-width="0.5"/>
<circle cx="119.6" cy="290.8" r="1.4" fill="#2474ba" stroke="none" stroke-width="0.5"/>
<circle cx="128.8" cy="295.4" r="1.4" fill="#2474ba" stroke="none" stroke-width="0.5"/>
<circle cx="138" cy="297.5" r="1.4" fill="#2474ba" stroke="none" stroke-width="0.5"/>
<circle cx="147.2" cy="302.2" r="1.4" fill="#2474ba" stroke="none" stroke-width="0.5"/>
<circle cx="156.4" cy="306.6" r="1.4" fill="#2474ba" stroke="none" stroke-width="0.5"/>
<circle cx="165.6" cy="310.3" r="1.4" fill="#2474ba" stroke="none" stroke-width="0.5"/>
<circle cx="174.8" cy="314.2" r="1.4" fill="#2474ba" stroke="none" stroke-width="0.5"/>
<circle cx="184" cy="315.9" r="1.4" fill="#2474ba" stroke="none" stroke-width="0.5"/>
<circle cx="193.2" cy="319.4" r="1.4" fill="#2474ba" stroke="none" stroke-width="0.5"/>
<circle cx="202.4" cy="321.2" r="1.4" fill="#2474ba" stroke="none" stroke-width="0.5"/>
<line x1="159.9" y1="251.3" x2="180" y2="251.3" stroke="#3288cc" stroke-width="1"/>
<circle cx="170" cy="251.3" r="1.5" fill="#2474ba" stroke="none" stroke-width="0.5"/>
<line x1="159.9" y1="262.7" x2="180" y2="262.7" stroke="#8ccaf6" stroke-width="1"/>
<circle cx="170" cy="262.7" r="1.3" fill="#9dd0f8" stroke="none" stroke-width="0.5"/>
<text x="182.7" y="254.65" font-size="9.3" text-anchor="start" fill="#2a7fc2" font-weight="bold">heating</text>
<text x="182.7" y="266.05" font-size="9.3" text-anchor="start" fill="#a6d4fa" font-weight="bold">cooling</text>
<polyline points="51.04,342.5 55.17,439.5 59.31,346 63.45,439.5 67.59,348 71.72,440.2 75.86,348.3 80,440.2 84.14,349.2 88.28,440.2 92.41,350.9 96.55,440.8 100.69,351.5 104.83,441.3 108.96,351.8 113.1,441.3 117.24,352.1 121.38,441.8 125.51,352.3 129.65,441.8 133.79,352.3 137.93,441.8 142.06,352.7 146.2,442.3 150.34,353.2 154.47,442.3 158.61,354.4 162.75,442.3 166.89,355 171.03,442.3 175.16,355.3 179.3,442.9 183.44,355.8 187.58,443.7 191.71,356.2 195.85,443.7 199.99,356.2 204.12,443.7 208.26,356.5 212.4,444.7" fill="none" stroke="#7a7a7a" stroke-width="0.7" stroke-linejoin="round"/>
<circle cx="51.04" cy="342.5" r="1.9" fill="#6aaef0" stroke="none" stroke-width="0.5"/>
<circle cx="50.54" cy="341.9" r="0.7" fill="#ffffff" stroke="none" stroke-width="0.5" opacity="0.45"/>
<circle cx="55.17" cy="439.5" r="1.9" fill="#a8dcfa" stroke="none" stroke-width="0.5"/>
<circle cx="59.31" cy="346" r="1.9" fill="#6aaef0" stroke="none" stroke-width="0.5"/>
<circle cx="58.81" cy="345.4" r="0.7" fill="#ffffff" stroke="none" stroke-width="0.5" opacity="0.45"/>
<circle cx="63.45" cy="439.5" r="1.9" fill="#a8dcfa" stroke="none" stroke-width="0.5"/>
<circle cx="67.59" cy="348" r="1.9" fill="#6aaef0" stroke="none" stroke-width="0.5"/>
<circle cx="67.09" cy="347.4" r="0.7" fill="#ffffff" stroke="none" stroke-width="0.5" opacity="0.45"/>
<circle cx="71.72" cy="440.2" r="1.9" fill="#a8dcfa" stroke="none" stroke-width="0.5"/>
<circle cx="75.86" cy="348.3" r="1.9" fill="#6aaef0" stroke="none" stroke-width="0.5"/>
<circle cx="75.36" cy="347.7" r="0.7" fill="#ffffff" stroke="none" stroke-width="0.5" opacity="0.45"/>
<circle cx="80" cy="440.2" r="1.9" fill="#a8dcfa" stroke="none" stroke-width="0.5"/>
<circle cx="84.14" cy="349.2" r="1.9" fill="#6aaef0" stroke="none" stroke-width="0.5"/>
<circle cx="83.64" cy="348.6" r="0.7" fill="#ffffff" stroke="none" stroke-width="0.5" opacity="0.45"/>
<circle cx="88.28" cy="440.2" r="1.9" fill="#a8dcfa" stroke="none" stroke-width="0.5"/>
<circle cx="92.41" cy="350.9" r="1.9" fill="#6aaef0" stroke="none" stroke-width="0.5"/>
<circle cx="91.91" cy="350.3" r="0.7" fill="#ffffff" stroke="none" stroke-width="0.5" opacity="0.45"/>
<circle cx="96.55" cy="440.8" r="1.9" fill="#a8dcfa" stroke="none" stroke-width="0.5"/>
<circle cx="100.69" cy="351.5" r="1.9" fill="#6aaef0" stroke="none" stroke-width="0.5"/>
<circle cx="100.19" cy="350.9" r="0.7" fill="#ffffff" stroke="none" stroke-width="0.5" opacity="0.45"/>
<circle cx="104.83" cy="441.3" r="1.9" fill="#a8dcfa" stroke="none" stroke-width="0.5"/>
<circle cx="108.96" cy="351.8" r="1.9" fill="#6aaef0" stroke="none" stroke-width="0.5"/>
<circle cx="108.46" cy="351.2" r="0.7" fill="#ffffff" stroke="none" stroke-width="0.5" opacity="0.45"/>
<circle cx="113.1" cy="441.3" r="1.9" fill="#a8dcfa" stroke="none" stroke-width="0.5"/>
<circle cx="117.24" cy="352.1" r="1.9" fill="#6aaef0" stroke="none" stroke-width="0.5"/>
<circle cx="116.74" cy="351.5" r="0.7" fill="#ffffff" stroke="none" stroke-width="0.5" opacity="0.45"/>
<circle cx="121.38" cy="441.8" r="1.9" fill="#a8dcfa" stroke="none" stroke-width="0.5"/>
<circle cx="125.51" cy="352.3" r="1.9" fill="#6aaef0" stroke="none" stroke-width="0.5"/>
<circle cx="125.01" cy="351.7" r="0.7" fill="#ffffff" stroke="none" stroke-width="0.5" opacity="0.45"/>
<circle cx="129.65" cy="441.8" r="1.9" fill="#a8dcfa" stroke="none" stroke-width="0.5"/>
<circle cx="133.79" cy="352.3" r="1.9" fill="#6aaef0" stroke="none" stroke-width="0.5"/>
<circle cx="133.29" cy="351.7" r="0.7" fill="#ffffff" stroke="none" stroke-width="0.5" opacity="0.45"/>
<circle cx="137.93" cy="441.8" r="1.9" fill="#a8dcfa" stroke="none" stroke-width="0.5"/>
<circle cx="142.06" cy="352.7" r="1.9" fill="#6aaef0" stroke="none" stroke-width="0.5"/>
<circle cx="141.56" cy="352.1" r="0.7" fill="#ffffff" stroke="none" stroke-width="0.5" opacity="0.45"/>
<circle cx="146.2" cy="442.3" r="1.9" fill="#a8dcfa" stroke="none" stroke-width="0.5"/>
<circle cx="150.34" cy="353.2" r="1.9" fill="#6aaef0" stroke="none" stroke-width="0.5"/>
<circle cx="149.84" cy="352.6" r="0.7" fill="#ffffff" stroke="none" stroke-width="0.5" opacity="0.45"/>
<circle cx="154.47" cy="442.3" r="1.9" fill="#a8dcfa" stroke="none" stroke-width="0.5"/>
<circle cx="158.61" cy="354.4" r="1.9" fill="#6aaef0" stroke="none" stroke-width="0.5"/>
<circle cx="158.11" cy="353.8" r="0.7" fill="#ffffff" stroke="none" stroke-width="0.5" opacity="0.45"/>
<circle cx="162.75" cy="442.3" r="1.9" fill="#a8dcfa" stroke="none" stroke-width="0.5"/>
<circle cx="166.89" cy="355" r="1.9" fill="#6aaef0" stroke="none" stroke-width="0.5"/>
<circle cx="166.39" cy="354.4" r="0.7" fill="#ffffff" stroke="none" stroke-width="0.5" opacity="0.45"/>
<circle cx="171.03" cy="442.3" r="1.9" fill="#a8dcfa" stroke="none" stroke-width="0.5"/>
<circle cx="175.16" cy="355.3" r="1.9" fill="#6aaef0" stroke="none" stroke-width="0.5"/>
<circle cx="174.66" cy="354.7" r="0.7" fill="#ffffff" stroke="none" stroke-width="0.5" opacity="0.45"/>
<circle cx="179.3" cy="442.9" r="1.9" fill="#a8dcfa" stroke="none" stroke-width="0.5"/>
<circle cx="183.44" cy="355.8" r="1.9" fill="#6aaef0" stroke="none" stroke-width="0.5"/>
<circle cx="182.94" cy="355.2" r="0.7" fill="#ffffff" stroke="none" stroke-width="0.5" opacity="0.45"/>
<circle cx="187.58" cy="443.7" r="1.9" fill="#a8dcfa" stroke="none" stroke-width="0.5"/>
<circle cx="191.71" cy="356.2" r="1.9" fill="#6aaef0" stroke="none" stroke-width="0.5"/>
<circle cx="191.21" cy="355.6" r="0.7" fill="#ffffff" stroke="none" stroke-width="0.5" opacity="0.45"/>
<circle cx="195.85" cy="443.7" r="1.9" fill="#a8dcfa" stroke="none" stroke-width="0.5"/>
<circle cx="199.99" cy="356.2" r="1.9" fill="#6aaef0" stroke="none" stroke-width="0.5"/>
<circle cx="199.49" cy="355.6" r="0.7" fill="#ffffff" stroke="none" stroke-width="0.5" opacity="0.45"/>
<circle cx="204.12" cy="443.7" r="1.9" fill="#a8dcfa" stroke="none" stroke-width="0.5"/>
<circle cx="208.26" cy="356.5" r="1.9" fill="#6aaef0" stroke="none" stroke-width="0.5"/>
<circle cx="207.76" cy="355.9" r="0.7" fill="#ffffff" stroke="none" stroke-width="0.5" opacity="0.45"/>
<circle cx="212.4" cy="444.7" r="1.9" fill="#a8dcfa" stroke="none" stroke-width="0.5"/>
<text x="51.04" y="338.34" font-size="7.6" text-anchor="middle" fill="#7ab6ee">1</text>
<g transform="translate(207 352.19) scale(0.9 1)">
<text x="0" y="0" font-size="8.3" text-anchor="middle" fill="#7ab6ee">0.92</text>
</g>
<line x1="30.35" y1="453.6" x2="30.35" y2="455.6" stroke="#444" stroke-width="0.8"/>
<line x1="46.9" y1="453.6" x2="46.9" y2="455.6" stroke="#444" stroke-width="0.8"/>
<line x1="63.45" y1="453.6" x2="63.45" y2="455.6" stroke="#444" stroke-width="0.8"/>
<line x1="80" y1="453.6" x2="80" y2="455.6" stroke="#444" stroke-width="0.8"/>
<line x1="96.55" y1="453.6" x2="96.55" y2="455.6" stroke="#444" stroke-width="0.8"/>
<line x1="113.1" y1="453.6" x2="113.1" y2="455.6" stroke="#444" stroke-width="0.8"/>
<line x1="129.65" y1="453.6" x2="129.65" y2="455.6" stroke="#444" stroke-width="0.8"/>
<line x1="146.2" y1="453.6" x2="146.2" y2="455.6" stroke="#444" stroke-width="0.8"/>
<line x1="162.75" y1="453.6" x2="162.75" y2="455.6" stroke="#444" stroke-width="0.8"/>
<line x1="179.3" y1="453.6" x2="179.3" y2="455.6" stroke="#444" stroke-width="0.8"/>
<line x1="195.85" y1="453.6" x2="195.85" y2="455.6" stroke="#444" stroke-width="0.8"/>
<line x1="212.4" y1="453.6" x2="212.4" y2="455.6" stroke="#444" stroke-width="0.8"/>
<text x="46.9" y="464.88" font-size="8" text-anchor="middle" fill="#222">0</text>
<text x="80" y="464.88" font-size="8" text-anchor="middle" fill="#222">4</text>
<text x="113.1" y="464.88" font-size="8" text-anchor="middle" fill="#222">8</text>
<text x="146.2" y="464.88" font-size="8" text-anchor="middle" fill="#222">12</text>
<text x="179.3" y="464.88" font-size="8" text-anchor="middle" fill="#222">16</text>
<text x="212.4" y="464.88" font-size="8" text-anchor="middle" fill="#222">20</text>
<text x="120.7" y="477.4" font-size="12.6" text-anchor="middle" fill="#222">Cycle number</text>
<text x="30.65" y="346.2" font-size="8.6" text-anchor="middle" fill="#4a4a4a">20 &#176;<tspan dx="-0.5">C</tspan></text>
<text x="35.45" y="446.3" font-size="8.6" text-anchor="middle" fill="#4a4a4a">200 &#176;<tspan dx="-0.5">C</tspan></text>
<path d="M30.6,351 L37.7,351 L37.7,428.7 L41.2,428.7 L34.15,434.3 L27.1,428.7 L30.6,428.7 Z" fill="url(#grd)" stroke="none" stroke-width="1"/>
<rect x="27.1" y="428" width="14" height="6.5" fill="#f2603e" opacity="0"/>
<line x1="245.6" y1="243.3" x2="448.6" y2="243.3" stroke="#333" stroke-width="1"/>
<line x1="448.6" y1="243.3" x2="448.6" y2="453.6" stroke="#666" stroke-width="1.2"/>
<line x1="245.6" y1="242.8" x2="245.6" y2="454.2" stroke="#888" stroke-width="1.4"/>
<line x1="245.6" y1="331.8" x2="448.6" y2="331.8" stroke="#666" stroke-width="1.6"/>
<line x1="245.6" y1="453.6" x2="448.6" y2="453.6" stroke="#888" stroke-width="1.4"/>
<line x1="245.6" y1="243.3" x2="245.6" y2="245.5" stroke="#555" stroke-width="0.8"/>
<line x1="264" y1="243.3" x2="264" y2="245.5" stroke="#555" stroke-width="0.8"/>
<line x1="282.4" y1="243.3" x2="282.4" y2="245.5" stroke="#555" stroke-width="0.8"/>
<line x1="300.8" y1="243.3" x2="300.8" y2="245.5" stroke="#555" stroke-width="0.8"/>
<line x1="319.2" y1="243.3" x2="319.2" y2="245.5" stroke="#555" stroke-width="0.8"/>
<line x1="337.6" y1="243.3" x2="337.6" y2="245.5" stroke="#555" stroke-width="0.8"/>
<line x1="356" y1="243.3" x2="356" y2="245.5" stroke="#555" stroke-width="0.8"/>
<line x1="374.4" y1="243.3" x2="374.4" y2="245.5" stroke="#555" stroke-width="0.8"/>
<line x1="392.8" y1="243.3" x2="392.8" y2="245.5" stroke="#555" stroke-width="0.8"/>
<line x1="411.2" y1="243.3" x2="411.2" y2="245.5" stroke="#555" stroke-width="0.8"/>
<line x1="429.6" y1="243.3" x2="429.6" y2="245.5" stroke="#555" stroke-width="0.8"/>
<text x="245" y="238.84" font-size="7.9" text-anchor="middle" fill="#222">0</text>
<text x="281.8" y="238.84" font-size="7.9" text-anchor="middle" fill="#222">40</text>
<text x="318.6" y="238.84" font-size="7.9" text-anchor="middle" fill="#222">80</text>
<text x="355.4" y="238.84" font-size="7.9" text-anchor="middle" fill="#222">120</text>
<text x="392.2" y="238.84" font-size="7.9" text-anchor="middle" fill="#222">160</text>
<text x="429" y="238.84" font-size="7.9" text-anchor="middle" fill="#222">200</text>
<text x="344.35" y="223.8" font-size="11.75" text-anchor="middle" fill="#222">Temperature (&#176;<tspan dx="-0.4">C</tspan> )</text>
<text x="227.2" y="230.6" font-size="18" text-anchor="start" fill="#111">e</text>
<text x="239.3" y="336.3" font-size="12" text-anchor="middle" fill="#222" transform="rotate(-90 239.3 336.3)">PL intensity</text>
<line x1="354.3" y1="281.4" x2="399.59" y2="296.58" stroke="#7cc84a" stroke-width="1.6"/>
<path d="M408.6,299.6 L397.5,299.68 L398.64,296.26 L399.79,292.85 Z" fill="#7cc84a" stroke="none" stroke-width="1"/>
<line x1="364.8" y1="312.4" x2="315.48" y2="297.2" stroke="#a8e6a0" stroke-width="1.6"/>
<path d="M306.4,294.4 L317.49,294.05 L316.43,297.49 L315.37,300.93 Z" fill="#a8e6a0" stroke="none" stroke-width="1"/>
<polyline points="264,252.5 273.2,254.6 282.4,260.8 291.6,263.9 300.8,270 310,276.7 319.2,280.9 328.4,287 337.6,292.6 346.8,296.6 356,300.7 365.2,307.5 374.4,310.1 383.6,312.4 392.8,314.4 402,318.9 411.2,320.2 420.4,322.2 429.6,322.9" fill="none" stroke="#8ee0a8" stroke-width="0.9" stroke-linejoin="round"/>
<circle cx="264" cy="252.8" r="1.4" fill="#8ee0a0" stroke="none" stroke-width="0.5"/>
<circle cx="273.2" cy="254.9" r="1.4" fill="#8ee0a0" stroke="none" stroke-width="0.5"/>
<circle cx="282.4" cy="261.1" r="1.4" fill="#8ee0a0" stroke="none" stroke-width="0.5"/>
<circle cx="291.6" cy="264.2" r="1.4" fill="#8ee0a0" stroke="none" stroke-width="0.5"/>
<circle cx="300.8" cy="270.3" r="1.4" fill="#8ee0a0" stroke="none" stroke-width="0.5"/>
<circle cx="310" cy="277" r="1.4" fill="#8ee0a0" stroke="none" stroke-width="0.5"/>
<circle cx="319.2" cy="281.2" r="1.4" fill="#8ee0a0" stroke="none" stroke-width="0.5"/>
<circle cx="328.4" cy="287.3" r="1.4" fill="#8ee0a0" stroke="none" stroke-width="0.5"/>
<circle cx="337.6" cy="292.9" r="1.4" fill="#8ee0a0" stroke="none" stroke-width="0.5"/>
<circle cx="346.8" cy="296.9" r="1.4" fill="#8ee0a0" stroke="none" stroke-width="0.5"/>
<circle cx="356" cy="301" r="1.4" fill="#8ee0a0" stroke="none" stroke-width="0.5"/>
<circle cx="365.2" cy="307.8" r="1.4" fill="#8ee0a0" stroke="none" stroke-width="0.5"/>
<circle cx="374.4" cy="310.4" r="1.4" fill="#8ee0a0" stroke="none" stroke-width="0.5"/>
<circle cx="383.6" cy="312.7" r="1.4" fill="#8ee0a0" stroke="none" stroke-width="0.5"/>
<circle cx="392.8" cy="314.7" r="1.4" fill="#8ee0a0" stroke="none" stroke-width="0.5"/>
<circle cx="402" cy="319.2" r="1.4" fill="#8ee0a0" stroke="none" stroke-width="0.5"/>
<circle cx="411.2" cy="320.5" r="1.4" fill="#8ee0a0" stroke="none" stroke-width="0.5"/>
<circle cx="420.4" cy="322.5" r="1.4" fill="#8ee0a0" stroke="none" stroke-width="0.5"/>
<circle cx="429.6" cy="323.2" r="1.4" fill="#8ee0a0" stroke="none" stroke-width="0.5"/>
<polyline points="264,251 273.2,252.5 282.4,257.8 291.6,263.4 300.8,269.2 310,273 319.2,277.4 328.4,286.7 337.6,290.2 346.8,291 356,297 365.2,307.5 374.4,309.4 383.6,311.2 392.8,314.2 402,317.7 411.2,319.8 420.4,322 429.6,322.9" fill="none" stroke="#2e9a5a" stroke-width="1" stroke-linejoin="round"/>
<circle cx="264" cy="251" r="1.4" fill="#2e9a48" stroke="none" stroke-width="0.5"/>
<circle cx="273.2" cy="252.5" r="1.4" fill="#2e9a48" stroke="none" stroke-width="0.5"/>
<circle cx="282.4" cy="257.8" r="1.4" fill="#2e9a48" stroke="none" stroke-width="0.5"/>
<circle cx="291.6" cy="263.4" r="1.4" fill="#2e9a48" stroke="none" stroke-width="0.5"/>
<circle cx="300.8" cy="269.2" r="1.4" fill="#2e9a48" stroke="none" stroke-width="0.5"/>
<circle cx="310" cy="273" r="1.4" fill="#2e9a48" stroke="none" stroke-width="0.5"/>
<circle cx="319.2" cy="277.4" r="1.4" fill="#2e9a48" stroke="none" stroke-width="0.5"/>
<circle cx="328.4" cy="286.7" r="1.4" fill="#2e9a48" stroke="none" stroke-width="0.5"/>
<circle cx="337.6" cy="290.2" r="1.4" fill="#2e9a48" stroke="none" stroke-width="0.5"/>
<circle cx="346.8" cy="291" r="1.4" fill="#2e9a48" stroke="none" stroke-width="0.5"/>
<circle cx="356" cy="297" r="1.4" fill="#2e9a48" stroke="none" stroke-width="0.5"/>
<circle cx="365.2" cy="307.5" r="1.4" fill="#2e9a48" stroke="none" stroke-width="0.5"/>
<circle cx="374.4" cy="309.4" r="1.4" fill="#2e9a48" stroke="none" stroke-width="0.5"/>
<circle cx="383.6" cy="311.2" r="1.4" fill="#2e9a48" stroke="none" stroke-width="0.5"/>
<circle cx="392.8" cy="314.2" r="1.4" fill="#2e9a48" stroke="none" stroke-width="0.5"/>
<circle cx="402" cy="317.7" r="1.4" fill="#2e9a48" stroke="none" stroke-width="0.5"/>
<circle cx="411.2" cy="319.8" r="1.4" fill="#2e9a48" stroke="none" stroke-width="0.5"/>
<circle cx="420.4" cy="322" r="1.4" fill="#2e9a48" stroke="none" stroke-width="0.5"/>
<circle cx="429.6" cy="322.9" r="1.4" fill="#2e9a48" stroke="none" stroke-width="0.5"/>
<line x1="387.1" y1="251.3" x2="407.2" y2="251.3" stroke="#2e9a5a" stroke-width="1"/>
<circle cx="397.2" cy="251.3" r="1.5" fill="#2e9a48" stroke="none" stroke-width="0.5"/>
<line x1="387.1" y1="262.7" x2="407.2" y2="262.7" stroke="#8ee0a8" stroke-width="1"/>
<circle cx="397.2" cy="262.7" r="1.3" fill="#8ee0a0" stroke="none" stroke-width="0.5"/>
<text x="409.9" y="254.65" font-size="9.3" text-anchor="start" fill="#6cc048" font-weight="bold">heating</text>
<text x="409.9" y="266.05" font-size="9.3" text-anchor="start" fill="#a6e6b8" font-weight="bold">cooling</text>
<polyline points="278.24,342.1 282.38,443.2 286.51,342.1 290.65,443.2 294.79,342.1 298.93,443.2 303.06,342.6 307.2,443.2 311.34,342.6 315.48,443.2 319.61,343.4 323.75,443.2 327.89,344.7 332.03,443.2 336.16,345.2 340.3,443.2 344.44,346 348.58,443.2 352.71,346.3 356.85,443.2 360.99,346.8 365.12,443.2 369.26,347.1 373.4,443.2 377.54,347.6 381.68,443.2 385.81,348.7 389.95,443.2 394.09,348.9 398.23,443.2 402.36,348.9 406.5,443.2 410.64,349.7 414.78,443.2 418.91,350.5 423.05,443.2 427.19,351 431.33,443.2 435.46,352.3 439.6,443.2" fill="none" stroke="#7a7a7a" stroke-width="0.7" stroke-linejoin="round"/>
<circle cx="278.24" cy="342.1" r="1.9" fill="#20b820" stroke="none" stroke-width="0.5"/>
<circle cx="277.74" cy="341.5" r="0.7" fill="#ffffff" stroke="none" stroke-width="0.5" opacity="0.45"/>
<circle cx="282.38" cy="443.2" r="1.9" fill="#c4f0b8" stroke="none" stroke-width="0.5"/>
<circle cx="286.51" cy="342.1" r="1.9" fill="#20b820" stroke="none" stroke-width="0.5"/>
<circle cx="286.01" cy="341.5" r="0.7" fill="#ffffff" stroke="none" stroke-width="0.5" opacity="0.45"/>
<circle cx="290.65" cy="443.2" r="1.9" fill="#c4f0b8" stroke="none" stroke-width="0.5"/>
<circle cx="294.79" cy="342.1" r="1.9" fill="#20b820" stroke="none" stroke-width="0.5"/>
<circle cx="294.29" cy="341.5" r="0.7" fill="#ffffff" stroke="none" stroke-width="0.5" opacity="0.45"/>
<circle cx="298.93" cy="443.2" r="1.9" fill="#c4f0b8" stroke="none" stroke-width="0.5"/>
<circle cx="303.06" cy="342.6" r="1.9" fill="#20b820" stroke="none" stroke-width="0.5"/>
<circle cx="302.56" cy="342" r="0.7" fill="#ffffff" stroke="none" stroke-width="0.5" opacity="0.45"/>
<circle cx="307.2" cy="443.2" r="1.9" fill="#c4f0b8" stroke="none" stroke-width="0.5"/>
<circle cx="311.34" cy="342.6" r="1.9" fill="#20b820" stroke="none" stroke-width="0.5"/>
<circle cx="310.84" cy="342" r="0.7" fill="#ffffff" stroke="none" stroke-width="0.5" opacity="0.45"/>
<circle cx="315.48" cy="443.2" r="1.9" fill="#c4f0b8" stroke="none" stroke-width="0.5"/>
<circle cx="319.61" cy="343.4" r="1.9" fill="#20b820" stroke="none" stroke-width="0.5"/>
<circle cx="319.11" cy="342.8" r="0.7" fill="#ffffff" stroke="none" stroke-width="0.5" opacity="0.45"/>
<circle cx="323.75" cy="443.2" r="1.9" fill="#c4f0b8" stroke="none" stroke-width="0.5"/>
<circle cx="327.89" cy="344.7" r="1.9" fill="#20b820" stroke="none" stroke-width="0.5"/>
<circle cx="327.39" cy="344.1" r="0.7" fill="#ffffff" stroke="none" stroke-width="0.5" opacity="0.45"/>
<circle cx="332.03" cy="443.2" r="1.9" fill="#c4f0b8" stroke="none" stroke-width="0.5"/>
<circle cx="336.16" cy="345.2" r="1.9" fill="#20b820" stroke="none" stroke-width="0.5"/>
<circle cx="335.66" cy="344.6" r="0.7" fill="#ffffff" stroke="none" stroke-width="0.5" opacity="0.45"/>
<circle cx="340.3" cy="443.2" r="1.9" fill="#c4f0b8" stroke="none" stroke-width="0.5"/>
<circle cx="344.44" cy="346" r="1.9" fill="#20b820" stroke="none" stroke-width="0.5"/>
<circle cx="343.94" cy="345.4" r="0.7" fill="#ffffff" stroke="none" stroke-width="0.5" opacity="0.45"/>
<circle cx="348.58" cy="443.2" r="1.9" fill="#c4f0b8" stroke="none" stroke-width="0.5"/>
<circle cx="352.71" cy="346.3" r="1.9" fill="#20b820" stroke="none" stroke-width="0.5"/>
<circle cx="352.21" cy="345.7" r="0.7" fill="#ffffff" stroke="none" stroke-width="0.5" opacity="0.45"/>
<circle cx="356.85" cy="443.2" r="1.9" fill="#c4f0b8" stroke="none" stroke-width="0.5"/>
<circle cx="360.99" cy="346.8" r="1.9" fill="#20b820" stroke="none" stroke-width="0.5"/>
<circle cx="360.49" cy="346.2" r="0.7" fill="#ffffff" stroke="none" stroke-width="0.5" opacity="0.45"/>
<circle cx="365.12" cy="443.2" r="1.9" fill="#c4f0b8" stroke="none" stroke-width="0.5"/>
<circle cx="369.26" cy="347.1" r="1.9" fill="#20b820" stroke="none" stroke-width="0.5"/>
<circle cx="368.76" cy="346.5" r="0.7" fill="#ffffff" stroke="none" stroke-width="0.5" opacity="0.45"/>
<circle cx="373.4" cy="443.2" r="1.9" fill="#c4f0b8" stroke="none" stroke-width="0.5"/>
<circle cx="377.54" cy="347.6" r="1.9" fill="#20b820" stroke="none" stroke-width="0.5"/>
<circle cx="377.04" cy="347" r="0.7" fill="#ffffff" stroke="none" stroke-width="0.5" opacity="0.45"/>
<circle cx="381.68" cy="443.2" r="1.9" fill="#c4f0b8" stroke="none" stroke-width="0.5"/>
<circle cx="385.81" cy="348.7" r="1.9" fill="#20b820" stroke="none" stroke-width="0.5"/>
<circle cx="385.31" cy="348.1" r="0.7" fill="#ffffff" stroke="none" stroke-width="0.5" opacity="0.45"/>
<circle cx="389.95" cy="443.2" r="1.9" fill="#c4f0b8" stroke="none" stroke-width="0.5"/>
<circle cx="394.09" cy="348.9" r="1.9" fill="#20b820" stroke="none" stroke-width="0.5"/>
<circle cx="393.59" cy="348.3" r="0.7" fill="#ffffff" stroke="none" stroke-width="0.5" opacity="0.45"/>
<circle cx="398.23" cy="443.2" r="1.9" fill="#c4f0b8" stroke="none" stroke-width="0.5"/>
<circle cx="402.36" cy="348.9" r="1.9" fill="#20b820" stroke="none" stroke-width="0.5"/>
<circle cx="401.86" cy="348.3" r="0.7" fill="#ffffff" stroke="none" stroke-width="0.5" opacity="0.45"/>
<circle cx="406.5" cy="443.2" r="1.9" fill="#c4f0b8" stroke="none" stroke-width="0.5"/>
<circle cx="410.64" cy="349.7" r="1.9" fill="#20b820" stroke="none" stroke-width="0.5"/>
<circle cx="410.14" cy="349.1" r="0.7" fill="#ffffff" stroke="none" stroke-width="0.5" opacity="0.45"/>
<circle cx="414.78" cy="443.2" r="1.9" fill="#c4f0b8" stroke="none" stroke-width="0.5"/>
<circle cx="418.91" cy="350.5" r="1.9" fill="#20b820" stroke="none" stroke-width="0.5"/>
<circle cx="418.41" cy="349.9" r="0.7" fill="#ffffff" stroke="none" stroke-width="0.5" opacity="0.45"/>
<circle cx="423.05" cy="443.2" r="1.9" fill="#c4f0b8" stroke="none" stroke-width="0.5"/>
<circle cx="427.19" cy="351" r="1.9" fill="#20b820" stroke="none" stroke-width="0.5"/>
<circle cx="426.69" cy="350.4" r="0.7" fill="#ffffff" stroke="none" stroke-width="0.5" opacity="0.45"/>
<circle cx="431.33" cy="443.2" r="1.9" fill="#c4f0b8" stroke="none" stroke-width="0.5"/>
<circle cx="435.46" cy="352.3" r="1.9" fill="#20b820" stroke="none" stroke-width="0.5"/>
<circle cx="434.96" cy="351.7" r="0.7" fill="#ffffff" stroke="none" stroke-width="0.5" opacity="0.45"/>
<circle cx="439.6" cy="443.2" r="1.9" fill="#c4f0b8" stroke="none" stroke-width="0.5"/>
<text x="278.24" y="338.34" font-size="7.6" text-anchor="middle" fill="#2e9a30">1</text>
<g transform="translate(437 348.69) scale(0.9 1)">
<text x="0" y="0" font-size="8.3" text-anchor="middle" fill="#2e9a30">0.90</text>
</g>
<line x1="257.55" y1="453.6" x2="257.55" y2="455.6" stroke="#444" stroke-width="0.8"/>
<line x1="274.1" y1="453.6" x2="274.1" y2="455.6" stroke="#444" stroke-width="0.8"/>
<line x1="290.65" y1="453.6" x2="290.65" y2="455.6" stroke="#444" stroke-width="0.8"/>
<line x1="307.2" y1="453.6" x2="307.2" y2="455.6" stroke="#444" stroke-width="0.8"/>
<line x1="323.75" y1="453.6" x2="323.75" y2="455.6" stroke="#444" stroke-width="0.8"/>
<line x1="340.3" y1="453.6" x2="340.3" y2="455.6" stroke="#444" stroke-width="0.8"/>
<line x1="356.85" y1="453.6" x2="356.85" y2="455.6" stroke="#444" stroke-width="0.8"/>
<line x1="373.4" y1="453.6" x2="373.4" y2="455.6" stroke="#444" stroke-width="0.8"/>
<line x1="389.95" y1="453.6" x2="389.95" y2="455.6" stroke="#444" stroke-width="0.8"/>
<line x1="406.5" y1="453.6" x2="406.5" y2="455.6" stroke="#444" stroke-width="0.8"/>
<line x1="423.05" y1="453.6" x2="423.05" y2="455.6" stroke="#444" stroke-width="0.8"/>
<line x1="439.6" y1="453.6" x2="439.6" y2="455.6" stroke="#444" stroke-width="0.8"/>
<text x="274.1" y="464.88" font-size="8" text-anchor="middle" fill="#222">0</text>
<text x="307.2" y="464.88" font-size="8" text-anchor="middle" fill="#222">4</text>
<text x="340.3" y="464.88" font-size="8" text-anchor="middle" fill="#222">8</text>
<text x="373.4" y="464.88" font-size="8" text-anchor="middle" fill="#222">12</text>
<text x="406.5" y="464.88" font-size="8" text-anchor="middle" fill="#222">16</text>
<text x="439.6" y="464.88" font-size="8" text-anchor="middle" fill="#222">20</text>
<text x="347.9" y="477.4" font-size="12.6" text-anchor="middle" fill="#222">Cycle number</text>
<text x="258.25" y="346.2" font-size="8.6" text-anchor="middle" fill="#4a4a4a">20 &#176;<tspan dx="-0.5">C</tspan></text>
<text x="261.35" y="446.3" font-size="8.6" text-anchor="middle" fill="#4a4a4a">200 &#176;<tspan dx="-0.5">C</tspan></text>
<path d="M253.9,351 L261,351 L261,428.7 L264.5,428.7 L257.45,434.3 L250.4,428.7 L253.9,428.7 Z" fill="url(#gre)" stroke="none" stroke-width="1"/>
<rect x="250.4" y="428" width="14" height="6.5" fill="#f2603e" opacity="0"/>
<line x1="472.9" y1="243.3" x2="675.5" y2="243.3" stroke="#333" stroke-width="1"/>
<line x1="675.5" y1="243.3" x2="675.5" y2="453.6" stroke="#666" stroke-width="1.2"/>
<line x1="472.9" y1="242.8" x2="472.9" y2="454.2" stroke="#888" stroke-width="1.4"/>
<line x1="472.9" y1="331.8" x2="675.5" y2="331.8" stroke="#666" stroke-width="1.6"/>
<line x1="472.9" y1="453.6" x2="675.5" y2="453.6" stroke="#888" stroke-width="1.4"/>
<line x1="472.9" y1="243.3" x2="472.9" y2="245.5" stroke="#555" stroke-width="0.8"/>
<line x1="491.3" y1="243.3" x2="491.3" y2="245.5" stroke="#555" stroke-width="0.8"/>
<line x1="509.7" y1="243.3" x2="509.7" y2="245.5" stroke="#555" stroke-width="0.8"/>
<line x1="528.1" y1="243.3" x2="528.1" y2="245.5" stroke="#555" stroke-width="0.8"/>
<line x1="546.5" y1="243.3" x2="546.5" y2="245.5" stroke="#555" stroke-width="0.8"/>
<line x1="564.9" y1="243.3" x2="564.9" y2="245.5" stroke="#555" stroke-width="0.8"/>
<line x1="583.3" y1="243.3" x2="583.3" y2="245.5" stroke="#555" stroke-width="0.8"/>
<line x1="601.7" y1="243.3" x2="601.7" y2="245.5" stroke="#555" stroke-width="0.8"/>
<line x1="620.1" y1="243.3" x2="620.1" y2="245.5" stroke="#555" stroke-width="0.8"/>
<line x1="638.5" y1="243.3" x2="638.5" y2="245.5" stroke="#555" stroke-width="0.8"/>
<line x1="656.9" y1="243.3" x2="656.9" y2="245.5" stroke="#555" stroke-width="0.8"/>
<text x="472.3" y="238.84" font-size="7.9" text-anchor="middle" fill="#222">0</text>
<text x="509.1" y="238.84" font-size="7.9" text-anchor="middle" fill="#222">40</text>
<text x="545.9" y="238.84" font-size="7.9" text-anchor="middle" fill="#222">80</text>
<text x="582.7" y="238.84" font-size="7.9" text-anchor="middle" fill="#222">120</text>
<text x="619.5" y="238.84" font-size="7.9" text-anchor="middle" fill="#222">160</text>
<text x="656.3" y="238.84" font-size="7.9" text-anchor="middle" fill="#222">200</text>
<text x="572.25" y="223.8" font-size="11.75" text-anchor="middle" fill="#222">Temperature (&#176;<tspan dx="-0.4">C</tspan> )</text>
<text x="456.3" y="230.6" font-size="18" text-anchor="start" fill="#111">f</text>
<text x="467" y="333.25" font-size="12" text-anchor="middle" fill="#222" transform="rotate(-90 467 333.25)">PL intensity</text>
<line x1="576.4" y1="275" x2="642.69" y2="288.33" stroke="#f08088" stroke-width="1.6"/>
<path d="M652,290.2 L641,291.66 L641.71,288.13 L642.42,284.6 Z" fill="#f08088" stroke="none" stroke-width="1"/>
<line x1="602.7" y1="302.9" x2="553.31" y2="292.8" stroke="#f8b8ac" stroke-width="1.6"/>
<path d="M544,290.9 L555.01,289.48 L554.29,293 L553.57,296.53 Z" fill="#f8b8ac" stroke="none" stroke-width="1"/>
<polyline points="491.3,255.7 500.5,260.9 509.7,266.2 518.9,269.5 528.1,270.9 537.3,273.9 546.5,278.5 555.7,280.6 564.9,282.3 574.1,286.2 583.3,289.6 592.5,293.6 601.7,297.7 610.9,302.7 620.1,307.1 629.3,309.9 638.5,311.2 647.7,313.3 656.9,318.7" fill="none" stroke="#f9c0c0" stroke-width="0.9" stroke-linejoin="round"/>
<circle cx="491.3" cy="256" r="1.2" fill="#fde0e0" stroke="#f6b4b4" stroke-width="0.6"/>
<circle cx="500.5" cy="261.2" r="1.2" fill="#fde0e0" stroke="#f6b4b4" stroke-width="0.6"/>
<circle cx="509.7" cy="266.5" r="1.2" fill="#fde0e0" stroke="#f6b4b4" stroke-width="0.6"/>
<circle cx="518.9" cy="269.8" r="1.2" fill="#fde0e0" stroke="#f6b4b4" stroke-width="0.6"/>
<circle cx="528.1" cy="271.2" r="1.2" fill="#fde0e0" stroke="#f6b4b4" stroke-width="0.6"/>
<circle cx="537.3" cy="274.2" r="1.2" fill="#fde0e0" stroke="#f6b4b4" stroke-width="0.6"/>
<circle cx="546.5" cy="278.8" r="1.2" fill="#fde0e0" stroke="#f6b4b4" stroke-width="0.6"/>
<circle cx="555.7" cy="280.9" r="1.2" fill="#fde0e0" stroke="#f6b4b4" stroke-width="0.6"/>
<circle cx="564.9" cy="282.6" r="1.2" fill="#fde0e0" stroke="#f6b4b4" stroke-width="0.6"/>
<circle cx="574.1" cy="286.5" r="1.2" fill="#fde0e0" stroke="#f6b4b4" stroke-width="0.6"/>
<circle cx="583.3" cy="289.9" r="1.2" fill="#fde0e0" stroke="#f6b4b4" stroke-width="0.6"/>
<circle cx="592.5" cy="293.9" r="1.2" fill="#fde0e0" stroke="#f6b4b4" stroke-width="0.6"/>
<circle cx="601.7" cy="298" r="1.2" fill="#fde0e0" stroke="#f6b4b4" stroke-width="0.6"/>
<circle cx="610.9" cy="303" r="1.2" fill="#fde0e0" stroke="#f6b4b4" stroke-width="0.6"/>
<circle cx="620.1" cy="307.4" r="1.2" fill="#fde0e0" stroke="#f6b4b4" stroke-width="0.6"/>
<circle cx="629.3" cy="310.2" r="1.2" fill="#fde0e0" stroke="#f6b4b4" stroke-width="0.6"/>
<circle cx="638.5" cy="311.5" r="1.2" fill="#fde0e0" stroke="#f6b4b4" stroke-width="0.6"/>
<circle cx="647.7" cy="313.6" r="1.2" fill="#fde0e0" stroke="#f6b4b4" stroke-width="0.6"/>
<circle cx="656.9" cy="319" r="1.2" fill="#fde0e0" stroke="#f6b4b4" stroke-width="0.6"/>
<polyline points="491.3,253.9 500.5,257.3 509.7,262.5 518.9,266.9 528.1,269.5 537.3,272.7 546.5,275.7 555.7,277.9 564.9,281.4 574.1,282.3 583.3,285.2 592.5,287.9 601.7,291.5 610.9,293.6 620.1,297.7 629.3,302 638.5,304.5 647.7,307.1 656.9,318.7" fill="none" stroke="#f08890" stroke-width="1" stroke-linejoin="round"/>
<circle cx="491.3" cy="253.9" r="1.3" fill="#fbd0d4" stroke="#ee8490" stroke-width="0.7"/>
<circle cx="500.5" cy="257.3" r="1.3" fill="#fbd0d4" stroke="#ee8490" stroke-width="0.7"/>
<circle cx="509.7" cy="262.5" r="1.3" fill="#fbd0d4" stroke="#ee8490" stroke-width="0.7"/>
<circle cx="518.9" cy="266.9" r="1.3" fill="#fbd0d4" stroke="#ee8490" stroke-width="0.7"/>
<circle cx="528.1" cy="269.5" r="1.3" fill="#fbd0d4" stroke="#ee8490" stroke-width="0.7"/>
<circle cx="537.3" cy="272.7" r="1.3" fill="#fbd0d4" stroke="#ee8490" stroke-width="0.7"/>
<circle cx="546.5" cy="275.7" r="1.3" fill="#fbd0d4" stroke="#ee8490" stroke-width="0.7"/>
<circle cx="555.7" cy="277.9" r="1.3" fill="#fbd0d4" stroke="#ee8490" stroke-width="0.7"/>
<circle cx="564.9" cy="281.4" r="1.3" fill="#fbd0d4" stroke="#ee8490" stroke-width="0.7"/>
<circle cx="574.1" cy="282.3" r="1.3" fill="#fbd0d4" stroke="#ee8490" stroke-width="0.7"/>
<circle cx="583.3" cy="285.2" r="1.3" fill="#fbd0d4" stroke="#ee8490" stroke-width="0.7"/>
<circle cx="592.5" cy="287.9" r="1.3" fill="#fbd0d4" stroke="#ee8490" stroke-width="0.7"/>
<circle cx="601.7" cy="291.5" r="1.3" fill="#fbd0d4" stroke="#ee8490" stroke-width="0.7"/>
<circle cx="610.9" cy="293.6" r="1.3" fill="#fbd0d4" stroke="#ee8490" stroke-width="0.7"/>
<circle cx="620.1" cy="297.7" r="1.3" fill="#fbd0d4" stroke="#ee8490" stroke-width="0.7"/>
<circle cx="629.3" cy="302" r="1.3" fill="#fbd0d4" stroke="#ee8490" stroke-width="0.7"/>
<circle cx="638.5" cy="304.5" r="1.3" fill="#fbd0d4" stroke="#ee8490" stroke-width="0.7"/>
<circle cx="647.7" cy="307.1" r="1.3" fill="#fbd0d4" stroke="#ee8490" stroke-width="0.7"/>
<circle cx="656.9" cy="318.7" r="1.3" fill="#fbd0d4" stroke="#ee8490" stroke-width="0.7"/>
<line x1="614.4" y1="251.3" x2="634.5" y2="251.3" stroke="#f08890" stroke-width="1"/>
<circle cx="624.5" cy="251.3" r="1.5" fill="#ee8490" stroke="none" stroke-width="0.5"/>
<line x1="614.4" y1="262.7" x2="634.5" y2="262.7" stroke="#f9c0c0" stroke-width="1"/>
<circle cx="624.5" cy="262.7" r="1.3" fill="#f6b4b4" stroke="none" stroke-width="0.5"/>
<text x="637.2" y="254.65" font-size="9.3" text-anchor="start" fill="#ec7884" font-weight="bold">heatling</text>
<text x="637.2" y="266.05" font-size="9.3" text-anchor="start" fill="#f9c8c8" font-weight="bold">cooling</text>
<polyline points="505.54,342.2 509.67,443 513.81,342.8 517.95,443 522.09,342.9 526.23,443 530.36,343.3 534.5,443 538.64,343.6 542.77,443 546.91,344.2 551.05,443 555.19,344.5 559.32,443 563.46,344.5 567.6,443 571.74,345 575.88,443 580.01,345.4 584.15,443 588.29,345.4 592.42,443 596.56,345.6 600.7,443 604.84,346.6 608.98,443 613.11,346.6 617.25,443 621.39,346.8 625.52,443 629.66,347.7 633.8,443 637.94,348 642.08,443 646.21,348 650.35,443 654.49,348.5 658.62,443 662.76,349.4 666.9,443" fill="none" stroke="#7a7a7a" stroke-width="0.7" stroke-linejoin="round"/>
<circle cx="505.54" cy="342.2" r="1.9" fill="#f0a0c8" stroke="none" stroke-width="0.5"/>
<circle cx="505.04" cy="341.6" r="0.7" fill="#ffffff" stroke="none" stroke-width="0.5" opacity="0.45"/>
<circle cx="509.67" cy="443" r="1.9" fill="#f8c8e0" stroke="none" stroke-width="0.5"/>
<circle cx="513.81" cy="342.8" r="1.9" fill="#f0a0c8" stroke="none" stroke-width="0.5"/>
<circle cx="513.31" cy="342.2" r="0.7" fill="#ffffff" stroke="none" stroke-width="0.5" opacity="0.45"/>
<circle cx="517.95" cy="443" r="1.9" fill="#f8c8e0" stroke="none" stroke-width="0.5"/>
<circle cx="522.09" cy="342.9" r="1.9" fill="#f0a0c8" stroke="none" stroke-width="0.5"/>
<circle cx="521.59" cy="342.3" r="0.7" fill="#ffffff" stroke="none" stroke-width="0.5" opacity="0.45"/>
<circle cx="526.23" cy="443" r="1.9" fill="#f8c8e0" stroke="none" stroke-width="0.5"/>
<circle cx="530.36" cy="343.3" r="1.9" fill="#f0a0c8" stroke="none" stroke-width="0.5"/>
<circle cx="529.86" cy="342.7" r="0.7" fill="#ffffff" stroke="none" stroke-width="0.5" opacity="0.45"/>
<circle cx="534.5" cy="443" r="1.9" fill="#f8c8e0" stroke="none" stroke-width="0.5"/>
<circle cx="538.64" cy="343.6" r="1.9" fill="#f0a0c8" stroke="none" stroke-width="0.5"/>
<circle cx="538.14" cy="343" r="0.7" fill="#ffffff" stroke="none" stroke-width="0.5" opacity="0.45"/>
<circle cx="542.77" cy="443" r="1.9" fill="#f8c8e0" stroke="none" stroke-width="0.5"/>
<circle cx="546.91" cy="344.2" r="1.9" fill="#f0a0c8" stroke="none" stroke-width="0.5"/>
<circle cx="546.41" cy="343.6" r="0.7" fill="#ffffff" stroke="none" stroke-width="0.5" opacity="0.45"/>
<circle cx="551.05" cy="443" r="1.9" fill="#f8c8e0" stroke="none" stroke-width="0.5"/>
<circle cx="555.19" cy="344.5" r="1.9" fill="#f0a0c8" stroke="none" stroke-width="0.5"/>
<circle cx="554.69" cy="343.9" r="0.7" fill="#ffffff" stroke="none" stroke-width="0.5" opacity="0.45"/>
<circle cx="559.32" cy="443" r="1.9" fill="#f8c8e0" stroke="none" stroke-width="0.5"/>
<circle cx="563.46" cy="344.5" r="1.9" fill="#f0a0c8" stroke="none" stroke-width="0.5"/>
<circle cx="562.96" cy="343.9" r="0.7" fill="#ffffff" stroke="none" stroke-width="0.5" opacity="0.45"/>
<circle cx="567.6" cy="443" r="1.9" fill="#f8c8e0" stroke="none" stroke-width="0.5"/>
<circle cx="571.74" cy="345" r="1.9" fill="#f0a0c8" stroke="none" stroke-width="0.5"/>
<circle cx="571.24" cy="344.4" r="0.7" fill="#ffffff" stroke="none" stroke-width="0.5" opacity="0.45"/>
<circle cx="575.88" cy="443" r="1.9" fill="#f8c8e0" stroke="none" stroke-width="0.5"/>
<circle cx="580.01" cy="345.4" r="1.9" fill="#f0a0c8" stroke="none" stroke-width="0.5"/>
<circle cx="579.51" cy="344.8" r="0.7" fill="#ffffff" stroke="none" stroke-width="0.5" opacity="0.45"/>
<circle cx="584.15" cy="443" r="1.9" fill="#f8c8e0" stroke="none" stroke-width="0.5"/>
<circle cx="588.29" cy="345.4" r="1.9" fill="#f0a0c8" stroke="none" stroke-width="0.5"/>
<circle cx="587.79" cy="344.8" r="0.7" fill="#ffffff" stroke="none" stroke-width="0.5" opacity="0.45"/>
<circle cx="592.42" cy="443" r="1.9" fill="#f8c8e0" stroke="none" stroke-width="0.5"/>
<circle cx="596.56" cy="345.6" r="1.9" fill="#f0a0c8" stroke="none" stroke-width="0.5"/>
<circle cx="596.06" cy="345" r="0.7" fill="#ffffff" stroke="none" stroke-width="0.5" opacity="0.45"/>
<circle cx="600.7" cy="443" r="1.9" fill="#f8c8e0" stroke="none" stroke-width="0.5"/>
<circle cx="604.84" cy="346.6" r="1.9" fill="#f0a0c8" stroke="none" stroke-width="0.5"/>
<circle cx="604.34" cy="346" r="0.7" fill="#ffffff" stroke="none" stroke-width="0.5" opacity="0.45"/>
<circle cx="608.98" cy="443" r="1.9" fill="#f8c8e0" stroke="none" stroke-width="0.5"/>
<circle cx="613.11" cy="346.6" r="1.9" fill="#f0a0c8" stroke="none" stroke-width="0.5"/>
<circle cx="612.61" cy="346" r="0.7" fill="#ffffff" stroke="none" stroke-width="0.5" opacity="0.45"/>
<circle cx="617.25" cy="443" r="1.9" fill="#f8c8e0" stroke="none" stroke-width="0.5"/>
<circle cx="621.39" cy="346.8" r="1.9" fill="#f0a0c8" stroke="none" stroke-width="0.5"/>
<circle cx="620.89" cy="346.2" r="0.7" fill="#ffffff" stroke="none" stroke-width="0.5" opacity="0.45"/>
<circle cx="625.52" cy="443" r="1.9" fill="#f8c8e0" stroke="none" stroke-width="0.5"/>
<circle cx="629.66" cy="347.7" r="1.9" fill="#f0a0c8" stroke="none" stroke-width="0.5"/>
<circle cx="629.16" cy="347.1" r="0.7" fill="#ffffff" stroke="none" stroke-width="0.5" opacity="0.45"/>
<circle cx="633.8" cy="443" r="1.9" fill="#f8c8e0" stroke="none" stroke-width="0.5"/>
<circle cx="637.94" cy="348" r="1.9" fill="#f0a0c8" stroke="none" stroke-width="0.5"/>
<circle cx="637.44" cy="347.4" r="0.7" fill="#ffffff" stroke="none" stroke-width="0.5" opacity="0.45"/>
<circle cx="642.08" cy="443" r="1.9" fill="#f8c8e0" stroke="none" stroke-width="0.5"/>
<circle cx="646.21" cy="348" r="1.9" fill="#f0a0c8" stroke="none" stroke-width="0.5"/>
<circle cx="645.71" cy="347.4" r="0.7" fill="#ffffff" stroke="none" stroke-width="0.5" opacity="0.45"/>
<circle cx="650.35" cy="443" r="1.9" fill="#f8c8e0" stroke="none" stroke-width="0.5"/>
<circle cx="654.49" cy="348.5" r="1.9" fill="#f0a0c8" stroke="none" stroke-width="0.5"/>
<circle cx="653.99" cy="347.9" r="0.7" fill="#ffffff" stroke="none" stroke-width="0.5" opacity="0.45"/>
<circle cx="658.62" cy="443" r="1.9" fill="#f8c8e0" stroke="none" stroke-width="0.5"/>
<circle cx="662.76" cy="349.4" r="1.9" fill="#f0a0c8" stroke="none" stroke-width="0.5"/>
<circle cx="662.26" cy="348.8" r="0.7" fill="#ffffff" stroke="none" stroke-width="0.5" opacity="0.45"/>
<circle cx="666.9" cy="443" r="1.9" fill="#f8c8e0" stroke="none" stroke-width="0.5"/>
<text x="505.54" y="338.34" font-size="7.6" text-anchor="middle" fill="#f4a0d0">1</text>
<g transform="translate(664.8 343.99) scale(0.9 1)">
<text x="0" y="0" font-size="8.3" text-anchor="middle" fill="#f4a0d0">0.94</text>
</g>
<line x1="484.85" y1="453.6" x2="484.85" y2="455.6" stroke="#444" stroke-width="0.8"/>
<line x1="501.4" y1="453.6" x2="501.4" y2="455.6" stroke="#444" stroke-width="0.8"/>
<line x1="517.95" y1="453.6" x2="517.95" y2="455.6" stroke="#444" stroke-width="0.8"/>
<line x1="534.5" y1="453.6" x2="534.5" y2="455.6" stroke="#444" stroke-width="0.8"/>
<line x1="551.05" y1="453.6" x2="551.05" y2="455.6" stroke="#444" stroke-width="0.8"/>
<line x1="567.6" y1="453.6" x2="567.6" y2="455.6" stroke="#444" stroke-width="0.8"/>
<line x1="584.15" y1="453.6" x2="584.15" y2="455.6" stroke="#444" stroke-width="0.8"/>
<line x1="600.7" y1="453.6" x2="600.7" y2="455.6" stroke="#444" stroke-width="0.8"/>
<line x1="617.25" y1="453.6" x2="617.25" y2="455.6" stroke="#444" stroke-width="0.8"/>
<line x1="633.8" y1="453.6" x2="633.8" y2="455.6" stroke="#444" stroke-width="0.8"/>
<line x1="650.35" y1="453.6" x2="650.35" y2="455.6" stroke="#444" stroke-width="0.8"/>
<line x1="666.9" y1="453.6" x2="666.9" y2="455.6" stroke="#444" stroke-width="0.8"/>
<text x="501.4" y="464.88" font-size="8" text-anchor="middle" fill="#222">0</text>
<text x="534.5" y="464.88" font-size="8" text-anchor="middle" fill="#222">4</text>
<text x="567.6" y="464.88" font-size="8" text-anchor="middle" fill="#222">8</text>
<text x="600.7" y="464.88" font-size="8" text-anchor="middle" fill="#222">12</text>
<text x="633.8" y="464.88" font-size="8" text-anchor="middle" fill="#222">16</text>
<text x="666.9" y="464.88" font-size="8" text-anchor="middle" fill="#222">20</text>
<text x="575.2" y="477.4" font-size="12.6" text-anchor="middle" fill="#222">Cycle number</text>
<text x="489.5" y="346.2" font-size="8.6" text-anchor="middle" fill="#4a4a4a">20 &#176;<tspan dx="-0.5">C</tspan></text>
<text x="489.85" y="446.3" font-size="8.6" text-anchor="middle" fill="#4a4a4a">200 &#176;<tspan dx="-0.5">C</tspan></text>
<path d="M486.2,351 L493.3,351 L493.3,428.7 L496.8,428.7 L489.75,434.3 L482.7,428.7 L486.2,428.7 Z" fill="url(#grf)" stroke="none" stroke-width="1"/>
<rect x="482.7" y="428" width="14" height="6.5" fill="#f2603e" opacity="0"/>
<line x1="18.4" y1="501.4" x2="220.4" y2="501.4" stroke="#333" stroke-width="1"/>
<line x1="220.4" y1="501.4" x2="220.4" y2="661.2" stroke="#555" stroke-width="1"/>
<line x1="18.4" y1="500.9" x2="18.4" y2="661.8" stroke="#888" stroke-width="1.4"/>
<line x1="18.4" y1="661.2" x2="220.4" y2="661.2" stroke="#888" stroke-width="1.4"/>
<line x1="24.5" y1="661.2" x2="24.5" y2="663.2" stroke="#444" stroke-width="0.8"/>
<line x1="56.2" y1="661.2" x2="56.2" y2="663.2" stroke="#444" stroke-width="0.8"/>
<line x1="87.9" y1="661.2" x2="87.9" y2="663.2" stroke="#444" stroke-width="0.8"/>
<line x1="119.6" y1="661.2" x2="119.6" y2="663.2" stroke="#444" stroke-width="0.8"/>
<line x1="151.3" y1="661.2" x2="151.3" y2="663.2" stroke="#444" stroke-width="0.8"/>
<line x1="183" y1="661.2" x2="183" y2="663.2" stroke="#444" stroke-width="0.8"/>
<line x1="214.7" y1="661.2" x2="214.7" y2="663.2" stroke="#444" stroke-width="0.8"/>
<line x1="40.35" y1="661.2" x2="40.35" y2="663.2" stroke="#444" stroke-width="0.8"/>
<line x1="72.05" y1="661.2" x2="72.05" y2="663.2" stroke="#444" stroke-width="0.8"/>
<line x1="103.75" y1="661.2" x2="103.75" y2="663.2" stroke="#444" stroke-width="0.8"/>
<line x1="135.45" y1="661.2" x2="135.45" y2="663.2" stroke="#444" stroke-width="0.8"/>
<line x1="167.15" y1="661.2" x2="167.15" y2="663.2" stroke="#444" stroke-width="0.8"/>
<line x1="198.85" y1="661.2" x2="198.85" y2="663.2" stroke="#444" stroke-width="0.8"/>
<text x="24.5" y="672.54" font-size="7.9" text-anchor="middle" fill="#222">0</text>
<text x="56.2" y="672.54" font-size="7.9" text-anchor="middle" fill="#222">5</text>
<text x="87.9" y="672.54" font-size="7.9" text-anchor="middle" fill="#222">10</text>
<text x="119.6" y="672.54" font-size="7.9" text-anchor="middle" fill="#222">15</text>
<text x="151.3" y="672.54" font-size="7.9" text-anchor="middle" fill="#222">20</text>
<text x="183" y="672.54" font-size="7.9" text-anchor="middle" fill="#222">25</text>
<text x="214.7" y="672.54" font-size="7.9" text-anchor="middle" fill="#222">30</text>
<text x="119" y="687.3" font-size="11.6" text-anchor="middle" fill="#222">Storage time (day)</text>
<text x="11.6" y="580" font-size="12" text-anchor="middle" fill="#222" transform="rotate(-90 11.6 580)">PL Intensity</text>
<text x="0" y="506.6" font-size="18" text-anchor="start" fill="#111">g</text>
<text x="23.6" y="511.9" font-size="10.6" text-anchor="start" fill="#222" textLength="28.6" lengthAdjust="spacingAndGlyphs">Water</text>
<polyline points="24.5,546 37.18,547.3 49.86,556.2 62.54,553.6 75.22,556.5 87.9,556.5 100.58,560.4 113.26,561.5 125.94,562.7 138.62,561.8 151.3,562.7 163.98,561.8 176.66,569.2 189.34,569.2 202.02,561.8 214.7,561.5" fill="none" stroke="#5ab8f2" stroke-width="0.9" stroke-linejoin="round"/>
<circle cx="24.5" cy="546" r="1.3" fill="#5ab8f2" stroke="none" stroke-width="0.5"/>
<circle cx="37.18" cy="547.3" r="1.3" fill="#5ab8f2" stroke="none" stroke-width="0.5"/>
<circle cx="49.86" cy="556.2" r="1.3" fill="#5ab8f2" stroke="none" stroke-width="0.5"/>
<circle cx="62.54" cy="553.6" r="1.3" fill="#5ab8f2" stroke="none" stroke-width="0.5"/>
<circle cx="75.22" cy="556.5" r="1.3" fill="#5ab8f2" stroke="none" stroke-width="0.5"/>
<circle cx="87.9" cy="556.5" r="1.3" fill="#5ab8f2" stroke="none" stroke-width="0.5"/>
<circle cx="100.58" cy="560.4" r="1.3" fill="#5ab8f2" stroke="none" stroke-width="0.5"/>
<circle cx="113.26" cy="561.5" r="1.3" fill="#5ab8f2" stroke="none" stroke-width="0.5"/>
<circle cx="125.94" cy="562.7" r="1.3" fill="#5ab8f2" stroke="none" stroke-width="0.5"/>
<circle cx="138.62" cy="561.8" r="1.3" fill="#5ab8f2" stroke="none" stroke-width="0.5"/>
<circle cx="151.3" cy="562.7" r="1.3" fill="#5ab8f2" stroke="none" stroke-width="0.5"/>
<circle cx="163.98" cy="561.8" r="1.3" fill="#5ab8f2" stroke="none" stroke-width="0.5"/>
<circle cx="176.66" cy="569.2" r="1.3" fill="#5ab8f2" stroke="none" stroke-width="0.5"/>
<circle cx="189.34" cy="569.2" r="1.3" fill="#5ab8f2" stroke="none" stroke-width="0.5"/>
<circle cx="202.02" cy="561.8" r="1.3" fill="#5ab8f2" stroke="none" stroke-width="0.5"/>
<circle cx="214.7" cy="561.5" r="1.3" fill="#5ab8f2" stroke="none" stroke-width="0.5"/>
<polyline points="24.5,594.9 37.18,590.2 49.86,590.2 62.54,578.6 75.22,578 87.9,593.5 100.58,594.4 113.26,601.9 125.94,601.4 138.62,602.2 151.3,592.6 163.98,595.2 176.66,597.5 189.34,608 202.02,608.4 214.7,608" fill="none" stroke="#6aea6a" stroke-width="0.9" stroke-linejoin="round"/>
<circle cx="24.5" cy="594.9" r="1.3" fill="#6aea6a" stroke="none" stroke-width="0.5"/>
<circle cx="37.18" cy="590.2" r="1.3" fill="#6aea6a" stroke="none" stroke-width="0.5"/>
<circle cx="49.86" cy="590.2" r="1.3" fill="#6aea6a" stroke="none" stroke-width="0.5"/>
<circle cx="62.54" cy="578.6" r="1.3" fill="#6aea6a" stroke="none" stroke-width="0.5"/>
<circle cx="75.22" cy="578" r="1.3" fill="#6aea6a" stroke="none" stroke-width="0.5"/>
<circle cx="87.9" cy="593.5" r="1.3" fill="#6aea6a" stroke="none" stroke-width="0.5"/>
<circle cx="100.58" cy="594.4" r="1.3" fill="#6aea6a" stroke="none" stroke-width="0.5"/>
<circle cx="113.26" cy="601.9" r="1.3" fill="#6aea6a" stroke="none" stroke-width="0.5"/>
<circle cx="125.94" cy="601.4" r="1.3" fill="#6aea6a" stroke="none" stroke-width="0.5"/>
<circle cx="138.62" cy="602.2" r="1.3" fill="#6aea6a" stroke="none" stroke-width="0.5"/>
<circle cx="151.3" cy="592.6" r="1.3" fill="#6aea6a" stroke="none" stroke-width="0.5"/>
<circle cx="163.98" cy="595.2" r="1.3" fill="#6aea6a" stroke="none" stroke-width="0.5"/>
<circle cx="176.66" cy="597.5" r="1.3" fill="#6aea6a" stroke="none" stroke-width="0.5"/>
<circle cx="189.34" cy="608" r="1.3" fill="#6aea6a" stroke="none" stroke-width="0.5"/>
<circle cx="202.02" cy="608.4" r="1.3" fill="#6aea6a" stroke="none" stroke-width="0.5"/>
<circle cx="214.7" cy="608" r="1.3" fill="#6aea6a" stroke="none" stroke-width="0.5"/>
<polyline points="24.5,624.3 37.18,618.9 49.86,622.9 62.54,628.2 75.22,629 87.9,637.4 100.58,638.7 113.26,636.4 125.94,629.9 138.62,636.9 151.3,636.4 163.98,636.6 176.66,630.8 189.34,631.1 202.02,637.8 214.7,638.3" fill="none" stroke="#f48a8a" stroke-width="0.9" stroke-linejoin="round"/>
<circle cx="24.5" cy="624.3" r="1.3" fill="#f48a8a" stroke="none" stroke-width="0.5"/>
<circle cx="37.18" cy="618.9" r="1.3" fill="#f48a8a" stroke="none" stroke-width="0.5"/>
<circle cx="49.86" cy="622.9" r="1.3" fill="#f48a8a" stroke="none" stroke-width="0.5"/>
<circle cx="62.54" cy="628.2" r="1.3" fill="#f48a8a" stroke="none" stroke-width="0.5"/>
<circle cx="75.22" cy="629" r="1.3" fill="#f48a8a" stroke="none" stroke-width="0.5"/>
<circle cx="87.9" cy="637.4" r="1.3" fill="#f48a8a" stroke="none" stroke-width="0.5"/>
<circle cx="100.58" cy="638.7" r="1.3" fill="#f48a8a" stroke="none" stroke-width="0.5"/>
<circle cx="113.26" cy="636.4" r="1.3" fill="#f48a8a" stroke="none" stroke-width="0.5"/>
<circle cx="125.94" cy="629.9" r="1.3" fill="#f48a8a" stroke="none" stroke-width="0.5"/>
<circle cx="138.62" cy="636.9" r="1.3" fill="#f48a8a" stroke="none" stroke-width="0.5"/>
<circle cx="151.3" cy="636.4" r="1.3" fill="#f48a8a" stroke="none" stroke-width="0.5"/>
<circle cx="163.98" cy="636.6" r="1.3" fill="#f48a8a" stroke="none" stroke-width="0.5"/>
<circle cx="176.66" cy="630.8" r="1.3" fill="#f48a8a" stroke="none" stroke-width="0.5"/>
<circle cx="189.34" cy="631.1" r="1.3" fill="#f48a8a" stroke="none" stroke-width="0.5"/>
<circle cx="202.02" cy="637.8" r="1.3" fill="#f48a8a" stroke="none" stroke-width="0.5"/>
<circle cx="214.7" cy="638.3" r="1.3" fill="#f48a8a" stroke="none" stroke-width="0.5"/>
<text x="24.6" y="542.92" font-size="8.4" text-anchor="middle" fill="#333">1</text>
<text x="24.6" y="590.02" font-size="8.4" text-anchor="middle" fill="#333">1</text>
<text x="24.6" y="620.12" font-size="8.4" text-anchor="middle" fill="#333">1</text>
<g transform="translate(207.8 557.39) scale(0.88 1)">
<text x="0" y="0" font-size="8.3" text-anchor="middle" fill="#222">0.84</text>
</g>
<g transform="translate(207.8 603.99) scale(0.88 1)">
<text x="0" y="0" font-size="8.3" text-anchor="middle" fill="#222">0.87</text>
</g>
<g transform="translate(207.8 633.39) scale(0.88 1)">
<text x="0" y="0" font-size="8.3" text-anchor="middle" fill="#222">0.86</text>
</g>
<line x1="156.4" y1="508.6" x2="175.7" y2="508.6" stroke="#a6d6f6" stroke-width="1.5"/>
<circle cx="166" cy="508.6" r="1" fill="#5ab8f2" stroke="none" stroke-width="0.5"/>
<g transform="translate(178.4 511.91) scale(0.95 1)">
<text x="0" y="0" font-size="9.2" text-anchor="start" fill="#48b2f4" font-weight="bold">Blue-Z</text>
</g>
<line x1="156.4" y1="520.55" x2="175.7" y2="520.55" stroke="#a8f0a0" stroke-width="1.5"/>
<circle cx="166" cy="520.55" r="1" fill="#6aea6a" stroke="none" stroke-width="0.5"/>
<g transform="translate(178.4 523.86) scale(0.95 1)">
<text x="0" y="0" font-size="9.2" text-anchor="start" fill="#5cec5c" font-weight="bold">Green-Z</text>
</g>
<line x1="156.4" y1="532.5" x2="175.7" y2="532.5" stroke="#f8b0b0" stroke-width="1.5"/>
<circle cx="166" cy="532.5" r="1" fill="#f48a8a" stroke="none" stroke-width="0.5"/>
<g transform="translate(178.4 535.81) scale(0.95 1)">
<text x="0" y="0" font-size="9.2" text-anchor="start" fill="#f68e8e" font-weight="bold">Red-Z</text>
</g>
<line x1="245.5" y1="501.4" x2="448" y2="501.4" stroke="#333" stroke-width="1"/>
<line x1="448" y1="501.4" x2="448" y2="661.2" stroke="#555" stroke-width="1"/>
<line x1="245.5" y1="500.9" x2="245.5" y2="661.8" stroke="#888" stroke-width="1.4"/>
<line x1="245.5" y1="661.2" x2="448" y2="661.2" stroke="#888" stroke-width="1.4"/>
<line x1="251.9" y1="661.2" x2="251.9" y2="663.2" stroke="#444" stroke-width="0.8"/>
<line x1="283.6" y1="661.2" x2="283.6" y2="663.2" stroke="#444" stroke-width="0.8"/>
<line x1="315.3" y1="661.2" x2="315.3" y2="663.2" stroke="#444" stroke-width="0.8"/>
<line x1="347" y1="661.2" x2="347" y2="663.2" stroke="#444" stroke-width="0.8"/>
<line x1="378.7" y1="661.2" x2="378.7" y2="663.2" stroke="#444" stroke-width="0.8"/>
<line x1="410.4" y1="661.2" x2="410.4" y2="663.2" stroke="#444" stroke-width="0.8"/>
<line x1="442.1" y1="661.2" x2="442.1" y2="663.2" stroke="#444" stroke-width="0.8"/>
<line x1="267.75" y1="661.2" x2="267.75" y2="663.2" stroke="#444" stroke-width="0.8"/>
<line x1="299.45" y1="661.2" x2="299.45" y2="663.2" stroke="#444" stroke-width="0.8"/>
<line x1="331.15" y1="661.2" x2="331.15" y2="663.2" stroke="#444" stroke-width="0.8"/>
<line x1="362.85" y1="661.2" x2="362.85" y2="663.2" stroke="#444" stroke-width="0.8"/>
<line x1="394.55" y1="661.2" x2="394.55" y2="663.2" stroke="#444" stroke-width="0.8"/>
<line x1="426.25" y1="661.2" x2="426.25" y2="663.2" stroke="#444" stroke-width="0.8"/>
<text x="251.9" y="672.54" font-size="7.9" text-anchor="middle" fill="#222">0</text>
<text x="283.6" y="672.54" font-size="7.9" text-anchor="middle" fill="#222">5</text>
<text x="315.3" y="672.54" font-size="7.9" text-anchor="middle" fill="#222">10</text>
<text x="347" y="672.54" font-size="7.9" text-anchor="middle" fill="#222">15</text>
<text x="378.7" y="672.54" font-size="7.9" text-anchor="middle" fill="#222">20</text>
<text x="410.4" y="672.54" font-size="7.9" text-anchor="middle" fill="#222">25</text>
<text x="442.1" y="672.54" font-size="7.9" text-anchor="middle" fill="#222">30</text>
<text x="345.5" y="687.3" font-size="11.6" text-anchor="middle" fill="#222">Aging time (day)</text>
<text x="238.7" y="580" font-size="12" text-anchor="middle" fill="#222" transform="rotate(-90 238.7 580)">PL Intensity</text>
<text x="228.1" y="506.6" font-size="18" text-anchor="start" fill="#111">h</text>
<text x="251.3" y="512.6" font-size="10.6" text-anchor="start" fill="#222" textLength="77.0" lengthAdjust="spacingAndGlyphs">80 &#176;<tspan dx="-0.4">C</tspan>, 80% R.H.</text>
<polyline points="251.9,555.1 264.58,552.2 277.26,551.3 289.94,554.3 302.62,553.4 315.3,561.3 327.98,555.7 340.66,557.6 353.34,556.2 366.02,555.7 378.7,555.7 391.38,556.5 404.06,559.5 416.74,559.5 429.42,558.3 442.1,554.8" fill="none" stroke="#5ab8f2" stroke-width="0.9" stroke-linejoin="round"/>
<circle cx="251.9" cy="555.1" r="1.3" fill="#5ab8f2" stroke="none" stroke-width="0.5"/>
<circle cx="264.58" cy="552.2" r="1.3" fill="#5ab8f2" stroke="none" stroke-width="0.5"/>
<circle cx="277.26" cy="551.3" r="1.3" fill="#5ab8f2" stroke="none" stroke-width="0.5"/>
<circle cx="289.94" cy="554.3" r="1.3" fill="#5ab8f2" stroke="none" stroke-width="0.5"/>
<circle cx="302.62" cy="553.4" r="1.3" fill="#5ab8f2" stroke="none" stroke-width="0.5"/>
<circle cx="315.3" cy="561.3" r="1.3" fill="#5ab8f2" stroke="none" stroke-width="0.5"/>
<circle cx="327.98" cy="555.7" r="1.3" fill="#5ab8f2" stroke="none" stroke-width="0.5"/>
<circle cx="340.66" cy="557.6" r="1.3" fill="#5ab8f2" stroke="none" stroke-width="0.5"/>
<circle cx="353.34" cy="556.2" r="1.3" fill="#5ab8f2" stroke="none" stroke-width="0.5"/>
<circle cx="366.02" cy="555.7" r="1.3" fill="#5ab8f2" stroke="none" stroke-width="0.5"/>
<circle cx="378.7" cy="555.7" r="1.3" fill="#5ab8f2" stroke="none" stroke-width="0.5"/>
<circle cx="391.38" cy="556.5" r="1.3" fill="#5ab8f2" stroke="none" stroke-width="0.5"/>
<circle cx="404.06" cy="559.5" r="1.3" fill="#5ab8f2" stroke="none" stroke-width="0.5"/>
<circle cx="416.74" cy="559.5" r="1.3" fill="#5ab8f2" stroke="none" stroke-width="0.5"/>
<circle cx="429.42" cy="558.3" r="1.3" fill="#5ab8f2" stroke="none" stroke-width="0.5"/>
<circle cx="442.1" cy="554.8" r="1.3" fill="#5ab8f2" stroke="none" stroke-width="0.5"/>
<polyline points="251.9,591.4 264.58,589.1 277.26,588.4 289.94,594.9 302.62,604.5 315.3,601.9 327.98,601.4 340.66,599.6 353.34,598.4 366.02,597.5 378.7,592.6 391.38,592.3 404.06,590.2 416.74,590.5 429.42,590.5 442.1,590.5" fill="none" stroke="#6aea6a" stroke-width="0.9" stroke-linejoin="round"/>
<circle cx="251.9" cy="591.4" r="1.3" fill="#6aea6a" stroke="none" stroke-width="0.5"/>
<circle cx="264.58" cy="589.1" r="1.3" fill="#6aea6a" stroke="none" stroke-width="0.5"/>
<circle cx="277.26" cy="588.4" r="1.3" fill="#6aea6a" stroke="none" stroke-width="0.5"/>
<circle cx="289.94" cy="594.9" r="1.3" fill="#6aea6a" stroke="none" stroke-width="0.5"/>
<circle cx="302.62" cy="604.5" r="1.3" fill="#6aea6a" stroke="none" stroke-width="0.5"/>
<circle cx="315.3" cy="601.9" r="1.3" fill="#6aea6a" stroke="none" stroke-width="0.5"/>
<circle cx="327.98" cy="601.4" r="1.3" fill="#6aea6a" stroke="none" stroke-width="0.5"/>
<circle cx="340.66" cy="599.6" r="1.3" fill="#6aea6a" stroke="none" stroke-width="0.5"/>
<circle cx="353.34" cy="598.4" r="1.3" fill="#6aea6a" stroke="none" stroke-width="0.5"/>
<circle cx="366.02" cy="597.5" r="1.3" fill="#6aea6a" stroke="none" stroke-width="0.5"/>
<circle cx="378.7" cy="592.6" r="1.3" fill="#6aea6a" stroke="none" stroke-width="0.5"/>
<circle cx="391.38" cy="592.3" r="1.3" fill="#6aea6a" stroke="none" stroke-width="0.5"/>
<circle cx="404.06" cy="590.2" r="1.3" fill="#6aea6a" stroke="none" stroke-width="0.5"/>
<circle cx="416.74" cy="590.5" r="1.3" fill="#6aea6a" stroke="none" stroke-width="0.5"/>
<circle cx="429.42" cy="590.5" r="1.3" fill="#6aea6a" stroke="none" stroke-width="0.5"/>
<circle cx="442.1" cy="590.5" r="1.3" fill="#6aea6a" stroke="none" stroke-width="0.5"/>
<polyline points="251.9,627.6 264.58,621.5 277.26,634.3 289.94,636 302.62,633.6 315.3,634.6 327.98,634.6 340.66,633.1 353.34,634.6 366.02,635.5 378.7,634.3 391.38,634.3 404.06,634.6 416.74,629.6 429.42,630.8 442.1,632.2" fill="none" stroke="#f48a8a" stroke-width="0.9" stroke-linejoin="round"/>
<circle cx="251.9" cy="627.6" r="1.3" fill="#f48a8a" stroke="none" stroke-width="0.5"/>
<circle cx="264.58" cy="621.5" r="1.3" fill="#f48a8a" stroke="none" stroke-width="0.5"/>
<circle cx="277.26" cy="634.3" r="1.3" fill="#f48a8a" stroke="none" stroke-width="0.5"/>
<circle cx="289.94" cy="636" r="1.3" fill="#f48a8a" stroke="none" stroke-width="0.5"/>
<circle cx="302.62" cy="633.6" r="1.3" fill="#f48a8a" stroke="none" stroke-width="0.5"/>
<circle cx="315.3" cy="634.6" r="1.3" fill="#f48a8a" stroke="none" stroke-width="0.5"/>
<circle cx="327.98" cy="634.6" r="1.3" fill="#f48a8a" stroke="none" stroke-width="0.5"/>
<circle cx="340.66" cy="633.1" r="1.3" fill="#f48a8a" stroke="none" stroke-width="0.5"/>
<circle cx="353.34" cy="634.6" r="1.3" fill="#f48a8a" stroke="none" stroke-width="0.5"/>
<circle cx="366.02" cy="635.5" r="1.3" fill="#f48a8a" stroke="none" stroke-width="0.5"/>
<circle cx="378.7" cy="634.3" r="1.3" fill="#f48a8a" stroke="none" stroke-width="0.5"/>
<circle cx="391.38" cy="634.3" r="1.3" fill="#f48a8a" stroke="none" stroke-width="0.5"/>
<circle cx="404.06" cy="634.6" r="1.3" fill="#f48a8a" stroke="none" stroke-width="0.5"/>
<circle cx="416.74" cy="629.6" r="1.3" fill="#f48a8a" stroke="none" stroke-width="0.5"/>
<circle cx="429.42" cy="630.8" r="1.3" fill="#f48a8a" stroke="none" stroke-width="0.5"/>
<circle cx="442.1" cy="632.2" r="1.3" fill="#f48a8a" stroke="none" stroke-width="0.5"/>
<text x="253.6" y="553.52" font-size="8.4" text-anchor="middle" fill="#333">1</text>
<text x="253.6" y="588.62" font-size="8.4" text-anchor="middle" fill="#333">1</text>
<text x="253.6" y="625.12" font-size="8.4" text-anchor="middle" fill="#333">1</text>
<g transform="translate(435.4 551.99) scale(0.88 1)">
<text x="0" y="0" font-size="8.3" text-anchor="middle" fill="#222">1.01</text>
</g>
<g transform="translate(435.4 583.69) scale(0.88 1)">
<text x="0" y="0" font-size="8.3" text-anchor="middle" fill="#222">1.01</text>
</g>
<g transform="translate(435.4 624.69) scale(0.88 1)">
<text x="0" y="0" font-size="8.3" text-anchor="middle" fill="#222">0.91</text>
</g>
<line x1="383.5" y1="510.7" x2="402.8" y2="510.7" stroke="#a6d6f6" stroke-width="1.5"/>
<circle cx="393.1" cy="510.7" r="1" fill="#5ab8f2" stroke="none" stroke-width="0.5"/>
<g transform="translate(405.5 514.01) scale(0.95 1)">
<text x="0" y="0" font-size="9.2" text-anchor="start" fill="#48b2f4" font-weight="bold">Blue-Z</text>
</g>
<line x1="383.5" y1="522.25" x2="402.8" y2="522.25" stroke="#a8f0a0" stroke-width="1.5"/>
<circle cx="393.1" cy="522.25" r="1" fill="#6aea6a" stroke="none" stroke-width="0.5"/>
<g transform="translate(405.5 525.56) scale(0.95 1)">
<text x="0" y="0" font-size="9.2" text-anchor="start" fill="#5cec5c" font-weight="bold">Green-Z</text>
</g>
<line x1="383.5" y1="533.8" x2="402.8" y2="533.8" stroke="#f8b0b0" stroke-width="1.5"/>
<circle cx="393.1" cy="533.8" r="1" fill="#f48a8a" stroke="none" stroke-width="0.5"/>
<g transform="translate(405.5 537.11) scale(0.95 1)">
<text x="0" y="0" font-size="9.2" text-anchor="start" fill="#f68e8e" font-weight="bold">Red-Z</text>
</g>
<line x1="472.9" y1="501.4" x2="675.5" y2="501.4" stroke="#333" stroke-width="1"/>
<line x1="675.5" y1="501.4" x2="675.5" y2="661.2" stroke="#555" stroke-width="1"/>
<line x1="472.9" y1="500.9" x2="472.9" y2="661.8" stroke="#888" stroke-width="1.4"/>
<line x1="472.9" y1="661.2" x2="675.5" y2="661.2" stroke="#888" stroke-width="1.4"/>
<line x1="480.6" y1="661.2" x2="480.6" y2="663.2" stroke="#444" stroke-width="0.8"/>
<line x1="499.33" y1="661.2" x2="499.33" y2="663.2" stroke="#444" stroke-width="0.8"/>
<line x1="518.05" y1="661.2" x2="518.05" y2="663.2" stroke="#444" stroke-width="0.8"/>
<line x1="536.77" y1="661.2" x2="536.77" y2="663.2" stroke="#444" stroke-width="0.8"/>
<line x1="555.5" y1="661.2" x2="555.5" y2="663.2" stroke="#444" stroke-width="0.8"/>
<line x1="574.23" y1="661.2" x2="574.23" y2="663.2" stroke="#444" stroke-width="0.8"/>
<line x1="592.95" y1="661.2" x2="592.95" y2="663.2" stroke="#444" stroke-width="0.8"/>
<line x1="611.67" y1="661.2" x2="611.67" y2="663.2" stroke="#444" stroke-width="0.8"/>
<line x1="630.4" y1="661.2" x2="630.4" y2="663.2" stroke="#444" stroke-width="0.8"/>
<line x1="649.12" y1="661.2" x2="649.12" y2="663.2" stroke="#444" stroke-width="0.8"/>
<line x1="667.85" y1="661.2" x2="667.85" y2="663.2" stroke="#444" stroke-width="0.8"/>
<text x="480.6" y="672.54" font-size="7.9" text-anchor="middle" fill="#222">0</text>
<text x="518.05" y="672.54" font-size="7.9" text-anchor="middle" fill="#222">100</text>
<text x="555.5" y="672.54" font-size="7.9" text-anchor="middle" fill="#222">200</text>
<text x="592.95" y="672.54" font-size="7.9" text-anchor="middle" fill="#222">300</text>
<text x="630.4" y="672.54" font-size="7.9" text-anchor="middle" fill="#222">400</text>
<text x="667.85" y="672.54" font-size="7.9" text-anchor="middle" fill="#222">500</text>
<text x="574" y="687.3" font-size="11.6" text-anchor="middle" fill="#222">Irradiation time (h)</text>
<text x="466.1" y="580" font-size="12" text-anchor="middle" fill="#222" transform="rotate(-90 466.1 580)">PL Intensity</text>
<text x="457.5" y="506.6" font-size="18" text-anchor="start" fill="#111">i</text>
<text x="479.5" y="512.1" font-size="10.6" text-anchor="start" fill="#222" textLength="37.1" lengthAdjust="spacingAndGlyphs">UV light</text>
<polyline points="480.7,555.1 489.7,553.9 498.69,553.4 507.69,553.4 516.68,553.6 525.68,557.4 534.67,557.4 543.67,557.4 552.66,557.4 561.66,558 570.65,559.2 579.65,558.7 588.64,558.7 597.64,559.5 606.63,559.7 615.63,558.8 624.62,558.8 633.62,557.4 642.61,556.9 651.61,556.5 660.6,556.5 669.6,556.5" fill="none" stroke="#5ab8f2" stroke-width="0.9" stroke-linejoin="round"/>
<circle cx="480.7" cy="555.1" r="1.3" fill="#5ab8f2" stroke="none" stroke-width="0.5"/>
<circle cx="489.7" cy="553.9" r="1.3" fill="#5ab8f2" stroke="none" stroke-width="0.5"/>
<circle cx="498.69" cy="553.4" r="1.3" fill="#5ab8f2" stroke="none" stroke-width="0.5"/>
<circle cx="507.69" cy="553.4" r="1.3" fill="#5ab8f2" stroke="none" stroke-width="0.5"/>
<circle cx="516.68" cy="553.6" r="1.3" fill="#5ab8f2" stroke="none" stroke-width="0.5"/>
<circle cx="525.68" cy="557.4" r="1.3" fill="#5ab8f2" stroke="none" stroke-width="0.5"/>
<circle cx="534.67" cy="557.4" r="1.3" fill="#5ab8f2" stroke="none" stroke-width="0.5"/>
<circle cx="543.67" cy="557.4" r="1.3" fill="#5ab8f2" stroke="none" stroke-width="0.5"/>
<circle cx="552.66" cy="557.4" r="1.3" fill="#5ab8f2" stroke="none" stroke-width="0.5"/>
<circle cx="561.66" cy="558" r="1.3" fill="#5ab8f2" stroke="none" stroke-width="0.5"/>
<circle cx="570.65" cy="559.2" r="1.3" fill="#5ab8f2" stroke="none" stroke-width="0.5"/>
<circle cx="579.65" cy="558.7" r="1.3" fill="#5ab8f2" stroke="none" stroke-width="0.5"/>
<circle cx="588.64" cy="558.7" r="1.3" fill="#5ab8f2" stroke="none" stroke-width="0.5"/>
<circle cx="597.64" cy="559.5" r="1.3" fill="#5ab8f2" stroke="none" stroke-width="0.5"/>
<circle cx="606.63" cy="559.7" r="1.3" fill="#5ab8f2" stroke="none" stroke-width="0.5"/>
<circle cx="615.63" cy="558.8" r="1.3" fill="#5ab8f2" stroke="none" stroke-width="0.5"/>
<circle cx="624.62" cy="558.8" r="1.3" fill="#5ab8f2" stroke="none" stroke-width="0.5"/>
<circle cx="633.62" cy="557.4" r="1.3" fill="#5ab8f2" stroke="none" stroke-width="0.5"/>
<circle cx="642.61" cy="556.9" r="1.3" fill="#5ab8f2" stroke="none" stroke-width="0.5"/>
<circle cx="651.61" cy="556.5" r="1.3" fill="#5ab8f2" stroke="none" stroke-width="0.5"/>
<circle cx="660.6" cy="556.5" r="1.3" fill="#5ab8f2" stroke="none" stroke-width="0.5"/>
<circle cx="669.6" cy="556.5" r="1.3" fill="#5ab8f2" stroke="none" stroke-width="0.5"/>
<polyline points="480.7,600.7 489.7,599.8 498.69,599.3 507.69,597.5 516.68,592.8 525.68,592.3 534.67,597.5 543.67,594.4 552.66,595.4 561.66,593.7 570.65,594.9 579.65,592.8 588.64,593.5 597.64,595.2 606.63,596.6 615.63,594.4 624.62,597.2 633.62,596.6 642.61,596.1 651.61,599.3 660.6,598.7 669.6,599.8" fill="none" stroke="#6aea6a" stroke-width="0.9" stroke-linejoin="round"/>
<circle cx="480.7" cy="600.7" r="1.3" fill="#6aea6a" stroke="none" stroke-width="0.5"/>
<circle cx="489.7" cy="599.8" r="1.3" fill="#6aea6a" stroke="none" stroke-width="0.5"/>
<circle cx="498.69" cy="599.3" r="1.3" fill="#6aea6a" stroke="none" stroke-width="0.5"/>
<circle cx="507.69" cy="597.5" r="1.3" fill="#6aea6a" stroke="none" stroke-width="0.5"/>
<circle cx="516.68" cy="592.8" r="1.3" fill="#6aea6a" stroke="none" stroke-width="0.5"/>
<circle cx="525.68" cy="592.3" r="1.3" fill="#6aea6a" stroke="none" stroke-width="0.5"/>
<circle cx="534.67" cy="597.5" r="1.3" fill="#6aea6a" stroke="none" stroke-width="0.5"/>
<circle cx="543.67" cy="594.4" r="1.3" fill="#6aea6a" stroke="none" stroke-width="0.5"/>
<circle cx="552.66" cy="595.4" r="1.3" fill="#6aea6a" stroke="none" stroke-width="0.5"/>
<circle cx="561.66" cy="593.7" r="1.3" fill="#6aea6a" stroke="none" stroke-width="0.5"/>
<circle cx="570.65" cy="594.9" r="1.3" fill="#6aea6a" stroke="none" stroke-width="0.5"/>
<circle cx="579.65" cy="592.8" r="1.3" fill="#6aea6a" stroke="none" stroke-width="0.5"/>
<circle cx="588.64" cy="593.5" r="1.3" fill="#6aea6a" stroke="none" stroke-width="0.5"/>
<circle cx="597.64" cy="595.2" r="1.3" fill="#6aea6a" stroke="none" stroke-width="0.5"/>
<circle cx="606.63" cy="596.6" r="1.3" fill="#6aea6a" stroke="none" stroke-width="0.5"/>
<circle cx="615.63" cy="594.4" r="1.3" fill="#6aea6a" stroke="none" stroke-width="0.5"/>
<circle cx="624.62" cy="597.2" r="1.3" fill="#6aea6a" stroke="none" stroke-width="0.5"/>
<circle cx="633.62" cy="596.6" r="1.3" fill="#6aea6a" stroke="none" stroke-width="0.5"/>
<circle cx="642.61" cy="596.1" r="1.3" fill="#6aea6a" stroke="none" stroke-width="0.5"/>
<circle cx="651.61" cy="599.3" r="1.3" fill="#6aea6a" stroke="none" stroke-width="0.5"/>
<circle cx="660.6" cy="598.7" r="1.3" fill="#6aea6a" stroke="none" stroke-width="0.5"/>
<circle cx="669.6" cy="599.8" r="1.3" fill="#6aea6a" stroke="none" stroke-width="0.5"/>
<polyline points="480.7,633.8 489.7,621.7 498.69,626.8 507.69,628.2 516.68,629 525.68,632 534.67,633.9 543.67,630.3 552.66,635.2 561.66,636.6 570.65,633.4 579.65,632.2 588.64,632.2 597.64,634.3 606.63,634.6 615.63,629.6 624.62,630.8 633.62,630.4 642.61,634.3 651.61,634.6 660.6,635.2 669.6,636.4" fill="none" stroke="#f48a8a" stroke-width="0.9" stroke-linejoin="round"/>
<circle cx="480.7" cy="633.8" r="1.3" fill="#f48a8a" stroke="none" stroke-width="0.5"/>
<circle cx="489.7" cy="621.7" r="1.3" fill="#f48a8a" stroke="none" stroke-width="0.5"/>
<circle cx="498.69" cy="626.8" r="1.3" fill="#f48a8a" stroke="none" stroke-width="0.5"/>
<circle cx="507.69" cy="628.2" r="1.3" fill="#f48a8a" stroke="none" stroke-width="0.5"/>
<circle cx="516.68" cy="629" r="1.3" fill="#f48a8a" stroke="none" stroke-width="0.5"/>
<circle cx="525.68" cy="632" r="1.3" fill="#f48a8a" stroke="none" stroke-width="0.5"/>
<circle cx="534.67" cy="633.9" r="1.3" fill="#f48a8a" stroke="none" stroke-width="0.5"/>
<circle cx="543.67" cy="630.3" r="1.3" fill="#f48a8a" stroke="none" stroke-width="0.5"/>
<circle cx="552.66" cy="635.2" r="1.3" fill="#f48a8a" stroke="none" stroke-width="0.5"/>
<circle cx="561.66" cy="636.6" r="1.3" fill="#f48a8a" stroke="none" stroke-width="0.5"/>
<circle cx="570.65" cy="633.4" r="1.3" fill="#f48a8a" stroke="none" stroke-width="0.5"/>
<circle cx="579.65" cy="632.2" r="1.3" fill="#f48a8a" stroke="none" stroke-width="0.5"/>
<circle cx="588.64" cy="632.2" r="1.3" fill="#f48a8a" stroke="none" stroke-width="0.5"/>
<circle cx="597.64" cy="634.3" r="1.3" fill="#f48a8a" stroke="none" stroke-width="0.5"/>
<circle cx="606.63" cy="634.6" r="1.3" fill="#f48a8a" stroke="none" stroke-width="0.5"/>
<circle cx="615.63" cy="629.6" r="1.3" fill="#f48a8a" stroke="none" stroke-width="0.5"/>
<circle cx="624.62" cy="630.8" r="1.3" fill="#f48a8a" stroke="none" stroke-width="0.5"/>
<circle cx="633.62" cy="630.4" r="1.3" fill="#f48a8a" stroke="none" stroke-width="0.5"/>
<circle cx="642.61" cy="634.3" r="1.3" fill="#f48a8a" stroke="none" stroke-width="0.5"/>
<circle cx="651.61" cy="634.6" r="1.3" fill="#f48a8a" stroke="none" stroke-width="0.5"/>
<circle cx="660.6" cy="635.2" r="1.3" fill="#f48a8a" stroke="none" stroke-width="0.5"/>
<circle cx="669.6" cy="636.4" r="1.3" fill="#f48a8a" stroke="none" stroke-width="0.5"/>
<text x="480.9" y="552.52" font-size="8.4" text-anchor="middle" fill="#333">1</text>
<text x="482.6" y="597.32" font-size="8.4" text-anchor="middle" fill="#333">1</text>
<text x="482.3" y="624.02" font-size="8.4" text-anchor="middle" fill="#333">1</text>
<g transform="translate(662.9 553.79) scale(0.88 1)">
<text x="0" y="0" font-size="8.3" text-anchor="middle" fill="#222">0.97</text>
</g>
<g transform="translate(662.9 594.39) scale(0.88 1)">
<text x="0" y="0" font-size="8.3" text-anchor="middle" fill="#222">1.01</text>
</g>
<g transform="translate(662.9 632.89) scale(0.88 1)">
<text x="0" y="0" font-size="8.3" text-anchor="middle" fill="#222">0.95</text>
</g>
<line x1="610.9" y1="509.6" x2="630.2" y2="509.6" stroke="#a6d6f6" stroke-width="1.5"/>
<circle cx="620.5" cy="509.6" r="1" fill="#5ab8f2" stroke="none" stroke-width="0.5"/>
<g transform="translate(632.9 512.91) scale(0.95 1)">
<text x="0" y="0" font-size="9.2" text-anchor="start" fill="#48b2f4" font-weight="bold">Blue-Z</text>
</g>
<line x1="610.9" y1="521.25" x2="630.2" y2="521.25" stroke="#a8f0a0" stroke-width="1.5"/>
<circle cx="620.5" cy="521.25" r="1" fill="#6aea6a" stroke="none" stroke-width="0.5"/>
<g transform="translate(632.9 524.56) scale(0.95 1)">
<text x="0" y="0" font-size="9.2" text-anchor="start" fill="#5cec5c" font-weight="bold">Green-Z</text>
</g>
<line x1="610.9" y1="532.9" x2="630.2" y2="532.9" stroke="#f8b0b0" stroke-width="1.5"/>
<circle cx="620.5" cy="532.9" r="1" fill="#f48a8a" stroke="none" stroke-width="0.5"/>
<g transform="translate(632.9 536.21) scale(0.95 1)">
<text x="0" y="0" font-size="9.2" text-anchor="start" fill="#f68e8e" font-weight="bold">Red-Z</text>
</g>
</svg></body></html>
